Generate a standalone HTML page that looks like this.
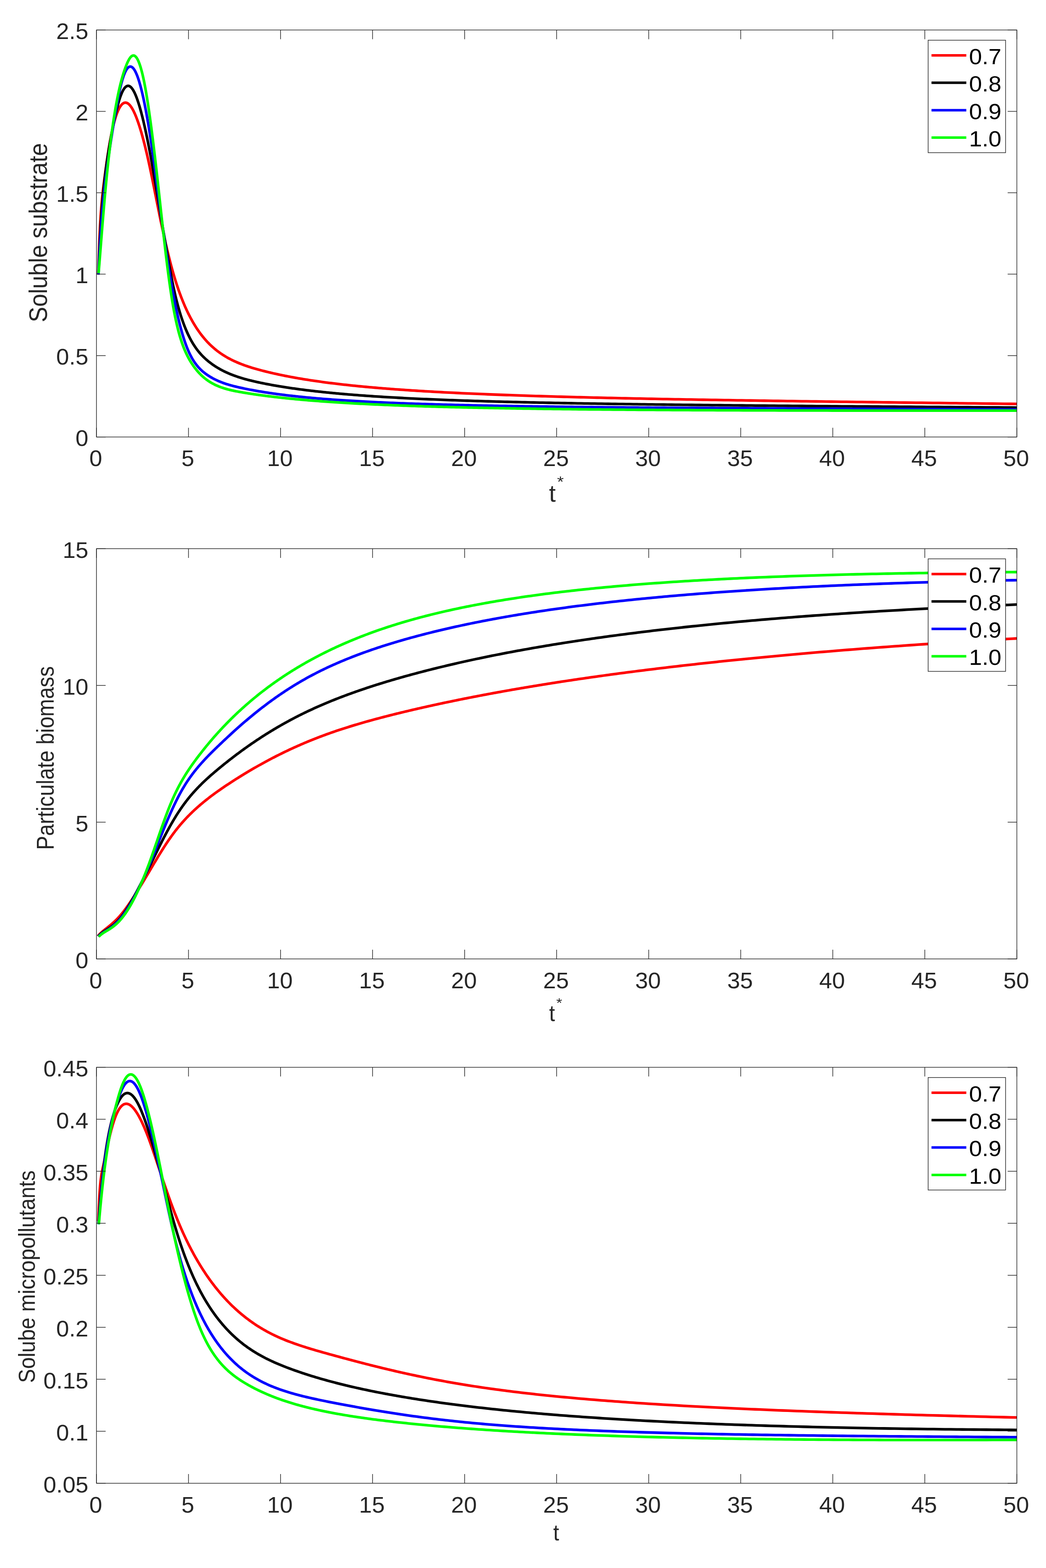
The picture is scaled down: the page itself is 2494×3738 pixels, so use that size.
<!DOCTYPE html>
<html><head><meta charset="utf-8"><title>plot</title>
<style>html,body{margin:0;padding:0;background:#fff;} svg{display:block;}</style>
</head><body>
<svg xmlns="http://www.w3.org/2000/svg" width="2494" height="3738" viewBox="0 0 2494 3738" font-family="'Liberation Sans', Arial, Helvetica, sans-serif">
<rect width="2494" height="3738" fill="#ffffff"/>
<clipPath id="c0"><rect x="230.0" y="71.5" width="2194.5" height="970.2"/></clipPath>
<g clip-path="url(#c0)" fill="none" stroke-width="6.3" stroke-linejoin="round" stroke-linecap="butt">
<path d="M234.40,653.95 L234.53,648.92 L234.66,643.98 L234.80,639.12 L234.93,634.35 L235.07,629.67 L235.20,625.06 L235.34,620.54 L235.48,616.09 L235.62,611.73 L235.76,607.44 L235.90,603.23 L236.04,599.10 L236.19,595.04 L236.33,591.05 L236.47,587.14 L236.62,583.29 L236.77,579.52 L236.92,575.81 L237.06,572.18 L237.21,568.60 L237.37,565.10 L237.52,561.65 L237.67,558.27 L237.83,554.95 L237.98,551.69 L238.14,548.49 L238.29,545.35 L238.45,542.27 L238.61,539.24 L238.77,536.26 L238.93,533.34 L239.10,530.47 L239.26,527.65 L239.42,524.89 L239.59,522.17 L239.76,519.49 L239.93,516.87 L240.10,514.29 L240.27,511.75 L240.44,509.25 L240.61,506.80 L240.79,504.39 L240.96,502.02 L241.14,499.68 L241.31,497.38 L241.49,495.12 L241.67,492.89 L241.85,490.70 L242.04,488.54 L242.22,486.41 L242.41,484.31 L242.59,482.24 L242.78,480.19 L242.97,478.17 L243.16,476.18 L243.35,474.21 L243.54,472.27 L243.74,470.34 L243.93,468.44 L244.13,466.56 L244.33,464.69 L244.53,462.84 L244.73,461.01 L244.93,459.19 L245.13,457.39 L245.34,455.60 L245.54,453.82 L245.75,452.05 L245.96,450.29 L246.17,448.53 L246.38,446.78 L246.60,445.04 L246.81,443.31 L247.03,441.57 L247.24,439.84 L247.46,438.11 L247.68,436.38 L247.91,434.64 L248.13,432.90 L248.36,431.16 L248.58,429.42 L248.81,427.67 L249.04,425.91 L249.27,424.14 L249.50,422.37 L249.74,420.59 L249.98,418.80 L250.21,417.00 L250.45,415.20 L250.69,413.39 L250.94,411.58 L251.18,409.77 L251.43,407.94 L251.67,406.12 L251.92,404.28 L252.17,402.45 L252.43,400.61 L252.68,398.77 L252.94,396.92 L253.20,395.07 L253.45,393.22 L253.72,391.37 L253.98,389.52 L254.24,387.66 L254.51,385.80 L254.78,383.94 L255.05,382.09 L255.32,380.23 L255.60,378.37 L255.87,376.51 L256.15,374.65 L256.43,372.79 L256.71,370.94 L256.99,369.08 L257.28,367.23 L257.57,365.38 L257.86,363.53 L258.15,361.69 L258.44,359.85 L258.74,358.01 L259.03,356.17 L259.33,354.34 L259.63,352.51 L259.94,350.69 L260.24,348.88 L260.55,347.06 L260.86,345.26 L261.17,343.46 L261.49,341.67 L261.80,339.88 L262.12,338.10 L262.44,336.32 L262.76,334.56 L263.09,332.80 L263.41,331.05 L263.74,329.31 L264.08,327.58 L264.41,325.85 L264.74,324.14 L265.08,322.43 L265.42,320.74 L265.77,319.05 L266.11,317.38 L266.46,315.71 L266.81,314.06 L267.16,312.42 L267.51,310.79 L267.87,309.18 L268.23,307.57 L268.59,305.98 L268.96,304.40 L269.32,302.83 L269.69,301.28 L270.07,299.74 L270.44,298.22 L270.82,296.71 L271.20,295.22 L271.58,293.74 L271.96,292.27 L272.35,290.83 L272.74,289.40 L273.13,287.98 L273.53,286.58 L273.92,285.20 L274.33,283.84 L274.73,282.49 L275.13,281.16 L275.54,279.85 L275.95,278.56 L276.37,277.29 L276.79,276.03 L277.21,274.80 L277.63,273.58 L278.05,272.39 L278.48,271.22 L278.91,270.06 L279.35,268.93 L279.79,267.82 L280.23,266.73 L280.67,265.66 L281.12,264.62 L281.57,263.60 L282.02,262.60 L282.47,261.62 L282.93,260.67 L283.39,259.74 L283.86,258.84 L284.33,257.96 L284.80,257.10 L285.27,256.27 L285.75,255.47 L286.23,254.69 L286.72,253.94 L287.20,253.21 L287.69,252.51 L288.19,251.84 L288.69,251.19 L289.19,250.57 L289.69,249.98 L290.20,249.42 L290.71,248.89 L291.22,248.38 L291.74,247.91 L292.26,247.47 L292.79,247.05 L293.32,246.67 L293.85,246.32 L294.39,246.01 L294.93,245.72 L295.47,245.48 L296.02,245.26 L296.57,245.08 L297.12,244.93 L297.68,244.82 L298.24,244.75 L298.81,244.71 L299.38,244.71 L299.95,244.75 L300.53,244.83 L301.11,244.95 L301.70,245.10 L302.28,245.30 L302.88,245.53 L303.48,245.81 L304.08,246.12 L304.68,246.48 L305.29,246.89 L305.91,247.33 L306.52,247.82 L307.15,248.35 L307.77,248.93 L308.40,249.55 L309.04,250.22 L309.68,250.94 L310.32,251.70 L310.97,252.51 L311.62,253.36 L312.28,254.27 L312.94,255.22 L313.60,256.22 L314.27,257.28 L314.95,258.38 L315.63,259.53 L316.31,260.74 L317.00,262.00 L317.69,263.31 L318.39,264.67 L319.10,266.08 L319.80,267.55 L320.51,269.08 L321.23,270.66 L321.95,272.30 L322.68,273.99 L323.41,275.74 L324.15,277.54 L324.89,279.40 L325.64,281.33 L326.39,283.31 L327.15,285.35 L327.91,287.44 L328.68,289.60 L329.45,291.83 L330.23,294.11 L331.01,296.45 L331.80,298.86 L332.59,301.33 L333.39,303.86 L334.20,306.46 L335.01,309.12 L335.82,311.84 L336.65,314.64 L337.47,317.49 L338.31,320.42 L339.14,323.41 L339.99,326.47 L340.84,329.60 L341.69,332.79 L342.55,336.06 L343.42,339.39 L344.29,342.80 L345.17,346.28 L346.06,349.82 L346.95,353.44 L347.84,357.14 L348.75,360.90 L349.66,364.74 L350.57,368.65 L351.49,372.64 L352.42,376.70 L353.36,380.84 L354.30,385.05 L355.24,389.34 L356.20,393.71 L357.16,398.15 L358.12,402.67 L359.09,407.28 L360.07,411.95 L361.06,416.70 L362.05,421.52 L363.05,426.40 L364.06,431.34 L365.07,436.34 L366.09,441.40 L367.12,446.50 L368.15,451.66 L369.19,456.86 L370.24,462.10 L371.30,467.38 L372.36,472.69 L373.43,478.04 L374.51,483.41 L375.59,488.81 L376.68,494.23 L377.78,499.66 L378.89,505.11 L380.00,510.57 L381.12,516.04 L382.25,521.52 L383.39,526.99 L384.53,532.46 L385.69,537.93 L386.85,543.39 L388.01,548.83 L389.19,554.27 L390.37,559.69 L391.57,565.09 L392.77,570.46 L393.98,575.81 L395.19,581.14 L396.42,586.43 L397.65,591.69 L398.89,596.91 L400.14,602.10 L401.40,607.24 L402.67,612.34 L403.94,617.39 L405.23,622.40 L406.52,627.36 L407.82,632.26 L409.13,637.12 L410.45,641.92 L411.78,646.66 L413.12,651.34 L414.46,655.96 L415.82,660.52 L417.19,665.01 L418.56,669.44 L419.94,673.81 L421.34,678.11 L422.74,682.36 L424.15,686.54 L425.57,690.66 L427.00,694.72 L428.45,698.73 L429.90,702.67 L431.36,706.55 L432.83,710.38 L434.31,714.15 L435.80,717.86 L437.30,721.51 L438.81,725.11 L440.33,728.65 L441.86,732.14 L443.41,735.57 L444.96,738.95 L446.52,742.27 L448.10,745.54 L449.68,748.76 L451.28,751.93 L452.88,755.04 L454.50,758.11 L456.13,761.12 L457.76,764.08 L459.42,766.99 L461.08,769.86 L462.75,772.67 L464.43,775.44 L466.13,778.16 L467.84,780.83 L469.55,783.45 L471.28,786.03 L473.03,788.56 L474.78,791.05 L476.55,793.49 L478.32,795.89 L480.11,798.25 L481.92,800.56 L483.73,802.83 L485.56,805.05 L487.40,807.24 L489.25,809.38 L491.11,811.48 L492.99,813.55 L494.88,815.57 L496.78,817.55 L498.70,819.50 L500.62,821.40 L502.57,823.27 L504.52,825.11 L506.49,826.90 L508.47,828.66 L510.46,830.39 L512.47,832.07 L514.49,833.73 L516.53,835.35 L518.58,836.94 L520.64,838.50 L522.72,840.02 L524.81,841.52 L526.92,842.98 L529.04,844.41 L531.17,845.82 L533.32,847.19 L535.49,848.54 L537.67,849.86 L539.86,851.15 L542.07,852.41 L544.29,853.65 L546.53,854.87 L548.78,856.06 L551.05,857.22 L553.33,858.37 L555.63,859.49 L557.95,860.58 L560.28,861.66 L562.63,862.71 L564.99,863.75 L567.37,864.76 L569.76,865.76 L572.18,866.73 L574.60,867.69 L577.05,868.63 L579.51,869.56 L581.99,870.46 L584.48,871.35 L586.99,872.23 L589.52,873.09 L592.07,873.94 L594.63,874.77 L597.21,875.60 L599.81,876.41 L602.42,877.20 L605.06,877.99 L607.71,878.77 L610.38,879.53 L613.07,880.29 L615.77,881.04 L618.50,881.78 L621.24,882.51 L624.00,883.24 L626.78,883.96 L629.58,884.67 L632.40,885.38 L635.23,886.09 L638.09,886.79 L640.97,887.48 L643.86,888.17 L646.78,888.85 L649.71,889.53 L652.67,890.20 L655.64,890.87 L658.64,891.53 L661.65,892.19 L664.69,892.85 L667.75,893.49 L670.82,894.14 L673.92,894.77 L677.04,895.41 L680.18,896.04 L683.34,896.66 L686.53,897.28 L689.73,897.89 L692.96,898.50 L696.21,899.11 L699.48,899.71 L702.77,900.30 L706.09,900.89 L709.43,901.48 L712.79,902.06 L716.17,902.64 L719.58,903.21 L723.01,903.78 L726.46,904.34 L729.94,904.90 L733.44,905.45 L736.96,906.00 L740.51,906.55 L744.08,907.09 L747.68,907.63 L751.30,908.16 L754.94,908.69 L758.61,909.21 L762.31,909.73 L766.03,910.25 L769.77,910.76 L773.54,911.27 L777.34,911.77 L781.16,912.27 L785.01,912.76 L788.89,913.25 L792.79,913.74 L796.72,914.22 L800.67,914.70 L804.65,915.17 L808.66,915.64 L812.69,916.11 L816.76,916.57 L820.85,917.03 L824.96,917.49 L829.11,917.94 L833.29,918.39 L837.49,918.83 L841.72,919.27 L845.98,919.70 L850.27,920.14 L854.59,920.57 L858.93,920.99 L863.31,921.41 L867.72,921.83 L872.15,922.24 L876.62,922.65 L881.12,923.06 L885.65,923.46 L890.20,923.87 L894.79,924.26 L899.42,924.65 L904.07,925.04 L908.75,925.43 L913.47,925.81 L918.21,926.19 L922.99,926.57 L927.81,926.94 L932.65,927.31 L937.53,927.68 L942.44,928.04 L947.39,928.40 L952.36,928.76 L957.38,929.11 L962.42,929.47 L967.50,929.81 L972.62,930.16 L977.77,930.50 L982.95,930.84 L988.17,931.17 L993.43,931.51 L998.72,931.84 L1004.05,932.16 L1009.41,932.49 L1014.81,932.81 L1020.25,933.13 L1025.72,933.44 L1031.23,933.76 L1036.78,934.07 L1042.36,934.37 L1047.99,934.68 L1053.65,934.98 L1059.35,935.28 L1065.09,935.57 L1070.87,935.87 L1076.69,936.16 L1082.54,936.45 L1088.44,936.73 L1094.38,937.02 L1100.35,937.30 L1106.37,937.58 L1112.43,937.86 L1118.53,938.13 L1124.67,938.40 L1130.86,938.67 L1137.08,938.94 L1143.35,939.20 L1149.66,939.46 L1156.01,939.72 L1162.41,939.98 L1168.85,940.24 L1175.33,940.49 L1181.86,940.74 L1188.43,940.99 L1195.05,941.24 L1201.71,941.48 L1208.42,941.73 L1215.17,941.97 L1221.97,942.21 L1228.81,942.44 L1235.71,942.68 L1242.64,942.91 L1249.63,943.14 L1256.66,943.37 L1263.74,943.60 L1270.87,943.82 L1278.05,944.05 L1285.27,944.27 L1292.55,944.49 L1299.87,944.71 L1307.25,944.92 L1314.67,945.14 L1322.15,945.35 L1329.67,945.56 L1337.25,945.77 L1344.88,945.98 L1352.56,946.19 L1360.29,946.39 L1368.07,946.60 L1375.91,946.80 L1383.80,947.00 L1391.75,947.20 L1399.75,947.40 L1407.80,947.60 L1415.91,947.79 L1424.07,947.99 L1432.29,948.18 L1440.56,948.37 L1448.89,948.56 L1457.28,948.75 L1465.73,948.94 L1474.23,949.12 L1482.79,949.31 L1491.40,949.49 L1500.08,949.68 L1508.81,949.86 L1517.61,950.04 L1526.46,950.22 L1535.38,950.40 L1544.35,950.57 L1553.39,950.75 L1562.49,950.93 L1571.65,951.10 L1580.87,951.28 L1590.15,951.45 L1599.50,951.62 L1608.91,951.79 L1618.38,951.97 L1627.92,952.14 L1637.53,952.30 L1647.20,952.47 L1656.93,952.64 L1666.73,952.81 L1676.60,952.98 L1686.54,953.14 L1696.54,953.31 L1706.61,953.47 L1716.75,953.64 L1726.96,953.80 L1737.23,953.96 L1747.58,954.13 L1758.00,954.29 L1768.49,954.45 L1779.05,954.61 L1789.68,954.77 L1800.38,954.93 L1811.16,955.10 L1822.01,955.26 L1832.93,955.42 L1843.93,955.58 L1855.00,955.74 L1866.15,955.89 L1877.37,956.05 L1888.67,956.21 L1900.05,956.37 L1911.50,956.53 L1923.03,956.69 L1934.64,956.85 L1946.33,957.01 L1958.10,957.17 L1969.95,957.33 L1981.88,957.48 L1993.89,957.64 L2005.98,957.80 L2018.15,957.96 L2030.41,958.12 L2042.75,958.28 L2055.17,958.44 L2067.68,958.60 L2080.27,958.76 L2092.95,958.92 L2105.72,959.08 L2118.57,959.24 L2131.51,959.41 L2144.54,959.57 L2157.65,959.73 L2170.86,959.89 L2184.15,960.06 L2197.54,960.22 L2211.01,960.38 L2224.58,960.55 L2238.24,960.71 L2251.99,960.88 L2265.84,961.05 L2279.78,961.21 L2293.81,961.38 L2307.94,961.55 L2322.17,961.72 L2336.49,961.89 L2350.91,962.06 L2365.43,962.23 L2380.05,962.40 L2394.77,962.58 L2409.58,962.75 L2424.50,962.93" stroke="#ff0000"/>
<path d="M234.60,654.58 L234.73,650.97 L234.87,647.38 L235.00,643.82 L235.14,640.29 L235.27,636.79 L235.41,633.31 L235.55,629.86 L235.69,626.43 L235.83,623.03 L235.97,619.66 L236.11,616.31 L236.26,612.99 L236.40,609.69 L236.55,606.42 L236.69,603.17 L236.84,599.94 L236.99,596.75 L237.14,593.57 L237.29,590.42 L237.44,587.29 L237.59,584.19 L237.74,581.10 L237.90,578.05 L238.05,575.01 L238.21,572.00 L238.37,569.01 L238.52,566.04 L238.68,563.09 L238.84,560.17 L239.01,557.27 L239.17,554.39 L239.33,551.52 L239.50,548.69 L239.66,545.87 L239.83,543.07 L240.00,540.29 L240.17,537.53 L240.34,534.80 L240.51,532.08 L240.69,529.38 L240.86,526.70 L241.03,524.04 L241.21,521.40 L241.39,518.77 L241.57,516.17 L241.75,513.58 L241.93,511.02 L242.11,508.47 L242.30,505.93 L242.48,503.42 L242.67,500.92 L242.86,498.44 L243.04,495.97 L243.23,493.53 L243.43,491.09 L243.62,488.68 L243.81,486.28 L244.01,483.90 L244.21,481.53 L244.40,479.17 L244.60,476.84 L244.80,474.51 L245.01,472.20 L245.21,469.91 L245.41,467.63 L245.62,465.37 L245.83,463.11 L246.04,460.88 L246.25,458.65 L246.46,456.44 L246.67,454.24 L246.89,452.05 L247.10,449.88 L247.32,447.72 L247.54,445.57 L247.76,443.44 L247.98,441.31 L248.21,439.20 L248.43,437.09 L248.66,435.00 L248.89,432.92 L249.12,430.85 L249.35,428.80 L249.58,426.75 L249.82,424.71 L250.05,422.68 L250.29,420.66 L250.53,418.65 L250.77,416.65 L251.01,414.66 L251.26,412.68 L251.50,410.70 L251.75,408.74 L252.00,406.78 L252.25,404.83 L252.50,402.89 L252.76,400.96 L253.01,399.03 L253.27,397.11 L253.53,395.20 L253.79,393.29 L254.06,391.39 L254.32,389.50 L254.59,387.61 L254.86,385.73 L255.13,383.85 L255.40,381.99 L255.67,380.12 L255.95,378.26 L256.23,376.41 L256.51,374.56 L256.79,372.71 L257.07,370.87 L257.36,369.03 L257.64,367.20 L257.93,365.37 L258.22,363.54 L258.52,361.72 L258.81,359.90 L259.11,358.08 L259.41,356.26 L259.71,354.45 L260.01,352.64 L260.32,350.83 L260.63,349.02 L260.94,347.22 L261.25,345.41 L261.56,343.61 L261.88,341.81 L262.19,340.01 L262.51,338.21 L262.84,336.40 L263.16,334.60 L263.49,332.80 L263.82,331.00 L264.15,329.20 L264.48,327.40 L264.82,325.59 L265.16,323.79 L265.50,321.98 L265.84,320.17 L266.18,318.36 L266.53,316.55 L266.88,314.74 L267.23,312.92 L267.59,311.10 L267.94,309.28 L268.30,307.45 L268.66,305.62 L269.03,303.79 L269.39,301.95 L269.76,300.11 L270.13,298.27 L270.51,296.42 L270.88,294.57 L271.26,292.72 L271.64,290.86 L272.03,289.00 L272.42,287.15 L272.80,285.29 L273.20,283.44 L273.59,281.59 L273.99,279.74 L274.39,277.90 L274.79,276.06 L275.20,274.22 L275.61,272.40 L276.02,270.58 L276.43,268.76 L276.85,266.96 L277.27,265.17 L277.69,263.38 L278.11,261.61 L278.54,259.85 L278.97,258.10 L279.41,256.37 L279.84,254.65 L280.28,252.95 L280.73,251.26 L281.17,249.59 L281.62,247.93 L282.07,246.30 L282.53,244.68 L282.99,243.08 L283.45,241.51 L283.91,239.95 L284.38,238.42 L284.85,236.91 L285.32,235.43 L285.80,233.97 L286.28,232.54 L286.76,231.13 L287.25,229.75 L287.74,228.39 L288.23,227.07 L288.73,225.78 L289.23,224.51 L289.73,223.28 L290.24,222.08 L290.75,220.91 L291.27,219.77 L291.78,218.67 L292.30,217.61 L292.83,216.58 L293.36,215.59 L293.89,214.63 L294.42,213.72 L294.96,212.84 L295.50,212.00 L296.05,211.21 L296.60,210.45 L297.15,209.74 L297.71,209.07 L298.27,208.44 L298.84,207.86 L299.40,207.33 L299.98,206.84 L300.55,206.39 L301.13,206.00 L301.72,205.66 L302.31,205.36 L302.90,205.11 L303.49,204.92 L304.09,204.78 L304.70,204.69 L305.31,204.65 L305.92,204.67 L306.54,204.74 L307.16,204.87 L307.78,205.06 L308.41,205.30 L309.04,205.60 L309.68,205.97 L310.32,206.39 L310.97,206.87 L311.62,207.41 L312.28,208.02 L312.94,208.68 L313.60,209.42 L314.27,210.21 L314.94,211.08 L315.62,212.01 L316.30,213.00 L316.99,214.07 L317.68,215.20 L318.38,216.40 L319.08,217.67 L319.79,219.02 L320.50,220.43 L321.21,221.92 L321.93,223.48 L322.66,225.12 L323.39,226.83 L324.12,228.61 L324.86,230.47 L325.61,232.40 L326.36,234.41 L327.11,236.50 L327.87,238.66 L328.64,240.90 L329.41,243.22 L330.19,245.62 L330.97,248.09 L331.75,250.64 L332.55,253.28 L333.34,255.99 L334.15,258.78 L334.95,261.65 L335.77,264.61 L336.59,267.64 L337.41,270.76 L338.24,273.96 L339.08,277.24 L339.92,280.61 L340.77,284.06 L341.62,287.59 L342.48,291.21 L343.34,294.91 L344.21,298.70 L345.09,302.58 L345.97,306.54 L346.86,310.58 L347.76,314.72 L348.66,318.94 L349.56,323.25 L350.48,327.65 L351.39,332.14 L352.32,336.71 L353.25,341.38 L354.19,346.14 L355.13,350.98 L356.08,355.92 L357.04,360.95 L358.00,366.07 L358.97,371.29 L359.95,376.59 L360.93,381.99 L361.92,387.49 L362.92,393.08 L363.92,398.76 L364.93,404.54 L365.95,410.41 L366.97,416.37 L368.00,422.42 L369.04,428.55 L370.09,434.76 L371.14,441.04 L372.20,447.39 L373.26,453.80 L374.34,460.26 L375.42,466.78 L376.51,473.34 L377.60,479.95 L378.70,486.60 L379.81,493.27 L380.93,499.98 L382.06,506.70 L383.19,513.45 L384.33,520.20 L385.48,526.98 L386.64,533.79 L387.80,540.62 L388.97,547.50 L390.15,554.41 L391.34,561.37 L392.54,568.38 L393.74,575.45 L394.95,582.59 L396.17,589.77 L397.40,596.98 L398.64,604.22 L399.88,611.46 L401.14,618.69 L402.40,625.89 L403.67,633.05 L404.95,640.16 L406.24,647.20 L407.54,654.15 L408.84,661.00 L410.16,667.74 L411.48,674.34 L412.81,680.80 L414.16,687.11 L415.51,693.27 L416.87,699.28 L418.24,705.15 L419.61,710.87 L421.00,716.46 L422.40,721.90 L423.81,727.21 L425.22,732.39 L426.65,737.44 L428.08,742.35 L429.53,747.14 L430.98,751.81 L432.45,756.35 L433.92,760.78 L435.41,765.08 L436.90,769.28 L438.41,773.35 L439.92,777.32 L441.45,781.18 L442.99,784.93 L444.53,788.58 L446.09,792.13 L447.66,795.57 L449.23,798.92 L450.82,802.17 L452.42,805.34 L454.03,808.41 L455.65,811.39 L457.29,814.29 L458.93,817.10 L460.58,819.83 L462.25,822.48 L463.93,825.06 L465.61,827.56 L467.31,829.98 L469.03,832.34 L470.75,834.63 L472.48,836.85 L474.23,839.01 L475.99,841.11 L477.76,843.15 L479.54,845.13 L481.33,847.06 L483.14,848.94 L484.96,850.77 L486.79,852.54 L488.63,854.28 L490.49,855.97 L492.36,857.62 L494.24,859.23 L496.13,860.80 L498.04,862.34 L499.96,863.85 L501.89,865.33 L503.84,866.78 L505.80,868.20 L507.77,869.59 L509.76,870.96 L511.76,872.29 L513.77,873.60 L515.79,874.89 L517.83,876.15 L519.89,877.38 L521.96,878.59 L524.04,879.77 L526.13,880.93 L528.24,882.06 L530.37,883.18 L532.51,884.27 L534.66,885.33 L536.83,886.38 L539.01,887.40 L541.21,888.41 L543.42,889.39 L545.65,890.35 L547.89,891.30 L550.15,892.22 L552.42,893.13 L554.71,894.02 L557.02,894.89 L559.34,895.74 L561.67,896.57 L564.02,897.39 L566.39,898.20 L568.77,898.99 L571.17,899.76 L573.59,900.52 L576.02,901.27 L578.47,902.00 L580.94,902.72 L583.42,903.43 L585.92,904.12 L588.43,904.80 L590.96,905.47 L593.51,906.13 L596.08,906.79 L598.67,907.43 L601.27,908.06 L603.89,908.68 L606.53,909.29 L609.18,909.90 L611.86,910.50 L614.55,911.09 L617.26,911.67 L619.99,912.25 L622.73,912.83 L625.50,913.39 L628.28,913.96 L631.08,914.51 L633.91,915.07 L636.75,915.62 L639.61,916.16 L642.49,916.71 L645.39,917.24 L648.31,917.78 L651.25,918.31 L654.21,918.83 L657.18,919.35 L660.18,919.87 L663.20,920.38 L666.24,920.89 L669.30,921.40 L672.38,921.90 L675.49,922.39 L678.61,922.89 L681.75,923.38 L684.92,923.86 L688.11,924.34 L691.32,924.82 L694.55,925.29 L697.80,925.76 L701.07,926.23 L704.37,926.69 L707.69,927.15 L711.03,927.61 L714.40,928.06 L717.78,928.50 L721.19,928.95 L724.63,929.39 L728.08,929.82 L731.56,930.26 L735.07,930.69 L738.59,931.11 L742.15,931.53 L745.72,931.95 L749.32,932.37 L752.94,932.78 L756.59,933.19 L760.27,933.59 L763.96,933.99 L767.69,934.39 L771.44,934.78 L775.21,935.17 L779.01,935.56 L782.84,935.94 L786.69,936.33 L790.56,936.70 L794.47,937.08 L798.40,937.45 L802.36,937.81 L806.34,938.18 L810.35,938.54 L814.39,938.90 L818.45,939.25 L822.55,939.60 L826.67,939.95 L830.82,940.30 L834.99,940.64 L839.20,940.98 L843.43,941.31 L847.69,941.65 L851.99,941.98 L856.31,942.30 L860.66,942.63 L865.03,942.95 L869.44,943.26 L873.88,943.58 L878.35,943.89 L882.85,944.20 L887.38,944.51 L891.94,944.81 L896.53,945.11 L901.15,945.41 L905.81,945.70 L910.49,946.00 L915.21,946.28 L919.96,946.57 L924.74,946.86 L929.56,947.14 L934.40,947.41 L939.28,947.69 L944.19,947.96 L949.14,948.23 L954.12,948.50 L959.13,948.77 L964.18,949.03 L969.26,949.29 L974.38,949.55 L979.53,949.80 L984.71,950.06 L989.93,950.31 L995.19,950.56 L1000.48,950.80 L1005.81,951.04 L1011.17,951.28 L1016.57,951.52 L1022.01,951.76 L1027.48,951.99 L1032.99,952.22 L1038.54,952.45 L1044.13,952.68 L1049.75,952.90 L1055.41,953.13 L1061.11,953.35 L1066.85,953.56 L1072.63,953.78 L1078.45,953.99 L1084.30,954.20 L1090.20,954.41 L1096.13,954.62 L1102.11,954.83 L1108.13,955.03 L1114.18,955.23 L1120.28,955.43 L1126.42,955.62 L1132.61,955.82 L1138.83,956.01 L1145.10,956.20 L1151.40,956.39 L1157.75,956.58 L1164.15,956.77 L1170.59,956.95 L1177.07,957.13 L1183.59,957.31 L1190.16,957.49 L1196.78,957.66 L1203.44,957.84 L1210.14,958.01 L1216.89,958.18 L1223.68,958.35 L1230.53,958.52 L1237.41,958.68 L1244.35,958.85 L1251.33,959.01 L1258.36,959.17 L1265.44,959.33 L1272.56,959.49 L1279.73,959.65 L1286.96,959.80 L1294.23,959.95 L1301.55,960.10 L1308.92,960.25 L1316.33,960.40 L1323.80,960.55 L1331.33,960.70 L1338.90,960.84 L1346.52,960.98 L1354.19,961.13 L1361.92,961.27 L1369.70,961.41 L1377.53,961.54 L1385.42,961.68 L1393.35,961.81 L1401.35,961.95 L1409.39,962.08 L1417.49,962.21 L1425.65,962.34 L1433.86,962.47 L1442.13,962.60 L1450.45,962.73 L1458.83,962.85 L1467.27,962.98 L1475.76,963.10 L1484.31,963.22 L1492.92,963.34 L1501.59,963.47 L1510.32,963.58 L1519.10,963.70 L1527.95,963.82 L1536.85,963.94 L1545.82,964.05 L1554.84,964.17 L1563.93,964.28 L1573.08,964.39 L1582.29,964.51 L1591.56,964.62 L1600.90,964.73 L1610.30,964.84 L1619.76,964.95 L1629.29,965.06 L1638.89,965.16 L1648.54,965.27 L1658.27,965.38 L1668.06,965.48 L1677.91,965.59 L1687.83,965.69 L1697.82,965.80 L1707.88,965.90 L1718.01,966.00 L1728.20,966.10 L1738.46,966.20 L1748.80,966.31 L1759.20,966.41 L1769.67,966.51 L1780.22,966.61 L1790.83,966.70 L1801.52,966.80 L1812.28,966.90 L1823.12,967.00 L1834.02,967.10 L1845.00,967.19 L1856.06,967.29 L1867.19,967.39 L1878.40,967.48 L1889.68,967.58 L1901.04,967.68 L1912.47,967.77 L1923.99,967.87 L1935.58,967.96 L1947.25,968.06 L1959.00,968.15 L1970.82,968.25 L1982.73,968.34 L1994.72,968.44 L2006.79,968.53 L2018.95,968.62 L2031.18,968.72 L2043.50,968.81 L2055.90,968.91 L2068.39,969.00 L2080.96,969.10 L2093.61,969.19 L2106.36,969.29 L2119.18,969.38 L2132.10,969.48 L2145.10,969.57 L2158.19,969.67 L2171.37,969.76 L2184.64,969.86 L2198.00,969.95 L2211.45,970.05 L2224.99,970.15 L2238.63,970.24 L2252.35,970.34 L2266.17,970.44 L2280.08,970.53 L2294.09,970.63 L2308.19,970.73 L2322.39,970.83 L2336.68,970.93 L2351.07,971.03 L2365.56,971.13 L2380.14,971.23 L2394.83,971.33 L2409.61,971.43 L2424.50,971.53" stroke="#000000"/>
<path d="M234.80,654.31 L234.93,651.22 L235.07,648.14 L235.20,645.09 L235.34,642.05 L235.48,639.03 L235.62,636.03 L235.76,633.05 L235.90,630.09 L236.04,627.15 L236.18,624.22 L236.32,621.32 L236.47,618.43 L236.61,615.56 L236.76,612.71 L236.91,609.87 L237.06,607.05 L237.21,604.25 L237.36,601.47 L237.51,598.70 L237.66,595.95 L237.81,593.21 L237.97,590.49 L238.12,587.79 L238.28,585.10 L238.44,582.43 L238.60,579.77 L238.76,577.13 L238.92,574.50 L239.08,571.89 L239.24,569.29 L239.40,566.71 L239.57,564.14 L239.74,561.58 L239.90,559.04 L240.07,556.51 L240.24,553.99 L240.41,551.49 L240.58,549.00 L240.76,546.52 L240.93,544.05 L241.11,541.60 L241.28,539.16 L241.46,536.73 L241.64,534.31 L241.82,531.91 L242.00,529.51 L242.19,527.13 L242.37,524.75 L242.56,522.39 L242.74,520.04 L242.93,517.70 L243.12,515.37 L243.31,513.04 L243.50,510.73 L243.69,508.43 L243.89,506.14 L244.08,503.85 L244.28,501.58 L244.48,499.31 L244.68,497.05 L244.88,494.81 L245.08,492.56 L245.28,490.33 L245.49,488.11 L245.70,485.89 L245.90,483.68 L246.11,481.47 L246.32,479.28 L246.53,477.09 L246.75,474.90 L246.96,472.73 L247.18,470.56 L247.40,468.39 L247.62,466.23 L247.84,464.08 L248.06,461.93 L248.28,459.79 L248.51,457.65 L248.74,455.52 L248.96,453.39 L249.19,451.26 L249.42,449.14 L249.66,447.03 L249.89,444.91 L250.13,442.81 L250.37,440.70 L250.61,438.60 L250.85,436.50 L251.09,434.40 L251.33,432.31 L251.58,430.22 L251.83,428.13 L252.08,426.04 L252.33,423.96 L252.58,421.88 L252.83,419.80 L253.09,417.71 L253.35,415.64 L253.61,413.56 L253.87,411.48 L254.13,409.40 L254.40,407.32 L254.66,405.25 L254.93,403.17 L255.20,401.09 L255.47,399.02 L255.75,396.94 L256.02,394.86 L256.30,392.78 L256.58,390.69 L256.86,388.61 L257.15,386.53 L257.43,384.44 L257.72,382.35 L258.01,380.26 L258.30,378.17 L258.59,376.07 L258.89,373.97 L259.18,371.87 L259.48,369.76 L259.78,367.65 L260.09,365.54 L260.39,363.42 L260.70,361.30 L261.01,359.18 L261.32,357.05 L261.63,354.91 L261.95,352.78 L262.27,350.63 L262.59,348.48 L262.91,346.33 L263.23,344.17 L263.56,342.00 L263.89,339.83 L264.22,337.65 L264.55,335.47 L264.89,333.28 L265.22,331.08 L265.56,328.88 L265.91,326.66 L266.25,324.45 L266.60,322.22 L266.95,319.98 L267.30,317.74 L267.65,315.49 L268.01,313.23 L268.37,310.96 L268.73,308.69 L269.09,306.40 L269.46,304.11 L269.83,301.81 L270.20,299.49 L270.57,297.17 L270.95,294.84 L271.33,292.49 L271.71,290.14 L272.09,287.78 L272.48,285.41 L272.87,283.03 L273.26,280.65 L273.65,278.26 L274.05,275.86 L274.45,273.47 L274.85,271.07 L275.26,268.67 L275.67,266.27 L276.08,263.87 L276.49,261.48 L276.91,259.08 L277.32,256.69 L277.75,254.31 L278.17,251.93 L278.60,249.56 L279.03,247.20 L279.46,244.84 L279.90,242.50 L280.34,240.17 L280.78,237.85 L281.23,235.54 L281.67,233.24 L282.12,230.97 L282.58,228.71 L283.04,226.46 L283.50,224.23 L283.96,222.03 L284.43,219.84 L284.90,217.68 L285.37,215.53 L285.85,213.41 L286.33,211.32 L286.81,209.25 L287.29,207.21 L287.78,205.19 L288.28,203.20 L288.77,201.24 L289.27,199.32 L289.77,197.42 L290.28,195.56 L290.79,193.73 L291.30,191.93 L291.82,190.17 L292.34,188.45 L292.86,186.76 L293.39,185.12 L293.92,183.51 L294.45,181.94 L294.99,180.42 L295.53,178.94 L296.08,177.50 L296.63,176.11 L297.18,174.76 L297.74,173.46 L298.30,172.20 L298.86,171.00 L299.43,169.84 L300.00,168.74 L300.57,167.69 L301.15,166.69 L301.74,165.74 L302.32,164.85 L302.91,164.02 L303.51,163.24 L304.11,162.52 L304.71,161.86 L305.32,161.26 L305.93,160.72 L306.54,160.25 L307.16,159.83 L307.79,159.48 L308.42,159.20 L309.05,158.98 L309.68,158.83 L310.33,158.75 L310.97,158.74 L311.62,158.80 L312.27,158.93 L312.93,159.13 L313.60,159.41 L314.26,159.77 L314.93,160.20 L315.61,160.71 L316.29,161.30 L316.98,161.97 L317.67,162.72 L318.36,163.55 L319.06,164.47 L319.77,165.47 L320.47,166.55 L321.19,167.73 L321.91,168.99 L322.63,170.34 L323.36,171.78 L324.09,173.32 L324.83,174.94 L325.57,176.66 L326.32,178.48 L327.08,180.39 L327.83,182.40 L328.60,184.51 L329.37,186.71 L330.14,189.02 L330.92,191.43 L331.70,193.94 L332.49,196.56 L333.29,199.28 L334.09,202.11 L334.90,205.05 L335.71,208.09 L336.52,211.25 L337.35,214.51 L338.18,217.89 L339.01,221.38 L339.85,224.98 L340.69,228.71 L341.54,232.54 L342.40,236.50 L343.26,240.57 L344.13,244.77 L345.00,249.08 L345.88,253.52 L346.77,258.08 L347.66,262.77 L348.56,267.58 L349.46,272.52 L350.37,277.59 L351.29,282.78 L352.21,288.11 L353.14,293.57 L354.08,299.16 L355.02,304.88 L355.97,310.74 L356.92,316.74 L357.88,322.87 L358.85,329.15 L359.82,335.56 L360.80,342.11 L361.79,348.80 L362.78,355.64 L363.78,362.62 L364.79,369.74 L365.80,376.99 L366.82,384.37 L367.85,391.88 L368.88,399.49 L369.93,407.21 L370.97,415.03 L372.03,422.94 L373.09,430.94 L374.16,439.02 L375.24,447.17 L376.32,455.38 L377.42,463.65 L378.52,471.97 L379.62,480.34 L380.74,488.74 L381.86,497.18 L382.99,505.64 L384.12,514.11 L385.27,522.60 L386.42,531.09 L387.58,539.57 L388.75,548.04 L389.92,556.50 L391.11,564.93 L392.30,573.33 L393.50,581.69 L394.71,590.01 L395.92,598.28 L397.15,606.48 L398.38,614.62 L399.62,622.69 L400.87,630.68 L402.13,638.59 L403.40,646.41 L404.67,654.14 L405.96,661.78 L407.25,669.32 L408.55,676.77 L409.86,684.12 L411.18,691.37 L412.51,698.52 L413.84,705.56 L415.19,712.48 L416.54,719.30 L417.91,726.00 L419.28,732.59 L420.66,739.05 L422.05,745.39 L423.46,751.61 L424.87,757.70 L426.29,763.65 L427.72,769.48 L429.16,775.17 L430.61,780.72 L432.07,786.13 L433.53,791.40 L435.01,796.52 L436.50,801.49 L438.00,806.31 L439.51,810.97 L441.03,815.48 L442.56,819.83 L444.10,824.02 L445.65,828.05 L447.21,831.92 L448.78,835.63 L450.37,839.20 L451.96,842.62 L453.56,845.91 L455.18,849.06 L456.80,852.08 L458.44,854.97 L460.09,857.74 L461.75,860.39 L463.42,862.94 L465.10,865.37 L466.79,867.70 L468.49,869.94 L470.21,872.07 L471.94,874.12 L473.68,876.09 L475.43,877.97 L477.19,879.78 L478.96,881.51 L480.75,883.18 L482.55,884.78 L484.36,886.33 L486.18,887.83 L488.02,889.27 L489.86,890.67 L491.73,892.03 L493.60,893.36 L495.48,894.65 L497.38,895.90 L499.29,897.13 L501.22,898.31 L503.15,899.47 L505.10,900.59 L507.07,901.69 L509.04,902.75 L511.03,903.79 L513.04,904.79 L515.05,905.77 L517.09,906.72 L519.13,907.65 L521.19,908.55 L523.26,909.43 L525.35,910.28 L527.45,911.11 L529.56,911.92 L531.69,912.71 L533.83,913.47 L535.99,914.22 L538.16,914.95 L540.35,915.65 L542.55,916.35 L544.77,917.02 L547.00,917.68 L549.25,918.33 L551.51,918.96 L553.79,919.57 L556.08,920.18 L558.39,920.77 L560.71,921.35 L563.05,921.92 L565.41,922.48 L567.78,923.04 L570.17,923.58 L572.57,924.12 L574.99,924.65 L577.43,925.17 L579.88,925.69 L582.35,926.21 L584.84,926.72 L587.34,927.23 L589.86,927.74 L592.40,928.24 L594.95,928.73 L597.52,929.22 L600.11,929.71 L602.72,930.20 L605.34,930.68 L607.98,931.15 L610.64,931.63 L613.32,932.10 L616.02,932.56 L618.73,933.02 L621.46,933.48 L624.22,933.94 L626.98,934.39 L629.77,934.83 L632.58,935.28 L635.41,935.72 L638.25,936.15 L641.12,936.58 L644.00,937.01 L646.90,937.44 L649.83,937.86 L652.77,938.27 L655.73,938.69 L658.72,939.10 L661.72,939.51 L664.74,939.91 L667.79,940.31 L670.85,940.70 L673.93,941.10 L677.04,941.49 L680.17,941.87 L683.32,942.26 L686.49,942.64 L689.68,943.01 L692.89,943.38 L696.12,943.75 L699.38,944.12 L702.66,944.48 L705.96,944.84 L709.28,945.20 L712.63,945.55 L715.99,945.90 L719.39,946.25 L722.80,946.59 L726.24,946.93 L729.70,947.27 L733.18,947.60 L736.69,947.93 L740.22,948.26 L743.77,948.58 L747.35,948.91 L750.95,949.22 L754.58,949.54 L758.23,949.85 L761.91,950.16 L765.61,950.47 L769.34,950.77 L773.09,951.07 L776.87,951.37 L780.67,951.66 L784.50,951.96 L788.35,952.25 L792.23,952.53 L796.14,952.81 L800.07,953.10 L804.03,953.37 L808.02,953.65 L812.03,953.92 L816.07,954.19 L820.14,954.46 L824.23,954.72 L828.36,954.98 L832.51,955.24 L836.69,955.50 L840.90,955.75 L845.13,956.00 L849.40,956.25 L853.69,956.49 L858.01,956.74 L862.36,956.98 L866.75,957.22 L871.16,957.45 L875.60,957.68 L880.07,957.91 L884.57,958.14 L889.10,958.37 L893.66,958.59 L898.26,958.81 L902.88,959.03 L907.54,959.25 L912.22,959.46 L916.94,959.67 L921.69,959.88 L926.48,960.09 L931.29,960.29 L936.14,960.49 L941.02,960.69 L945.93,960.89 L950.88,961.09 L955.86,961.28 L960.87,961.47 L965.92,961.66 L971.00,961.85 L976.12,962.03 L981.27,962.21 L986.46,962.39 L991.68,962.57 L996.94,962.75 L1002.23,962.92 L1007.56,963.10 L1012.92,963.27 L1018.32,963.43 L1023.76,963.60 L1029.23,963.76 L1034.74,963.93 L1040.29,964.09 L1045.87,964.25 L1051.50,964.40 L1057.16,964.56 L1062.86,964.71 L1068.60,964.86 L1074.37,965.01 L1080.19,965.16 L1086.05,965.31 L1091.94,965.45 L1097.88,965.59 L1103.85,965.73 L1109.87,965.87 L1115.92,966.01 L1122.02,966.15 L1128.16,966.28 L1134.34,966.41 L1140.56,966.54 L1146.83,966.67 L1153.13,966.80 L1159.48,966.93 L1165.87,967.05 L1172.31,967.17 L1178.79,967.30 L1185.31,967.42 L1191.88,967.54 L1198.49,967.65 L1205.15,967.77 L1211.85,967.88 L1218.59,968.00 L1225.39,968.11 L1232.22,968.22 L1239.11,968.33 L1246.04,968.43 L1253.02,968.54 L1260.04,968.65 L1267.12,968.75 L1274.24,968.85 L1281.40,968.95 L1288.62,969.05 L1295.89,969.15 L1303.20,969.25 L1310.57,969.35 L1317.98,969.44 L1325.45,969.54 L1332.96,969.63 L1340.53,969.72 L1348.15,969.81 L1355.82,969.90 L1363.54,969.99 L1371.31,970.08 L1379.14,970.17 L1387.02,970.25 L1394.95,970.34 L1402.93,970.42 L1410.97,970.50 L1419.07,970.59 L1427.22,970.67 L1435.42,970.75 L1443.68,970.83 L1452.00,970.90 L1460.37,970.98 L1468.80,971.06 L1477.28,971.14 L1485.83,971.21 L1494.43,971.29 L1503.08,971.36 L1511.80,971.43 L1520.58,971.51 L1529.42,971.58 L1538.31,971.65 L1547.27,971.72 L1556.28,971.79 L1565.36,971.86 L1574.50,971.93 L1583.70,972.00 L1592.97,972.06 L1602.29,972.13 L1611.68,972.20 L1621.13,972.26 L1630.65,972.33 L1640.23,972.39 L1649.88,972.46 L1659.59,972.52 L1669.36,972.59 L1679.21,972.65 L1689.12,972.71 L1699.09,972.77 L1709.14,972.84 L1719.25,972.90 L1729.43,972.96 L1739.68,973.02 L1750.00,973.08 L1760.39,973.14 L1770.85,973.20 L1781.38,973.26 L1791.98,973.32 L1802.65,973.38 L1813.40,973.44 L1824.21,973.50 L1835.10,973.56 L1846.07,973.62 L1857.11,973.68 L1868.22,973.74 L1879.41,973.80 L1890.68,973.86 L1902.02,973.92 L1913.43,973.98 L1924.93,974.04 L1936.50,974.10 L1948.15,974.15 L1959.88,974.21 L1971.69,974.27 L1983.58,974.33 L1995.55,974.39 L2007.60,974.45 L2019.73,974.51 L2031.95,974.57 L2044.24,974.63 L2056.62,974.69 L2069.09,974.75 L2081.64,974.81 L2094.27,974.87 L2106.99,974.94 L2119.79,975.00 L2132.68,975.06 L2145.66,975.12 L2158.73,975.18 L2171.89,975.25 L2185.13,975.31 L2198.46,975.37 L2211.89,975.44 L2225.40,975.50 L2239.01,975.57 L2252.71,975.63 L2266.50,975.70 L2280.38,975.77 L2294.36,975.83 L2308.43,975.90 L2322.60,975.97 L2336.87,976.04 L2351.23,976.11 L2365.68,976.18 L2380.24,976.25 L2394.89,976.32 L2409.65,976.39 L2424.50,976.46" stroke="#0000ff"/>
<path d="M235.00,651.34 L235.14,649.78 L235.27,648.19 L235.41,646.58 L235.55,644.95 L235.68,643.30 L235.82,641.63 L235.96,639.95 L236.11,638.24 L236.25,636.51 L236.39,634.76 L236.54,632.99 L236.68,631.21 L236.83,629.40 L236.98,627.58 L237.12,625.74 L237.27,623.88 L237.42,622.00 L237.58,620.11 L237.73,618.19 L237.88,616.26 L238.04,614.32 L238.19,612.35 L238.35,610.37 L238.51,608.37 L238.67,606.36 L238.82,604.33 L238.99,602.28 L239.15,600.22 L239.31,598.14 L239.48,596.05 L239.64,593.94 L239.81,591.82 L239.97,589.68 L240.14,587.53 L240.31,585.36 L240.48,583.18 L240.66,580.98 L240.83,578.77 L241.00,576.55 L241.18,574.31 L241.36,572.07 L241.53,569.80 L241.71,567.53 L241.89,565.24 L242.08,562.94 L242.26,560.63 L242.44,558.31 L242.63,555.97 L242.81,553.62 L243.00,551.26 L243.19,548.89 L243.38,546.51 L243.57,544.12 L243.77,541.72 L243.96,539.31 L244.16,536.88 L244.35,534.45 L244.55,532.01 L244.75,529.56 L244.95,527.09 L245.15,524.62 L245.36,522.14 L245.56,519.66 L245.77,517.16 L245.98,514.65 L246.19,512.14 L246.40,509.62 L246.61,507.09 L246.82,504.55 L247.04,502.01 L247.25,499.46 L247.47,496.90 L247.69,494.33 L247.91,491.76 L248.13,489.18 L248.36,486.60 L248.58,484.01 L248.81,481.41 L249.04,478.81 L249.27,476.20 L249.50,473.59 L249.73,470.97 L249.97,468.35 L250.20,465.72 L250.44,463.09 L250.68,460.46 L250.92,457.82 L251.16,455.17 L251.41,452.53 L251.65,449.88 L251.90,447.22 L252.15,444.57 L252.40,441.91 L252.65,439.25 L252.91,436.58 L253.16,433.92 L253.42,431.25 L253.68,428.58 L253.94,425.91 L254.21,423.23 L254.47,420.56 L254.74,417.88 L255.00,415.21 L255.27,412.53 L255.55,409.85 L255.82,407.18 L256.10,404.50 L256.37,401.82 L256.65,399.15 L256.93,396.47 L257.22,393.80 L257.50,391.12 L257.79,388.45 L258.08,385.78 L258.37,383.11 L258.66,380.44 L258.96,377.77 L259.25,375.11 L259.55,372.45 L259.85,369.79 L260.16,367.13 L260.46,364.48 L260.77,361.83 L261.08,359.18 L261.39,356.54 L261.70,353.90 L262.02,351.26 L262.34,348.63 L262.66,346.01 L262.98,343.39 L263.30,340.77 L263.63,338.16 L263.96,335.55 L264.29,332.95 L264.62,330.35 L264.95,327.76 L265.29,325.18 L265.63,322.60 L265.97,320.03 L266.32,317.46 L266.66,314.90 L267.01,312.35 L267.36,309.81 L267.72,307.27 L268.07,304.74 L268.43,302.22 L268.79,299.71 L269.16,297.20 L269.52,294.71 L269.89,292.22 L270.26,289.74 L270.63,287.27 L271.01,284.81 L271.39,282.36 L271.77,279.92 L272.15,277.48 L272.54,275.06 L272.93,272.65 L273.32,270.25 L273.71,267.86 L274.11,265.48 L274.51,263.11 L274.91,260.75 L275.31,258.40 L275.72,256.07 L276.13,253.74 L276.54,251.43 L276.96,249.13 L277.38,246.85 L277.80,244.57 L278.22,242.31 L278.65,240.06 L279.08,237.83 L279.51,235.61 L279.95,233.40 L280.39,231.20 L280.83,229.02 L281.27,226.86 L281.72,224.70 L282.17,222.57 L282.63,220.44 L283.08,218.34 L283.54,216.25 L284.01,214.17 L284.47,212.11 L284.94,210.06 L285.41,208.03 L285.89,206.02 L286.37,204.02 L286.85,202.04 L287.33,200.08 L287.82,198.13 L288.32,196.20 L288.81,194.29 L289.31,192.39 L289.81,190.52 L290.32,188.66 L290.82,186.82 L291.34,185.00 L291.85,183.19 L292.37,181.41 L292.89,179.64 L293.42,177.90 L293.95,176.17 L294.48,174.46 L295.02,172.77 L295.56,171.10 L296.10,169.46 L296.65,167.83 L297.20,166.22 L297.76,164.64 L298.32,163.07 L298.88,161.53 L299.45,160.01 L300.02,158.50 L300.59,157.03 L301.17,155.57 L301.75,154.13 L302.34,152.72 L302.93,151.34 L303.52,149.98 L304.12,148.65 L304.72,147.35 L305.33,146.10 L305.94,144.88 L306.55,143.70 L307.17,142.56 L307.79,141.47 L308.42,140.43 L309.05,139.43 L309.68,138.50 L310.32,137.61 L310.97,136.79 L311.61,136.03 L312.27,135.33 L312.92,134.70 L313.58,134.13 L314.25,133.64 L314.92,133.22 L315.60,132.88 L316.28,132.61 L316.96,132.43 L317.65,132.33 L318.34,132.32 L319.04,132.39 L319.74,132.56 L320.45,132.82 L321.16,133.18 L321.88,133.64 L322.60,134.20 L323.33,134.86 L324.06,135.63 L324.79,136.51 L325.54,137.50 L326.28,138.61 L327.03,139.83 L327.79,141.17 L328.55,142.63 L329.32,144.22 L330.09,145.94 L330.87,147.78 L331.65,149.76 L332.44,151.87 L333.23,154.12 L334.03,156.51 L334.83,159.04 L335.64,161.71 L336.46,164.53 L337.28,167.51 L338.10,170.63 L338.94,173.91 L339.77,177.35 L340.62,180.95 L341.46,184.70 L342.32,188.63 L343.18,192.72 L344.04,196.98 L344.91,201.42 L345.79,206.03 L346.68,210.82 L347.56,215.79 L348.46,220.94 L349.36,226.26 L350.27,231.77 L351.18,237.45 L352.10,243.31 L353.03,249.34 L353.96,255.55 L354.90,261.93 L355.84,268.47 L356.79,275.19 L357.75,282.08 L358.72,289.13 L359.69,296.35 L360.66,303.73 L361.65,311.28 L362.64,318.99 L363.64,326.86 L364.64,334.89 L365.65,343.07 L366.67,351.42 L367.69,359.92 L368.72,368.58 L369.76,377.38 L370.81,386.35 L371.86,395.46 L372.92,404.72 L373.98,414.13 L375.06,423.69 L376.14,433.39 L377.23,443.24 L378.32,453.21 L379.43,463.30 L380.54,473.49 L381.65,483.77 L382.78,494.11 L383.91,504.51 L385.05,514.95 L386.20,525.42 L387.36,535.90 L388.52,546.38 L389.69,556.84 L390.87,567.27 L392.06,577.65 L393.26,587.98 L394.46,598.22 L395.67,608.38 L396.89,618.44 L398.12,628.38 L399.36,638.19 L400.60,647.87 L401.86,657.39 L403.12,666.74 L404.39,675.92 L405.67,684.91 L406.96,693.69 L408.25,702.26 L409.56,710.60 L410.87,718.70 L412.19,726.55 L413.53,734.13 L414.87,741.44 L416.22,748.49 L417.57,755.29 L418.94,761.84 L420.32,768.15 L421.71,774.22 L423.10,780.07 L424.51,785.70 L425.92,791.11 L427.35,796.32 L428.78,801.33 L430.23,806.14 L431.68,810.77 L433.14,815.22 L434.62,819.50 L436.10,823.61 L437.59,827.56 L439.09,831.36 L440.61,835.02 L442.13,838.54 L443.67,841.92 L445.21,845.18 L446.76,848.33 L448.33,851.36 L449.91,854.29 L451.49,857.12 L453.09,859.86 L454.70,862.52 L456.32,865.10 L457.95,867.61 L459.59,870.06 L461.24,872.44 L462.90,874.76 L464.58,877.01 L466.26,879.20 L467.96,881.33 L469.67,883.41 L471.39,885.42 L473.12,887.38 L474.86,889.28 L476.62,891.12 L478.38,892.92 L480.16,894.65 L481.95,896.34 L483.75,897.97 L485.57,899.56 L487.40,901.10 L489.24,902.58 L491.09,904.02 L492.95,905.42 L494.83,906.77 L496.72,908.08 L498.62,909.34 L500.54,910.56 L502.47,911.74 L504.41,912.88 L506.36,913.99 L508.33,915.05 L510.31,916.08 L512.31,917.08 L514.31,918.04 L516.33,918.96 L518.37,919.86 L520.42,920.72 L522.48,921.55 L524.56,922.35 L526.65,923.13 L528.75,923.88 L530.87,924.60 L533.01,925.30 L535.15,925.97 L537.31,926.62 L539.49,927.25 L541.68,927.86 L543.89,928.44 L546.11,929.01 L548.35,929.57 L550.60,930.10 L552.86,930.62 L555.15,931.13 L557.44,931.62 L559.76,932.10 L562.08,932.56 L564.43,933.02 L566.79,933.47 L569.16,933.91 L571.56,934.34 L573.96,934.77 L576.39,935.19 L578.83,935.61 L581.29,936.02 L583.76,936.43 L586.25,936.84 L588.76,937.25 L591.28,937.65 L593.82,938.05 L596.38,938.45 L598.96,938.85 L601.55,939.24 L604.16,939.63 L606.79,940.02 L609.43,940.41 L612.10,940.79 L614.78,941.18 L617.48,941.56 L620.20,941.93 L622.93,942.31 L625.69,942.68 L628.46,943.05 L631.25,943.42 L634.07,943.78 L636.90,944.14 L639.75,944.50 L642.61,944.86 L645.50,945.22 L648.41,945.57 L651.34,945.92 L654.28,946.27 L657.25,946.62 L660.24,946.96 L663.24,947.30 L666.27,947.64 L669.32,947.98 L672.39,948.31 L675.47,948.64 L678.58,948.97 L681.72,949.30 L684.87,949.63 L688.04,949.95 L691.24,950.27 L694.45,950.59 L697.69,950.91 L700.95,951.22 L704.23,951.53 L707.54,951.84 L710.86,952.15 L714.21,952.46 L717.58,952.76 L720.98,953.06 L724.39,953.36 L727.83,953.65 L731.30,953.95 L734.78,954.24 L738.29,954.53 L741.83,954.82 L745.39,955.11 L748.97,955.39 L752.57,955.67 L756.20,955.95 L759.86,956.23 L763.54,956.50 L767.24,956.78 L770.97,957.05 L774.73,957.32 L778.51,957.58 L782.31,957.85 L786.14,958.11 L790.00,958.37 L793.88,958.63 L797.79,958.89 L801.73,959.14 L805.69,959.39 L809.68,959.64 L813.70,959.89 L817.74,960.14 L821.81,960.38 L825.91,960.63 L830.04,960.87 L834.19,961.11 L838.37,961.34 L842.58,961.58 L846.82,961.81 L851.09,962.04 L855.38,962.27 L859.71,962.50 L864.06,962.72 L868.44,962.94 L872.86,963.17 L877.30,963.39 L881.77,963.60 L886.28,963.82 L890.81,964.03 L895.37,964.24 L899.97,964.45 L904.59,964.66 L909.25,964.87 L913.94,965.07 L918.66,965.27 L923.41,965.47 L928.20,965.67 L933.01,965.87 L937.86,966.07 L942.74,966.26 L947.66,966.45 L952.61,966.64 L957.59,966.83 L962.60,967.01 L967.65,967.20 L972.73,967.38 L977.85,967.56 L983.00,967.74 L988.19,967.92 L993.41,968.09 L998.67,968.27 L1003.96,968.44 L1009.29,968.61 L1014.65,968.78 L1020.05,968.95 L1025.49,969.11 L1030.97,969.28 L1036.48,969.44 L1042.02,969.60 L1047.61,969.76 L1053.23,969.91 L1058.89,970.07 L1064.59,970.22 L1070.33,970.38 L1076.11,970.53 L1081.92,970.67 L1087.78,970.82 L1093.67,970.97 L1099.60,971.11 L1105.58,971.25 L1111.59,971.40 L1117.65,971.53 L1123.74,971.67 L1129.88,971.81 L1136.06,971.94 L1142.28,972.08 L1148.54,972.21 L1154.85,972.34 L1161.19,972.47 L1167.58,972.59 L1174.02,972.72 L1180.49,972.84 L1187.01,972.97 L1193.58,973.09 L1200.19,973.21 L1206.84,973.32 L1213.54,973.44 L1220.28,973.56 L1227.07,973.67 L1233.91,973.78 L1240.79,973.89 L1247.72,974.00 L1254.69,974.11 L1261.71,974.22 L1268.78,974.32 L1275.90,974.42 L1283.06,974.53 L1290.28,974.63 L1297.54,974.73 L1304.85,974.82 L1312.21,974.92 L1319.62,975.02 L1327.08,975.11 L1334.59,975.20 L1342.15,975.29 L1349.76,975.38 L1357.43,975.47 L1365.14,975.56 L1372.91,975.65 L1380.73,975.73 L1388.60,975.81 L1396.53,975.90 L1404.51,975.98 L1412.54,976.06 L1420.63,976.13 L1428.77,976.21 L1436.97,976.29 L1445.22,976.36 L1453.53,976.44 L1461.89,976.51 L1470.31,976.58 L1478.79,976.65 L1487.32,976.72 L1495.92,976.78 L1504.57,976.85 L1513.28,976.91 L1522.04,976.98 L1530.87,977.04 L1539.76,977.10 L1548.70,977.16 L1557.71,977.22 L1566.78,977.28 L1575.91,977.33 L1585.10,977.39 L1594.35,977.44 L1603.67,977.50 L1613.05,977.55 L1622.49,977.60 L1631.99,977.65 L1641.56,977.70 L1651.20,977.75 L1660.90,977.79 L1670.66,977.84 L1680.49,977.88 L1690.39,977.93 L1700.35,977.97 L1710.38,978.01 L1720.48,978.05 L1730.65,978.09 L1740.89,978.13 L1751.19,978.17 L1761.57,978.20 L1772.01,978.24 L1782.53,978.27 L1793.11,978.30 L1803.77,978.34 L1814.50,978.37 L1825.30,978.40 L1836.18,978.43 L1847.12,978.46 L1858.15,978.48 L1869.24,978.51 L1880.42,978.54 L1891.66,978.56 L1902.99,978.58 L1914.39,978.61 L1925.86,978.63 L1937.42,978.65 L1949.05,978.67 L1960.76,978.69 L1972.55,978.71 L1984.42,978.73 L1996.37,978.74 L2008.40,978.76 L2020.51,978.77 L2032.70,978.79 L2044.98,978.80 L2057.34,978.81 L2069.78,978.82 L2082.31,978.84 L2094.92,978.85 L2107.61,978.86 L2120.40,978.86 L2133.26,978.87 L2146.22,978.88 L2159.26,978.88 L2172.39,978.89 L2185.61,978.89 L2198.92,978.90 L2212.32,978.90 L2225.81,978.90 L2239.39,978.91 L2253.06,978.91 L2266.82,978.91 L2280.68,978.91 L2294.63,978.91 L2308.67,978.90 L2322.81,978.90 L2337.05,978.90 L2351.38,978.90 L2365.81,978.89 L2380.33,978.89 L2394.96,978.88 L2409.68,978.87 L2424.50,978.87" stroke="#00ff00"/>
</g>
<rect x="230.0" y="71.5" width="2194.5" height="970.2" fill="none" stroke="#262626" stroke-width="1.5"/>
<path d="M230.00,1041.7V1019.80M230.00,71.5V93.40M449.45,1041.7V1019.80M449.45,71.5V93.40M668.90,1041.7V1019.80M668.90,71.5V93.40M888.35,1041.7V1019.80M888.35,71.5V93.40M1107.80,1041.7V1019.80M1107.80,71.5V93.40M1327.25,1041.7V1019.80M1327.25,71.5V93.40M1546.70,1041.7V1019.80M1546.70,71.5V93.40M1766.15,1041.7V1019.80M1766.15,71.5V93.40M1985.60,1041.7V1019.80M1985.60,71.5V93.40M2205.05,1041.7V1019.80M2205.05,71.5V93.40M2424.50,1041.7V1019.80M2424.50,71.5V93.40M230.0,1041.70H251.90M2424.5,1041.70H2402.60M230.0,847.66H251.90M2424.5,847.66H2402.60M230.0,653.62H251.90M2424.5,653.62H2402.60M230.0,459.58H251.90M2424.5,459.58H2402.60M230.0,265.54H251.90M2424.5,265.54H2402.60M230.0,71.50H251.90M2424.5,71.50H2402.60" stroke="#262626" stroke-width="1.5" fill="none"/>
<text transform="translate(228.40,1111.40) scale(1.0300,1.0000)" text-anchor="middle" font-size="53.50" fill="#262626">0</text>
<text transform="translate(447.85,1111.40) scale(1.0300,1.0000)" text-anchor="middle" font-size="53.50" fill="#262626">5</text>
<text transform="translate(667.30,1111.40) scale(1.0300,1.0000)" text-anchor="middle" font-size="53.50" fill="#262626">10</text>
<text transform="translate(886.75,1111.40) scale(1.0300,1.0000)" text-anchor="middle" font-size="53.50" fill="#262626">15</text>
<text transform="translate(1106.20,1111.40) scale(1.0300,1.0000)" text-anchor="middle" font-size="53.50" fill="#262626">20</text>
<text transform="translate(1325.65,1111.40) scale(1.0300,1.0000)" text-anchor="middle" font-size="53.50" fill="#262626">25</text>
<text transform="translate(1545.10,1111.40) scale(1.0300,1.0000)" text-anchor="middle" font-size="53.50" fill="#262626">30</text>
<text transform="translate(1764.55,1111.40) scale(1.0300,1.0000)" text-anchor="middle" font-size="53.50" fill="#262626">35</text>
<text transform="translate(1984.00,1111.40) scale(1.0300,1.0000)" text-anchor="middle" font-size="53.50" fill="#262626">40</text>
<text transform="translate(2203.45,1111.40) scale(1.0300,1.0000)" text-anchor="middle" font-size="53.50" fill="#262626">45</text>
<text transform="translate(2422.90,1111.40) scale(1.0300,1.0000)" text-anchor="middle" font-size="53.50" fill="#262626">50</text>
<text transform="translate(210.70,1063.35) scale(1.0300,1.0000)" text-anchor="end" font-size="53.50" fill="#262626">0</text>
<text transform="translate(210.70,869.31) scale(1.0300,1.0000)" text-anchor="end" font-size="53.50" fill="#262626">0.5</text>
<text transform="translate(210.70,675.27) scale(1.0300,1.0000)" text-anchor="end" font-size="53.50" fill="#262626">1</text>
<text transform="translate(210.70,481.23) scale(1.0300,1.0000)" text-anchor="end" font-size="53.50" fill="#262626">1.5</text>
<text transform="translate(210.70,287.19) scale(1.0300,1.0000)" text-anchor="end" font-size="53.50" fill="#262626">2</text>
<text transform="translate(210.70,93.15) scale(1.0300,1.0000)" text-anchor="end" font-size="53.50" fill="#262626">2.5</text>
<text transform="translate(1309.03,1195.55) scale(0.9938,1.0000)" text-anchor="start" font-size="57.92" fill="#262626">t</text>
<text transform="translate(1328.34,1160.00) scale(1.0000,0.8519)" text-anchor="start" font-size="41.13" fill="#262626">*</text>
<text transform="translate(111.90,768.21) rotate(-90) scale(0.8919,1)" text-anchor="start" font-size="62.0" fill="#262626">Soluble substrate</text>
<rect x="2213.0" y="95.80" width="184.6" height="268.2" fill="#ffffff" stroke="#262626" stroke-width="1.5"/>
<path d="M2221,132.00H2304" stroke="#ff0000" stroke-width="6"/>
<text transform="translate(2310.50,152.80) scale(1.0700,1.0000)" text-anchor="start" font-size="51.90" fill="#000000">0.7</text>
<path d="M2221,197.35H2304" stroke="#000000" stroke-width="6"/>
<text transform="translate(2310.50,218.15) scale(1.0700,1.0000)" text-anchor="start" font-size="51.90" fill="#000000">0.8</text>
<path d="M2221,262.70H2304" stroke="#0000ff" stroke-width="6"/>
<text transform="translate(2310.50,283.50) scale(1.0700,1.0000)" text-anchor="start" font-size="51.90" fill="#000000">0.9</text>
<path d="M2221,328.05H2304" stroke="#00ff00" stroke-width="6"/>
<text transform="translate(2310.50,348.85) scale(1.0700,1.0000)" text-anchor="start" font-size="51.90" fill="#000000">1.0</text>
<clipPath id="c1"><rect x="230.0" y="1308.0" width="2194.5" height="978.0"/></clipPath>
<g clip-path="url(#c1)" fill="none" stroke-width="6.3" stroke-linejoin="round" stroke-linecap="butt">
<path d="M233.30,2231.83 L233.70,2231.36 L234.09,2230.89 L234.49,2230.43 L234.89,2229.98 L235.29,2229.53 L235.70,2229.08 L236.10,2228.64 L236.51,2228.20 L236.92,2227.77 L237.34,2227.34 L237.75,2226.91 L238.17,2226.49 L238.58,2226.07 L239.00,2225.66 L239.43,2225.24 L239.85,2224.84 L240.28,2224.43 L240.70,2224.03 L241.13,2223.63 L241.57,2223.23 L242.00,2222.83 L242.44,2222.44 L242.88,2222.05 L243.32,2221.66 L243.76,2221.27 L244.20,2220.89 L244.65,2220.50 L245.10,2220.12 L245.55,2219.73 L246.00,2219.35 L246.46,2218.97 L246.92,2218.59 L247.38,2218.21 L247.84,2217.83 L248.30,2217.46 L248.77,2217.08 L249.24,2216.70 L249.71,2216.32 L250.18,2215.94 L250.65,2215.56 L251.13,2215.18 L251.61,2214.80 L252.09,2214.41 L252.58,2214.03 L253.06,2213.64 L253.55,2213.26 L254.04,2212.87 L254.54,2212.48 L255.03,2212.09 L255.53,2211.69 L256.03,2211.30 L256.53,2210.90 L257.04,2210.50 L257.55,2210.09 L258.06,2209.69 L258.57,2209.28 L259.08,2208.86 L259.60,2208.45 L260.12,2208.03 L260.64,2207.60 L261.17,2207.18 L261.70,2206.75 L262.23,2206.31 L262.76,2205.87 L263.29,2205.43 L263.83,2204.98 L264.37,2204.53 L264.91,2204.07 L265.46,2203.61 L266.00,2203.14 L266.55,2202.67 L267.11,2202.19 L267.66,2201.70 L268.22,2201.21 L268.78,2200.72 L269.34,2200.22 L269.91,2199.71 L270.48,2199.19 L271.05,2198.67 L271.62,2198.14 L272.20,2197.61 L272.78,2197.07 L273.36,2196.52 L273.95,2195.96 L274.54,2195.40 L275.13,2194.83 L275.72,2194.25 L276.32,2193.67 L276.92,2193.07 L277.52,2192.47 L278.12,2191.86 L278.73,2191.24 L279.34,2190.61 L279.95,2189.98 L280.57,2189.33 L281.19,2188.68 L281.81,2188.01 L282.44,2187.34 L283.06,2186.66 L283.70,2185.96 L284.33,2185.26 L284.97,2184.55 L285.61,2183.83 L286.25,2183.09 L286.90,2182.35 L287.54,2181.60 L288.20,2180.83 L288.85,2180.06 L289.51,2179.27 L290.17,2178.47 L290.84,2177.66 L291.51,2176.84 L292.18,2176.01 L292.85,2175.17 L293.53,2174.31 L294.21,2173.44 L294.89,2172.57 L295.58,2171.68 L296.27,2170.77 L296.96,2169.86 L297.66,2168.94 L298.36,2168.00 L299.06,2167.06 L299.77,2166.10 L300.48,2165.13 L301.20,2164.15 L301.91,2163.16 L302.63,2162.16 L303.36,2161.14 L304.08,2160.12 L304.81,2159.08 L305.55,2158.03 L306.29,2156.98 L307.03,2155.91 L307.77,2154.83 L308.52,2153.74 L309.27,2152.64 L310.03,2151.53 L310.79,2150.40 L311.55,2149.27 L312.32,2148.13 L313.08,2146.97 L313.86,2145.81 L314.64,2144.63 L315.42,2143.44 L316.20,2142.25 L316.99,2141.04 L317.78,2139.82 L318.58,2138.59 L319.38,2137.35 L320.18,2136.10 L320.99,2134.84 L321.80,2133.58 L322.61,2132.30 L323.43,2131.00 L324.25,2129.70 L325.08,2128.39 L325.91,2127.07 L326.74,2125.74 L327.58,2124.40 L328.42,2123.05 L329.27,2121.69 L330.12,2120.32 L330.97,2118.94 L331.83,2117.55 L332.69,2116.15 L333.56,2114.74 L334.43,2113.32 L335.31,2111.89 L336.19,2110.45 L337.07,2109.00 L337.96,2107.54 L338.85,2106.07 L339.74,2104.59 L340.64,2103.11 L341.55,2101.61 L342.45,2100.10 L343.37,2098.59 L344.28,2097.06 L345.21,2095.52 L346.13,2093.98 L347.06,2092.43 L348.00,2090.86 L348.94,2089.29 L349.88,2087.71 L350.83,2086.12 L351.78,2084.52 L352.74,2082.91 L353.70,2081.29 L354.66,2079.67 L355.63,2078.03 L356.61,2076.38 L357.59,2074.73 L358.57,2073.07 L359.56,2071.40 L360.56,2069.72 L361.55,2068.03 L362.56,2066.33 L363.57,2064.63 L364.58,2062.92 L365.60,2061.20 L366.62,2059.48 L367.65,2057.75 L368.68,2056.01 L369.72,2054.27 L370.76,2052.53 L371.80,2050.78 L372.86,2049.03 L373.91,2047.27 L374.97,2045.51 L376.04,2043.74 L377.11,2041.98 L378.19,2040.21 L379.27,2038.43 L380.36,2036.66 L381.45,2034.88 L382.55,2033.11 L383.65,2031.33 L384.76,2029.55 L385.87,2027.78 L386.99,2026.00 L388.12,2024.22 L389.25,2022.44 L390.38,2020.67 L391.52,2018.90 L392.67,2017.12 L393.82,2015.35 L394.97,2013.59 L396.13,2011.82 L397.30,2010.06 L398.47,2008.31 L399.65,2006.55 L400.84,2004.81 L402.03,2003.06 L403.22,2001.32 L404.42,1999.59 L405.63,1997.86 L406.84,1996.14 L408.06,1994.43 L409.28,1992.72 L410.51,1991.02 L411.75,1989.32 L412.99,1987.64 L414.24,1985.96 L415.49,1984.29 L416.75,1982.63 L418.01,1980.97 L419.29,1979.33 L420.56,1977.70 L421.85,1976.08 L423.13,1974.47 L424.43,1972.86 L425.73,1971.27 L427.04,1969.68 L428.35,1968.11 L429.67,1966.55 L431.00,1964.99 L432.33,1963.44 L433.67,1961.90 L435.02,1960.37 L436.37,1958.85 L437.73,1957.34 L439.09,1955.84 L440.46,1954.34 L441.84,1952.85 L443.22,1951.37 L444.61,1949.90 L446.01,1948.44 L447.41,1946.98 L448.82,1945.53 L450.24,1944.09 L451.67,1942.65 L453.10,1941.23 L454.53,1939.80 L455.98,1938.39 L457.43,1936.98 L458.89,1935.58 L460.35,1934.19 L461.82,1932.80 L463.30,1931.42 L464.79,1930.05 L466.28,1928.68 L467.78,1927.31 L469.29,1925.96 L470.80,1924.60 L472.32,1923.26 L473.85,1921.92 L475.39,1920.58 L476.93,1919.25 L478.48,1917.93 L480.04,1916.60 L481.60,1915.29 L483.18,1913.98 L484.76,1912.67 L486.34,1911.37 L487.94,1910.07 L489.54,1908.78 L491.15,1907.49 L492.77,1906.20 L494.40,1904.92 L496.03,1903.64 L497.67,1902.36 L499.32,1901.09 L500.98,1899.82 L502.64,1898.56 L504.31,1897.29 L505.99,1896.03 L507.68,1894.78 L509.38,1893.52 L511.08,1892.27 L512.79,1891.02 L514.51,1889.77 L516.24,1888.53 L517.98,1887.28 L519.72,1886.04 L521.48,1884.80 L523.24,1883.56 L525.01,1882.33 L526.79,1881.09 L528.57,1879.86 L530.37,1878.62 L532.17,1877.39 L533.99,1876.16 L535.81,1874.93 L537.64,1873.70 L539.48,1872.47 L541.32,1871.24 L543.18,1870.01 L545.04,1868.78 L546.92,1867.55 L548.80,1866.32 L550.69,1865.09 L552.59,1863.86 L554.50,1862.63 L556.42,1861.40 L558.34,1860.16 L560.28,1858.93 L562.23,1857.70 L564.18,1856.46 L566.15,1855.22 L568.12,1853.99 L570.10,1852.75 L572.09,1851.51 L574.10,1850.27 L576.11,1849.02 L578.13,1847.78 L580.16,1846.54 L582.20,1845.30 L584.25,1844.05 L586.31,1842.81 L588.38,1841.56 L590.46,1840.32 L592.54,1839.07 L594.64,1837.83 L596.75,1836.58 L598.87,1835.34 L601.00,1834.09 L603.14,1832.84 L605.29,1831.60 L607.45,1830.35 L609.62,1829.11 L611.80,1827.86 L613.99,1826.62 L616.19,1825.38 L618.40,1824.13 L620.62,1822.89 L622.85,1821.65 L625.09,1820.41 L627.34,1819.17 L629.61,1817.93 L631.88,1816.69 L634.17,1815.45 L636.46,1814.21 L638.77,1812.98 L641.09,1811.74 L643.42,1810.51 L645.76,1809.28 L648.11,1808.05 L650.47,1806.82 L652.84,1805.59 L655.23,1804.37 L657.63,1803.14 L660.03,1801.92 L662.45,1800.70 L664.88,1799.48 L667.32,1798.26 L669.78,1797.05 L672.24,1795.84 L674.72,1794.63 L677.21,1793.42 L679.71,1792.21 L682.22,1791.01 L684.74,1789.80 L687.28,1788.61 L689.83,1787.41 L692.39,1786.22 L694.96,1785.02 L697.54,1783.83 L700.14,1782.65 L702.75,1781.47 L705.37,1780.29 L708.00,1779.11 L710.65,1777.93 L713.31,1776.76 L715.98,1775.60 L718.66,1774.43 L721.36,1773.27 L724.07,1772.11 L726.79,1770.96 L729.53,1769.81 L732.28,1768.66 L735.04,1767.51 L737.81,1766.37 L740.60,1765.24 L743.40,1764.10 L746.22,1762.98 L749.04,1761.85 L751.88,1760.73 L754.74,1759.61 L757.61,1758.50 L760.49,1757.39 L763.38,1756.29 L766.29,1755.19 L769.21,1754.09 L772.15,1753.00 L775.10,1751.92 L778.07,1750.83 L781.04,1749.76 L784.04,1748.69 L787.04,1747.62 L790.07,1746.56 L793.10,1745.50 L796.15,1744.44 L799.21,1743.39 L802.29,1742.35 L805.39,1741.31 L808.49,1740.27 L811.62,1739.24 L814.76,1738.21 L817.91,1737.19 L821.08,1736.17 L824.26,1735.15 L827.46,1734.14 L830.67,1733.13 L833.90,1732.13 L837.14,1731.12 L840.40,1730.13 L843.67,1729.13 L846.96,1728.14 L850.27,1727.15 L853.59,1726.17 L856.92,1725.19 L860.28,1724.21 L863.65,1723.23 L867.03,1722.26 L870.43,1721.29 L873.85,1720.32 L877.28,1719.36 L880.73,1718.39 L884.19,1717.44 L887.68,1716.48 L891.17,1715.52 L894.69,1714.57 L898.22,1713.62 L901.77,1712.67 L905.33,1711.73 L908.92,1710.78 L912.51,1709.84 L916.13,1708.90 L919.76,1707.96 L923.41,1707.02 L927.08,1706.09 L930.77,1705.15 L934.47,1704.22 L938.19,1703.29 L941.93,1702.36 L945.68,1701.43 L949.46,1700.50 L953.25,1699.58 L957.06,1698.65 L960.89,1697.73 L964.73,1696.80 L968.59,1695.88 L972.48,1694.96 L976.38,1694.04 L980.30,1693.11 L984.23,1692.19 L988.19,1691.27 L992.17,1690.35 L996.16,1689.43 L1000.17,1688.51 L1004.20,1687.60 L1008.25,1686.68 L1012.32,1685.76 L1016.41,1684.84 L1020.52,1683.93 L1024.65,1683.01 L1028.80,1682.09 L1032.97,1681.18 L1037.15,1680.26 L1041.36,1679.35 L1045.59,1678.43 L1049.84,1677.52 L1054.10,1676.61 L1058.39,1675.70 L1062.70,1674.79 L1067.03,1673.87 L1071.38,1672.96 L1075.75,1672.05 L1080.14,1671.15 L1084.55,1670.24 L1088.98,1669.33 L1093.43,1668.42 L1097.91,1667.52 L1102.40,1666.61 L1106.92,1665.71 L1111.46,1664.80 L1116.01,1663.90 L1120.60,1662.99 L1125.20,1662.09 L1129.82,1661.19 L1134.47,1660.29 L1139.14,1659.39 L1143.83,1658.49 L1148.54,1657.59 L1153.28,1656.69 L1158.04,1655.80 L1162.82,1654.90 L1167.62,1654.01 L1172.45,1653.11 L1177.29,1652.22 L1182.17,1651.32 L1187.06,1650.43 L1191.98,1649.54 L1196.92,1648.65 L1201.89,1647.76 L1206.87,1646.87 L1211.89,1645.99 L1216.92,1645.10 L1221.98,1644.21 L1227.07,1643.33 L1232.17,1642.45 L1237.31,1641.56 L1242.46,1640.68 L1247.64,1639.80 L1252.85,1638.92 L1258.08,1638.04 L1263.33,1637.16 L1268.61,1636.29 L1273.92,1635.41 L1279.25,1634.54 L1284.60,1633.66 L1289.98,1632.79 L1295.39,1631.92 L1300.82,1631.05 L1306.28,1630.18 L1311.76,1629.31 L1317.27,1628.44 L1322.81,1627.57 L1328.37,1626.71 L1333.96,1625.85 L1339.57,1624.98 L1345.21,1624.12 L1350.88,1623.26 L1356.58,1622.40 L1362.30,1621.54 L1368.05,1620.69 L1373.82,1619.83 L1379.63,1618.98 L1385.46,1618.12 L1391.32,1617.27 L1397.21,1616.42 L1403.12,1615.57 L1409.06,1614.72 L1415.03,1613.87 L1421.03,1613.03 L1427.06,1612.18 L1433.12,1611.34 L1439.20,1610.50 L1445.32,1609.66 L1451.46,1608.82 L1457.63,1607.98 L1463.83,1607.15 L1470.06,1606.31 L1476.32,1605.48 L1482.61,1604.64 L1488.93,1603.81 L1495.28,1602.98 L1501.66,1602.16 L1508.07,1601.33 L1514.51,1600.50 L1520.98,1599.68 L1527.49,1598.86 L1534.02,1598.04 L1540.58,1597.22 L1547.18,1596.40 L1553.80,1595.58 L1560.46,1594.77 L1567.15,1593.95 L1573.87,1593.14 L1580.62,1592.33 L1587.41,1591.52 L1594.22,1590.72 L1601.07,1589.91 L1607.95,1589.11 L1614.87,1588.30 L1621.81,1587.50 L1628.79,1586.70 L1635.81,1585.91 L1642.85,1585.11 L1649.93,1584.32 L1657.05,1583.52 L1664.19,1582.73 L1671.37,1581.94 L1678.59,1581.15 L1685.84,1580.37 L1693.12,1579.58 L1700.44,1578.80 L1707.79,1578.02 L1715.18,1577.24 L1722.60,1576.46 L1730.06,1575.69 L1737.55,1574.91 L1745.08,1574.14 L1752.65,1573.37 L1760.25,1572.60 L1767.88,1571.84 L1775.56,1571.07 L1783.26,1570.31 L1791.01,1569.55 L1798.79,1568.79 L1806.61,1568.03 L1814.47,1567.27 L1822.36,1566.52 L1830.29,1565.77 L1838.26,1565.02 L1846.27,1564.27 L1854.31,1563.52 L1862.39,1562.78 L1870.51,1562.04 L1878.67,1561.29 L1886.87,1560.56 L1895.11,1559.82 L1903.38,1559.08 L1911.70,1558.35 L1920.05,1557.62 L1928.45,1556.89 L1936.88,1556.17 L1945.36,1555.44 L1953.87,1554.72 L1962.42,1554.00 L1971.02,1553.28 L1979.66,1552.56 L1988.33,1551.85 L1997.05,1551.13 L2005.81,1550.42 L2014.61,1549.72 L2023.45,1549.01 L2032.34,1548.31 L2041.26,1547.60 L2050.23,1546.90 L2059.25,1546.21 L2068.30,1545.51 L2077.40,1544.82 L2086.54,1544.13 L2095.72,1543.44 L2104.95,1542.75 L2114.22,1542.07 L2123.53,1541.38 L2132.89,1540.70 L2142.30,1540.03 L2151.75,1539.35 L2161.24,1538.68 L2170.78,1538.01 L2180.36,1537.34 L2189.99,1536.67 L2199.66,1536.01 L2209.38,1535.35 L2219.15,1534.69 L2228.96,1534.03 L2238.82,1533.37 L2248.73,1532.72 L2258.68,1532.07 L2268.68,1531.42 L2278.73,1530.78 L2288.82,1530.14 L2298.97,1529.50 L2309.16,1528.86 L2319.40,1528.22 L2329.68,1527.59 L2340.02,1526.96 L2350.41,1526.33 L2360.84,1525.70 L2371.33,1525.08 L2381.86,1524.46 L2392.45,1523.84 L2403.08,1523.22 L2413.76,1522.61 L2424.50,1522.00" stroke="#ff0000"/>
<path d="M234.00,2232.25 L234.40,2231.78 L234.80,2231.33 L235.20,2230.89 L235.60,2230.45 L236.01,2230.02 L236.41,2229.60 L236.82,2229.19 L237.23,2228.78 L237.64,2228.38 L238.06,2227.99 L238.48,2227.60 L238.89,2227.22 L239.31,2226.84 L239.74,2226.47 L240.16,2226.11 L240.59,2225.75 L241.02,2225.40 L241.45,2225.05 L241.88,2224.70 L242.31,2224.36 L242.75,2224.02 L243.19,2223.69 L243.63,2223.36 L244.07,2223.04 L244.52,2222.72 L244.97,2222.40 L245.41,2222.08 L245.87,2221.77 L246.32,2221.46 L246.78,2221.15 L247.23,2220.84 L247.69,2220.53 L248.16,2220.23 L248.62,2219.92 L249.09,2219.62 L249.55,2219.32 L250.03,2219.02 L250.50,2218.72 L250.97,2218.42 L251.45,2218.11 L251.93,2217.81 L252.41,2217.51 L252.90,2217.21 L253.39,2216.90 L253.87,2216.60 L254.37,2216.29 L254.86,2215.98 L255.36,2215.67 L255.85,2215.36 L256.35,2215.04 L256.86,2214.73 L257.36,2214.41 L257.87,2214.08 L258.38,2213.75 L258.89,2213.42 L259.41,2213.09 L259.93,2212.75 L260.45,2212.41 L260.97,2212.06 L261.49,2211.71 L262.02,2211.35 L262.55,2210.99 L263.08,2210.62 L263.62,2210.25 L264.16,2209.87 L264.70,2209.49 L265.24,2209.10 L265.78,2208.70 L266.33,2208.29 L266.88,2207.88 L267.43,2207.47 L267.99,2207.04 L268.55,2206.61 L269.11,2206.17 L269.67,2205.72 L270.24,2205.26 L270.81,2204.80 L271.38,2204.32 L271.95,2203.84 L272.53,2203.35 L273.11,2202.84 L273.69,2202.33 L274.28,2201.81 L274.86,2201.28 L275.45,2200.74 L276.05,2200.19 L276.64,2199.62 L277.24,2199.05 L277.85,2198.46 L278.45,2197.87 L279.06,2197.26 L279.67,2196.64 L280.28,2196.01 L280.90,2195.36 L281.52,2194.71 L282.14,2194.04 L282.76,2193.35 L283.39,2192.66 L284.02,2191.95 L284.66,2191.23 L285.29,2190.49 L285.93,2189.74 L286.58,2188.97 L287.22,2188.19 L287.87,2187.40 L288.52,2186.59 L289.18,2185.77 L289.84,2184.93 L290.50,2184.07 L291.16,2183.20 L291.83,2182.31 L292.50,2181.41 L293.18,2180.49 L293.85,2179.55 L294.53,2178.60 L295.22,2177.63 L295.91,2176.65 L296.60,2175.65 L297.29,2174.63 L297.99,2173.60 L298.69,2172.56 L299.39,2171.49 L300.10,2170.42 L300.81,2169.33 L301.52,2168.22 L302.24,2167.09 L302.96,2165.96 L303.68,2164.80 L304.41,2163.64 L305.14,2162.45 L305.87,2161.26 L306.61,2160.04 L307.35,2158.82 L308.09,2157.57 L308.84,2156.32 L309.59,2155.05 L310.35,2153.76 L311.11,2152.46 L311.87,2151.15 L312.63,2149.82 L313.40,2148.48 L314.18,2147.12 L314.95,2145.75 L315.73,2144.36 L316.52,2142.96 L317.30,2141.55 L318.10,2140.13 L318.89,2138.69 L319.69,2137.23 L320.49,2135.76 L321.30,2134.28 L322.11,2132.79 L322.92,2131.28 L323.74,2129.76 L324.56,2128.22 L325.39,2126.68 L326.22,2125.12 L327.05,2123.54 L327.89,2121.95 L328.73,2120.35 L329.58,2118.74 L330.43,2117.12 L331.28,2115.48 L332.14,2113.83 L333.00,2112.16 L333.86,2110.49 L334.73,2108.80 L335.61,2107.10 L336.49,2105.38 L337.37,2103.66 L338.25,2101.92 L339.14,2100.17 L340.04,2098.41 L340.94,2096.63 L341.84,2094.85 L342.75,2093.05 L343.66,2091.24 L344.58,2089.42 L345.50,2087.59 L346.42,2085.74 L347.35,2083.88 L348.29,2082.02 L349.22,2080.14 L350.17,2078.25 L351.11,2076.34 L352.06,2074.43 L353.02,2072.51 L353.98,2070.57 L354.94,2068.62 L355.91,2066.67 L356.89,2064.70 L357.87,2062.72 L358.85,2060.73 L359.84,2058.73 L360.83,2056.72 L361.83,2054.70 L362.83,2052.66 L363.84,2050.62 L364.85,2048.57 L365.86,2046.50 L366.89,2044.43 L367.91,2042.35 L368.94,2040.25 L369.98,2038.15 L371.02,2036.04 L372.06,2033.92 L373.11,2031.79 L374.17,2029.66 L375.23,2027.52 L376.30,2025.37 L377.37,2023.22 L378.44,2021.06 L379.52,2018.89 L380.61,2016.72 L381.70,2014.55 L382.79,2012.38 L383.90,2010.20 L385.00,2008.01 L386.11,2005.83 L387.23,2003.65 L388.35,2001.46 L389.48,1999.27 L390.61,1997.08 L391.75,1994.90 L392.90,1992.71 L394.04,1990.52 L395.20,1988.34 L396.36,1986.16 L397.52,1983.98 L398.69,1981.80 L399.87,1979.63 L401.05,1977.46 L402.24,1975.30 L403.43,1973.14 L404.63,1970.98 L405.84,1968.83 L407.05,1966.69 L408.26,1964.56 L409.48,1962.43 L410.71,1960.31 L411.95,1958.20 L413.18,1956.09 L414.43,1954.00 L415.68,1951.92 L416.94,1949.84 L418.20,1947.78 L419.47,1945.72 L420.74,1943.68 L422.02,1941.65 L423.31,1939.64 L424.60,1937.63 L425.90,1935.64 L427.21,1933.66 L428.52,1931.70 L429.84,1929.74 L431.16,1927.80 L432.49,1925.87 L433.83,1923.96 L435.17,1922.05 L436.52,1920.16 L437.87,1918.29 L439.23,1916.43 L440.60,1914.58 L441.98,1912.74 L443.36,1910.92 L444.75,1909.11 L446.14,1907.31 L447.54,1905.53 L448.95,1903.76 L450.36,1902.00 L451.78,1900.26 L453.21,1898.53 L454.65,1896.81 L456.09,1895.11 L457.53,1893.42 L458.99,1891.74 L460.45,1890.08 L461.92,1888.42 L463.40,1886.78 L464.88,1885.15 L466.37,1883.53 L467.86,1881.91 L469.37,1880.31 L470.88,1878.72 L472.40,1877.14 L473.92,1875.57 L475.45,1874.00 L476.99,1872.44 L478.54,1870.90 L480.09,1869.36 L481.65,1867.82 L483.22,1866.30 L484.80,1864.78 L486.38,1863.27 L487.97,1861.76 L489.57,1860.26 L491.18,1858.76 L492.79,1857.27 L494.42,1855.79 L496.04,1854.31 L497.68,1852.83 L499.33,1851.36 L500.98,1849.89 L502.64,1848.43 L504.31,1846.97 L505.98,1845.51 L507.67,1844.05 L509.36,1842.60 L511.06,1841.14 L512.77,1839.69 L514.48,1838.24 L516.21,1836.79 L517.94,1835.34 L519.68,1833.89 L521.43,1832.45 L523.18,1831.00 L524.95,1829.55 L526.72,1828.09 L528.51,1826.64 L530.30,1825.19 L532.10,1823.73 L533.90,1822.28 L535.72,1820.82 L537.54,1819.36 L539.38,1817.90 L541.22,1816.44 L543.07,1814.98 L544.93,1813.51 L546.80,1812.05 L548.67,1810.59 L550.56,1809.12 L552.45,1807.65 L554.36,1806.19 L556.27,1804.72 L558.19,1803.25 L560.12,1801.79 L562.06,1800.32 L564.01,1798.85 L565.97,1797.38 L567.94,1795.91 L569.92,1794.44 L571.90,1792.98 L573.90,1791.51 L575.90,1790.04 L577.92,1788.57 L579.94,1787.10 L581.98,1785.63 L584.02,1784.17 L586.07,1782.70 L588.13,1781.23 L590.21,1779.77 L592.29,1778.30 L594.38,1776.84 L596.48,1775.38 L598.60,1773.92 L600.72,1772.45 L602.85,1770.99 L604.99,1769.53 L607.14,1768.08 L609.31,1766.62 L611.48,1765.16 L613.66,1763.71 L615.86,1762.26 L618.06,1760.80 L620.27,1759.35 L622.50,1757.91 L624.73,1756.46 L626.98,1755.01 L629.23,1753.57 L631.50,1752.13 L633.78,1750.69 L636.07,1749.25 L638.37,1747.82 L640.68,1746.39 L643.00,1744.95 L645.33,1743.53 L647.67,1742.10 L650.03,1740.68 L652.39,1739.25 L654.77,1737.83 L657.16,1736.42 L659.56,1735.00 L661.97,1733.59 L664.39,1732.18 L666.82,1730.78 L669.27,1729.38 L671.72,1727.98 L674.19,1726.58 L676.67,1725.19 L679.16,1723.80 L681.66,1722.41 L684.18,1721.03 L686.71,1719.65 L689.24,1718.27 L691.80,1716.90 L694.36,1715.53 L696.93,1714.16 L699.52,1712.80 L702.12,1711.44 L704.73,1710.08 L707.36,1708.73 L709.99,1707.39 L712.64,1706.04 L715.30,1704.71 L717.98,1703.37 L720.66,1702.04 L723.36,1700.71 L726.07,1699.39 L728.80,1698.08 L731.54,1696.76 L734.29,1695.45 L737.05,1694.15 L739.83,1692.85 L742.62,1691.56 L745.42,1690.27 L748.24,1688.98 L751.07,1687.70 L753.91,1686.42 L756.77,1685.15 L759.64,1683.88 L762.52,1682.62 L765.42,1681.36 L768.33,1680.10 L771.26,1678.85 L774.20,1677.60 L777.15,1676.36 L780.11,1675.12 L783.10,1673.88 L786.09,1672.65 L789.10,1671.42 L792.12,1670.20 L795.16,1668.98 L798.21,1667.76 L801.28,1666.55 L804.36,1665.34 L807.45,1664.13 L810.56,1662.93 L813.69,1661.73 L816.83,1660.54 L819.98,1659.35 L823.15,1658.16 L826.34,1656.98 L829.53,1655.80 L832.75,1654.62 L835.98,1653.45 L839.22,1652.28 L842.48,1651.11 L845.76,1649.95 L849.05,1648.79 L852.36,1647.63 L855.68,1646.47 L859.02,1645.32 L862.37,1644.18 L865.74,1643.03 L869.13,1641.89 L872.53,1640.75 L875.95,1639.61 L879.38,1638.48 L882.83,1637.35 L886.30,1636.22 L889.78,1635.10 L893.28,1633.98 L896.80,1632.86 L900.33,1631.74 L903.88,1630.63 L907.44,1629.52 L911.03,1628.41 L914.63,1627.31 L918.24,1626.20 L921.88,1625.10 L925.53,1624.01 L929.20,1622.91 L932.88,1621.82 L936.59,1620.73 L940.31,1619.64 L944.05,1618.55 L947.80,1617.47 L951.58,1616.38 L955.37,1615.31 L959.18,1614.23 L963.00,1613.15 L966.85,1612.08 L970.71,1611.01 L974.60,1609.94 L978.50,1608.87 L982.42,1607.81 L986.35,1606.74 L990.31,1605.68 L994.29,1604.62 L998.28,1603.56 L1002.29,1602.51 L1006.32,1601.45 L1010.37,1600.40 L1014.44,1599.35 L1018.53,1598.30 L1022.64,1597.26 L1026.77,1596.21 L1030.92,1595.17 L1035.08,1594.13 L1039.27,1593.09 L1043.48,1592.06 L1047.70,1591.02 L1051.95,1589.99 L1056.22,1588.96 L1060.50,1587.94 L1064.81,1586.91 L1069.14,1585.89 L1073.48,1584.87 L1077.85,1583.85 L1082.24,1582.83 L1086.65,1581.81 L1091.08,1580.80 L1095.53,1579.79 L1100.01,1578.78 L1104.50,1577.78 L1109.02,1576.77 L1113.55,1575.77 L1118.11,1574.77 L1122.69,1573.77 L1127.29,1572.78 L1131.91,1571.79 L1136.56,1570.79 L1141.23,1569.81 L1145.91,1568.82 L1150.63,1567.84 L1155.36,1566.86 L1160.11,1565.88 L1164.89,1564.90 L1169.69,1563.93 L1174.52,1562.95 L1179.36,1561.98 L1184.23,1561.02 L1189.12,1560.05 L1194.04,1559.09 L1198.98,1558.13 L1203.94,1557.17 L1208.93,1556.21 L1213.93,1555.26 L1218.97,1554.31 L1224.02,1553.36 L1229.10,1552.42 L1234.21,1551.47 L1239.34,1550.53 L1244.49,1549.60 L1249.67,1548.66 L1254.87,1547.73 L1260.10,1546.80 L1265.35,1545.87 L1270.62,1544.94 L1275.92,1544.02 L1281.25,1543.10 L1286.60,1542.18 L1291.98,1541.27 L1297.38,1540.36 L1302.81,1539.45 L1308.26,1538.54 L1313.74,1537.63 L1319.24,1536.73 L1324.78,1535.83 L1330.33,1534.94 L1335.92,1534.04 L1341.53,1533.15 L1347.16,1532.26 L1352.82,1531.38 L1358.51,1530.49 L1364.23,1529.61 L1369.97,1528.74 L1375.75,1527.86 L1381.54,1526.99 L1387.37,1526.12 L1393.22,1525.25 L1399.10,1524.39 L1405.01,1523.53 L1410.95,1522.67 L1416.91,1521.81 L1422.91,1520.96 L1428.93,1520.11 L1434.98,1519.27 L1441.06,1518.42 L1447.16,1517.58 L1453.30,1516.74 L1459.46,1515.91 L1465.66,1515.08 L1471.88,1514.25 L1478.13,1513.42 L1484.42,1512.60 L1490.73,1511.78 L1497.07,1510.96 L1503.44,1510.14 L1509.85,1509.33 L1516.28,1508.52 L1522.74,1507.72 L1529.23,1506.92 L1535.76,1506.12 L1542.31,1505.32 L1548.90,1504.53 L1555.52,1503.74 L1562.17,1502.95 L1568.85,1502.17 L1575.56,1501.38 L1582.30,1500.61 L1589.08,1499.83 L1595.88,1499.06 L1602.72,1498.29 L1609.59,1497.53 L1616.50,1496.76 L1623.44,1496.01 L1630.41,1495.25 L1637.41,1494.50 L1644.44,1493.75 L1651.51,1493.00 L1658.62,1492.26 L1665.75,1491.52 L1672.92,1490.78 L1680.13,1490.05 L1687.36,1489.32 L1694.64,1488.59 L1701.94,1487.87 L1709.28,1487.15 L1716.66,1486.43 L1724.07,1485.72 L1731.52,1485.01 L1739.00,1484.30 L1746.51,1483.60 L1754.07,1482.90 L1761.65,1482.20 L1769.28,1481.51 L1776.94,1480.82 L1784.63,1480.13 L1792.37,1479.45 L1800.13,1478.77 L1807.94,1478.10 L1815.78,1477.42 L1823.66,1476.75 L1831.58,1476.09 L1839.53,1475.43 L1847.53,1474.77 L1855.56,1474.11 L1863.62,1473.46 L1871.73,1472.81 L1879.87,1472.17 L1888.06,1471.53 L1896.28,1470.89 L1904.54,1470.25 L1912.84,1469.62 L1921.18,1469.00 L1929.56,1468.37 L1937.97,1467.75 L1946.43,1467.14 L1954.93,1466.53 L1963.47,1465.92 L1972.04,1465.31 L1980.66,1464.71 L1989.32,1464.11 L1998.02,1463.52 L2006.77,1462.93 L2015.55,1462.34 L2024.37,1461.76 L2033.24,1461.18 L2042.15,1460.61 L2051.10,1460.04 L2060.09,1459.47 L2069.13,1458.90 L2078.20,1458.34 L2087.33,1457.79 L2096.49,1457.23 L2105.70,1456.69 L2114.95,1456.14 L2124.24,1455.60 L2133.58,1455.06 L2142.97,1454.53 L2152.39,1454.00 L2161.86,1453.47 L2171.38,1452.95 L2180.94,1452.43 L2190.55,1451.92 L2200.20,1451.41 L2209.90,1450.90 L2219.64,1450.40 L2229.43,1449.90 L2239.27,1449.41 L2249.15,1448.92 L2259.08,1448.43 L2269.06,1447.95 L2279.08,1447.47 L2289.16,1447.00 L2299.27,1446.53 L2309.44,1446.06 L2319.66,1445.60 L2329.92,1445.14 L2340.23,1444.69 L2350.59,1444.24 L2361.00,1443.79 L2371.46,1443.35 L2381.97,1442.91 L2392.53,1442.48 L2403.13,1442.05 L2413.79,1441.63 L2424.50,1441.21" stroke="#000000"/>
<path d="M234.50,2232.54 L234.90,2232.14 L235.30,2231.74 L235.70,2231.35 L236.11,2230.97 L236.51,2230.59 L236.92,2230.22 L237.33,2229.85 L237.75,2229.49 L238.16,2229.13 L238.58,2228.78 L238.99,2228.43 L239.41,2228.09 L239.84,2227.75 L240.26,2227.42 L240.69,2227.09 L241.11,2226.76 L241.55,2226.44 L241.98,2226.12 L242.41,2225.80 L242.85,2225.48 L243.29,2225.17 L243.73,2224.86 L244.17,2224.56 L244.61,2224.25 L245.06,2223.95 L245.51,2223.65 L245.96,2223.35 L246.41,2223.05 L246.87,2222.76 L247.33,2222.46 L247.79,2222.17 L248.25,2221.87 L248.71,2221.58 L249.18,2221.28 L249.65,2220.99 L250.12,2220.69 L250.59,2220.40 L251.06,2220.10 L251.54,2219.81 L252.02,2219.51 L252.50,2219.21 L252.99,2218.91 L253.47,2218.61 L253.96,2218.31 L254.45,2218.00 L254.95,2217.69 L255.44,2217.38 L255.94,2217.07 L256.44,2216.75 L256.94,2216.43 L257.45,2216.11 L257.95,2215.79 L258.46,2215.46 L258.98,2215.13 L259.49,2214.79 L260.01,2214.45 L260.53,2214.10 L261.05,2213.75 L261.57,2213.40 L262.10,2213.04 L262.63,2212.67 L263.16,2212.30 L263.70,2211.93 L264.23,2211.55 L264.77,2211.16 L265.31,2210.77 L265.86,2210.37 L266.41,2209.96 L266.95,2209.55 L267.51,2209.13 L268.06,2208.70 L268.62,2208.26 L269.18,2207.82 L269.74,2207.37 L270.31,2206.91 L270.88,2206.45 L271.45,2205.97 L272.02,2205.49 L272.60,2205.00 L273.17,2204.50 L273.76,2203.99 L274.34,2203.47 L274.93,2202.94 L275.52,2202.40 L276.11,2201.85 L276.71,2201.30 L277.30,2200.73 L277.91,2200.15 L278.51,2199.56 L279.12,2198.96 L279.73,2198.35 L280.34,2197.72 L280.95,2197.09 L281.57,2196.44 L282.19,2195.78 L282.82,2195.11 L283.44,2194.43 L284.07,2193.74 L284.71,2193.03 L285.34,2192.31 L285.98,2191.58 L286.63,2190.83 L287.27,2190.07 L287.92,2189.29 L288.57,2188.51 L289.22,2187.71 L289.88,2186.89 L290.54,2186.06 L291.21,2185.21 L291.87,2184.35 L292.54,2183.48 L293.22,2182.59 L293.89,2181.68 L294.57,2180.76 L295.25,2179.83 L295.94,2178.88 L296.63,2177.91 L297.32,2176.93 L298.02,2175.93 L298.72,2174.92 L299.42,2173.89 L300.12,2172.85 L300.83,2171.79 L301.54,2170.71 L302.26,2169.62 L302.98,2168.51 L303.70,2167.38 L304.43,2166.24 L305.16,2165.08 L305.89,2163.91 L306.62,2162.72 L307.36,2161.51 L308.11,2160.29 L308.85,2159.04 L309.60,2157.79 L310.36,2156.51 L311.11,2155.22 L311.88,2153.91 L312.64,2152.58 L313.41,2151.24 L314.18,2149.88 L314.95,2148.50 L315.73,2147.10 L316.52,2145.68 L317.30,2144.25 L318.09,2142.80 L318.89,2141.33 L319.68,2139.85 L320.48,2138.34 L321.29,2136.82 L322.10,2135.28 L322.91,2133.72 L323.73,2132.14 L324.55,2130.54 L325.37,2128.93 L326.20,2127.29 L327.03,2125.64 L327.87,2123.97 L328.71,2122.28 L329.55,2120.57 L330.40,2118.84 L331.25,2117.09 L332.11,2115.33 L332.97,2113.54 L333.83,2111.73 L334.70,2109.91 L335.57,2108.06 L336.45,2106.20 L337.33,2104.31 L338.21,2102.41 L339.10,2100.48 L339.99,2098.54 L340.89,2096.57 L341.79,2094.59 L342.70,2092.58 L343.61,2090.56 L344.52,2088.51 L345.44,2086.44 L346.36,2084.36 L347.29,2082.25 L348.22,2080.12 L349.16,2077.97 L350.10,2075.80 L351.04,2073.60 L351.99,2071.39 L352.95,2069.16 L353.90,2066.90 L354.87,2064.62 L355.83,2062.32 L356.81,2060.00 L357.78,2057.66 L358.76,2055.30 L359.75,2052.91 L360.74,2050.50 L361.73,2048.08 L362.73,2045.62 L363.74,2043.15 L364.75,2040.65 L365.76,2038.14 L366.78,2035.60 L367.80,2033.05 L368.83,2030.48 L369.87,2027.88 L370.90,2025.28 L371.95,2022.65 L373.00,2020.02 L374.05,2017.36 L375.11,2014.70 L376.17,2012.02 L377.24,2009.33 L378.31,2006.63 L379.39,2003.91 L380.47,2001.19 L381.56,1998.46 L382.65,1995.72 L383.75,1992.98 L384.86,1990.22 L385.96,1987.47 L387.08,1984.70 L388.20,1981.94 L389.32,1979.17 L390.45,1976.40 L391.59,1973.62 L392.73,1970.85 L393.87,1968.07 L395.03,1965.30 L396.18,1962.52 L397.35,1959.75 L398.51,1956.99 L399.69,1954.22 L400.87,1951.46 L402.05,1948.71 L403.24,1945.96 L404.44,1943.22 L405.64,1940.49 L406.84,1937.77 L408.06,1935.05 L409.28,1932.35 L410.50,1929.66 L411.73,1926.98 L412.97,1924.31 L414.21,1921.65 L415.46,1919.01 L416.71,1916.38 L417.97,1913.77 L419.23,1911.18 L420.50,1908.60 L421.78,1906.05 L423.07,1903.51 L424.35,1900.99 L425.65,1898.49 L426.95,1896.01 L428.26,1893.55 L429.57,1891.12 L430.89,1888.71 L432.22,1886.33 L433.55,1883.97 L434.89,1881.63 L436.24,1879.32 L437.59,1877.04 L438.95,1874.79 L440.31,1872.56 L441.68,1870.36 L443.06,1868.18 L444.44,1866.02 L445.83,1863.89 L447.23,1861.78 L448.63,1859.70 L450.04,1857.63 L451.46,1855.59 L452.88,1853.56 L454.31,1851.56 L455.75,1849.57 L457.19,1847.61 L458.64,1845.66 L460.10,1843.73 L461.57,1841.82 L463.04,1839.92 L464.51,1838.04 L466.00,1836.17 L467.49,1834.32 L468.99,1832.49 L470.50,1830.67 L472.01,1828.86 L473.53,1827.06 L475.06,1825.28 L476.59,1823.50 L478.14,1821.74 L479.68,1819.99 L481.24,1818.25 L482.81,1816.52 L484.38,1814.79 L485.96,1813.08 L487.54,1811.37 L489.14,1809.67 L490.74,1807.97 L492.35,1806.28 L493.96,1804.60 L495.59,1802.92 L497.22,1801.25 L498.86,1799.58 L500.51,1797.91 L502.16,1796.24 L503.82,1794.58 L505.49,1792.92 L507.17,1791.25 L508.86,1789.59 L510.55,1787.93 L512.26,1786.27 L513.97,1784.60 L515.69,1782.94 L517.41,1781.27 L519.15,1779.60 L520.89,1777.92 L522.64,1776.24 L524.40,1774.56 L526.17,1772.87 L527.94,1771.18 L529.73,1769.48 L531.52,1767.78 L533.32,1766.08 L535.13,1764.38 L536.95,1762.67 L538.78,1760.95 L540.61,1759.24 L542.46,1757.52 L544.31,1755.80 L546.17,1754.07 L548.04,1752.35 L549.92,1750.62 L551.81,1748.89 L553.71,1747.15 L555.62,1745.42 L557.53,1743.68 L559.46,1741.94 L561.39,1740.20 L563.33,1738.46 L565.28,1736.72 L567.24,1734.97 L569.21,1733.23 L571.19,1731.48 L573.18,1729.73 L575.18,1727.98 L577.19,1726.23 L579.21,1724.48 L581.23,1722.73 L583.27,1720.98 L585.31,1719.23 L587.37,1717.48 L589.43,1715.73 L591.51,1713.98 L593.59,1712.23 L595.69,1710.48 L597.79,1708.73 L599.91,1706.98 L602.03,1705.24 L604.17,1703.49 L606.31,1701.74 L608.47,1700.00 L610.63,1698.26 L612.81,1696.52 L614.99,1694.78 L617.19,1693.04 L619.39,1691.30 L621.61,1689.57 L623.84,1687.84 L626.07,1686.11 L628.32,1684.38 L630.58,1682.65 L632.85,1680.93 L635.13,1679.21 L637.42,1677.50 L639.72,1675.78 L642.03,1674.07 L644.36,1672.36 L646.69,1670.66 L649.04,1668.96 L651.39,1667.26 L653.76,1665.57 L656.14,1663.88 L658.53,1662.19 L660.93,1660.51 L663.34,1658.83 L665.77,1657.16 L668.20,1655.49 L670.65,1653.83 L673.11,1652.17 L675.58,1650.52 L678.06,1648.87 L680.55,1647.22 L683.06,1645.58 L685.57,1643.95 L688.10,1642.32 L690.64,1640.70 L693.20,1639.08 L695.76,1637.47 L698.34,1635.87 L700.93,1634.27 L703.53,1632.68 L706.14,1631.09 L708.77,1629.51 L711.41,1627.94 L714.06,1626.37 L716.72,1624.81 L719.40,1623.26 L722.08,1621.71 L724.79,1620.18 L727.50,1618.65 L730.23,1617.12 L732.97,1615.61 L735.72,1614.10 L738.48,1612.60 L741.26,1611.11 L744.06,1609.62 L746.86,1608.14 L749.68,1606.67 L752.51,1605.21 L755.35,1603.75 L758.21,1602.30 L761.09,1600.86 L763.97,1599.43 L766.87,1598.00 L769.78,1596.58 L772.71,1595.17 L775.65,1593.76 L778.60,1592.37 L781.57,1590.97 L784.55,1589.59 L787.55,1588.21 L790.56,1586.84 L793.58,1585.47 L796.62,1584.11 L799.68,1582.76 L802.74,1581.42 L805.83,1580.08 L808.92,1578.75 L812.03,1577.42 L815.16,1576.10 L818.30,1574.79 L821.46,1573.48 L824.63,1572.18 L827.81,1570.89 L831.01,1569.60 L834.23,1568.31 L837.46,1567.04 L840.71,1565.77 L843.97,1564.50 L847.24,1563.24 L850.54,1561.99 L853.84,1560.74 L857.17,1559.50 L860.51,1558.27 L863.86,1557.04 L867.23,1555.81 L870.62,1554.59 L874.02,1553.38 L877.44,1552.17 L880.87,1550.97 L884.33,1549.77 L887.79,1548.57 L891.28,1547.39 L894.78,1546.20 L898.29,1545.03 L901.83,1543.86 L905.38,1542.69 L908.94,1541.53 L912.53,1540.37 L916.13,1539.22 L919.75,1538.07 L923.38,1536.93 L927.03,1535.79 L930.70,1534.65 L934.39,1533.53 L938.09,1532.40 L941.81,1531.28 L945.55,1530.17 L949.31,1529.06 L953.08,1527.95 L956.87,1526.85 L960.68,1525.75 L964.51,1524.65 L968.36,1523.56 L972.22,1522.48 L976.10,1521.40 L980.00,1520.32 L983.92,1519.25 L987.86,1518.18 L991.82,1517.11 L995.79,1516.05 L999.79,1514.99 L1003.80,1513.94 L1007.83,1512.89 L1011.88,1511.84 L1015.95,1510.80 L1020.04,1509.76 L1024.15,1508.73 L1028.27,1507.70 L1032.42,1506.67 L1036.59,1505.65 L1040.77,1504.63 L1044.98,1503.62 L1049.21,1502.60 L1053.45,1501.60 L1057.72,1500.60 L1062.00,1499.60 L1066.31,1498.60 L1070.64,1497.61 L1074.98,1496.62 L1079.35,1495.64 L1083.74,1494.66 L1088.15,1493.69 L1092.58,1492.72 L1097.03,1491.75 L1101.50,1490.79 L1105.99,1489.83 L1110.51,1488.87 L1115.04,1487.92 L1119.60,1486.97 L1124.18,1486.03 L1128.78,1485.09 L1133.40,1484.16 L1138.04,1483.23 L1142.71,1482.30 L1147.39,1481.38 L1152.10,1480.46 L1156.84,1479.54 L1161.59,1478.63 L1166.37,1477.72 L1171.17,1476.82 L1175.99,1475.92 L1180.83,1475.03 L1185.70,1474.13 L1190.59,1473.25 L1195.50,1472.36 L1200.44,1471.48 L1205.40,1470.61 L1210.38,1469.74 L1215.39,1468.87 L1220.42,1468.01 L1225.48,1467.15 L1230.55,1466.29 L1235.66,1465.44 L1240.78,1464.60 L1245.93,1463.75 L1251.11,1462.91 L1256.31,1462.08 L1261.53,1461.25 L1266.78,1460.42 L1272.05,1459.60 L1277.35,1458.78 L1282.67,1457.97 L1288.02,1457.16 L1293.39,1456.35 L1298.79,1455.55 L1304.22,1454.75 L1309.67,1453.95 L1315.14,1453.16 L1320.64,1452.38 L1326.17,1451.60 L1331.73,1450.82 L1337.31,1450.04 L1342.91,1449.27 L1348.54,1448.51 L1354.20,1447.74 L1359.89,1446.99 L1365.60,1446.23 L1371.34,1445.48 L1377.11,1444.74 L1382.90,1444.00 L1388.73,1443.26 L1394.57,1442.53 L1400.45,1441.80 L1406.36,1441.07 L1412.29,1440.35 L1418.25,1439.63 L1424.24,1438.92 L1430.25,1438.21 L1436.30,1437.51 L1442.37,1436.81 L1448.47,1436.11 L1454.60,1435.42 L1460.76,1434.73 L1466.95,1434.04 L1473.17,1433.36 L1479.42,1432.69 L1485.70,1432.02 L1492.00,1431.35 L1498.34,1430.69 L1504.71,1430.03 L1511.10,1429.37 L1517.53,1428.72 L1523.99,1428.07 L1530.48,1427.43 L1536.99,1426.79 L1543.54,1426.15 L1550.12,1425.52 L1556.73,1424.90 L1563.38,1424.28 L1570.05,1423.66 L1576.76,1423.04 L1583.49,1422.43 L1590.26,1421.83 L1597.06,1421.23 L1603.89,1420.63 L1610.76,1420.03 L1617.66,1419.44 L1624.59,1418.86 L1631.55,1418.28 L1638.55,1417.70 L1645.57,1417.13 L1652.64,1416.56 L1659.73,1416.00 L1666.86,1415.44 L1674.02,1414.88 L1681.22,1414.33 L1688.45,1413.78 L1695.71,1413.24 L1703.01,1412.70 L1710.34,1412.16 L1717.71,1411.63 L1725.11,1411.10 L1732.55,1410.58 L1740.02,1410.06 L1747.53,1409.55 L1755.07,1409.04 L1762.65,1408.53 L1770.27,1408.03 L1777.92,1407.53 L1785.61,1407.04 L1793.33,1406.55 L1801.09,1406.07 L1808.88,1405.59 L1816.72,1405.11 L1824.59,1404.64 L1832.49,1404.17 L1840.44,1403.71 L1848.42,1403.25 L1856.44,1402.79 L1864.50,1402.34 L1872.59,1401.89 L1880.73,1401.45 L1888.90,1401.01 L1897.11,1400.58 L1905.36,1400.15 L1913.65,1399.72 L1921.97,1399.30 L1930.34,1398.88 L1938.75,1398.47 L1947.19,1398.06 L1955.68,1397.65 L1964.21,1397.25 L1972.77,1396.86 L1981.38,1396.46 L1990.03,1396.08 L1998.71,1395.69 L2007.44,1395.31 L2016.21,1394.94 L2025.03,1394.57 L2033.88,1394.20 L2042.77,1393.84 L2051.71,1393.48 L2060.69,1393.13 L2069.71,1392.78 L2078.78,1392.43 L2087.89,1392.09 L2097.04,1391.75 L2106.23,1391.42 L2115.47,1391.09 L2124.75,1390.77 L2134.07,1390.45 L2143.44,1390.13 L2152.85,1389.82 L2162.31,1389.52 L2171.81,1389.21 L2181.36,1388.91 L2190.95,1388.62 L2200.59,1388.33 L2210.27,1388.05 L2220.00,1387.76 L2229.77,1387.49 L2239.59,1387.21 L2249.46,1386.95 L2259.37,1386.68 L2269.33,1386.42 L2279.34,1386.17 L2289.39,1385.92 L2299.49,1385.67 L2309.64,1385.43 L2319.84,1385.19 L2330.09,1384.95 L2340.38,1384.72 L2350.72,1384.50 L2361.11,1384.28 L2371.55,1384.06 L2382.04,1383.85 L2392.58,1383.64 L2403.17,1383.44 L2413.81,1383.24 L2424.50,1383.04" stroke="#0000ff"/>
<path d="M235.40,2233.07 L235.80,2232.65 L236.21,2232.23 L236.61,2231.83 L237.02,2231.43 L237.43,2231.03 L237.84,2230.65 L238.25,2230.27 L238.67,2229.89 L239.09,2229.53 L239.51,2229.16 L239.93,2228.81 L240.35,2228.46 L240.78,2228.11 L241.20,2227.77 L241.63,2227.43 L242.06,2227.10 L242.50,2226.77 L242.93,2226.45 L243.37,2226.13 L243.81,2225.81 L244.25,2225.50 L244.69,2225.19 L245.14,2224.88 L245.59,2224.57 L246.04,2224.27 L246.49,2223.97 L246.94,2223.68 L247.40,2223.38 L247.86,2223.09 L248.32,2222.80 L248.78,2222.51 L249.25,2222.22 L249.71,2221.93 L250.18,2221.64 L250.65,2221.35 L251.13,2221.06 L251.60,2220.78 L252.08,2220.49 L252.56,2220.20 L253.05,2219.91 L253.53,2219.62 L254.02,2219.33 L254.51,2219.04 L255.00,2218.75 L255.49,2218.45 L255.99,2218.16 L256.49,2217.86 L256.99,2217.56 L257.49,2217.25 L258.00,2216.94 L258.51,2216.64 L259.02,2216.32 L259.53,2216.01 L260.05,2215.69 L260.56,2215.36 L261.08,2215.04 L261.61,2214.71 L262.13,2214.37 L262.66,2214.03 L263.19,2213.68 L263.72,2213.33 L264.26,2212.98 L264.80,2212.62 L265.34,2212.25 L265.88,2211.88 L266.43,2211.50 L266.97,2211.11 L267.52,2210.72 L268.08,2210.32 L268.63,2209.92 L269.19,2209.50 L269.75,2209.08 L270.32,2208.66 L270.88,2208.22 L271.45,2207.78 L272.02,2207.32 L272.60,2206.86 L273.17,2206.40 L273.75,2205.92 L274.34,2205.43 L274.92,2204.93 L275.51,2204.43 L276.10,2203.91 L276.69,2203.39 L277.29,2202.85 L277.89,2202.31 L278.49,2201.75 L279.10,2201.18 L279.70,2200.60 L280.31,2200.02 L280.93,2199.41 L281.54,2198.80 L282.16,2198.18 L282.78,2197.54 L283.41,2196.89 L284.04,2196.23 L284.67,2195.56 L285.30,2194.87 L285.94,2194.17 L286.58,2193.46 L287.22,2192.73 L287.87,2191.99 L288.52,2191.24 L289.17,2190.47 L289.82,2189.68 L290.48,2188.89 L291.14,2188.07 L291.81,2187.25 L292.47,2186.40 L293.14,2185.55 L293.82,2184.67 L294.49,2183.78 L295.18,2182.88 L295.86,2181.96 L296.54,2181.02 L297.23,2180.07 L297.93,2179.09 L298.62,2178.11 L299.32,2177.10 L300.03,2176.08 L300.73,2175.04 L301.44,2173.98 L302.15,2172.91 L302.87,2171.82 L303.59,2170.71 L304.31,2169.58 L305.04,2168.43 L305.77,2167.26 L306.50,2166.08 L307.24,2164.87 L307.98,2163.65 L308.72,2162.41 L309.47,2161.14 L310.22,2159.86 L310.97,2158.56 L311.73,2157.24 L312.49,2155.89 L313.26,2154.53 L314.03,2153.14 L314.80,2151.74 L315.57,2150.31 L316.35,2148.87 L317.14,2147.40 L317.92,2145.91 L318.71,2144.39 L319.51,2142.86 L320.30,2141.30 L321.11,2139.72 L321.91,2138.12 L322.72,2136.50 L323.53,2134.85 L324.35,2133.18 L325.17,2131.49 L326.00,2129.77 L326.82,2128.03 L327.66,2126.26 L328.49,2124.48 L329.33,2122.66 L330.18,2120.83 L331.02,2118.96 L331.88,2117.08 L332.73,2115.17 L333.59,2113.23 L334.46,2111.27 L335.32,2109.28 L336.20,2107.27 L337.07,2105.23 L337.95,2103.16 L338.84,2101.07 L339.73,2098.95 L340.62,2096.81 L341.52,2094.64 L342.42,2092.44 L343.32,2090.21 L344.23,2087.96 L345.15,2085.68 L346.07,2083.37 L346.99,2081.04 L347.92,2078.67 L348.85,2076.28 L349.78,2073.86 L350.72,2071.41 L351.67,2068.94 L352.62,2066.43 L353.57,2063.89 L354.53,2061.33 L355.49,2058.73 L356.46,2056.11 L357.43,2053.45 L358.41,2050.77 L359.39,2048.05 L360.37,2045.31 L361.36,2042.53 L362.36,2039.73 L363.36,2036.89 L364.36,2034.03 L365.37,2031.14 L366.39,2028.22 L367.40,2025.29 L368.43,2022.33 L369.45,2019.34 L370.49,2016.34 L371.53,2013.32 L372.57,2010.28 L373.62,2007.23 L374.67,2004.16 L375.73,2001.08 L376.79,1997.99 L377.86,1994.89 L378.93,1991.77 L380.01,1988.65 L381.09,1985.53 L382.18,1982.40 L383.27,1979.26 L384.37,1976.12 L385.47,1972.98 L386.58,1969.85 L387.69,1966.71 L388.81,1963.57 L389.93,1960.44 L391.06,1957.32 L392.20,1954.20 L393.34,1951.09 L394.48,1947.99 L395.63,1944.90 L396.79,1941.82 L397.95,1938.76 L399.12,1935.71 L400.29,1932.67 L401.47,1929.66 L402.65,1926.66 L403.84,1923.68 L405.04,1920.73 L406.24,1917.79 L407.44,1914.89 L408.65,1912.00 L409.87,1909.15 L411.09,1906.32 L412.32,1903.52 L413.56,1900.75 L414.80,1898.01 L416.04,1895.31 L417.30,1892.64 L418.55,1889.99 L419.82,1887.38 L421.09,1884.80 L422.36,1882.25 L423.65,1879.72 L424.93,1877.23 L426.23,1874.76 L427.53,1872.31 L428.83,1869.89 L430.15,1867.50 L431.47,1865.13 L432.79,1862.78 L434.12,1860.45 L435.46,1858.15 L436.80,1855.87 L438.15,1853.60 L439.51,1851.36 L440.87,1849.14 L442.24,1846.93 L443.61,1844.74 L445.00,1842.57 L446.38,1840.41 L447.78,1838.27 L449.18,1836.15 L450.59,1834.03 L452.00,1831.93 L453.43,1829.85 L454.85,1827.77 L456.29,1825.71 L457.73,1823.65 L459.18,1821.61 L460.63,1819.57 L462.10,1817.54 L463.56,1815.52 L465.04,1813.51 L466.52,1811.50 L468.01,1809.50 L469.51,1807.50 L471.01,1805.51 L472.52,1803.51 L474.04,1801.53 L475.57,1799.54 L477.10,1797.55 L478.64,1795.57 L480.19,1793.59 L481.74,1791.62 L483.30,1789.64 L484.87,1787.67 L486.45,1785.70 L488.03,1783.73 L489.62,1781.76 L491.22,1779.80 L492.83,1777.84 L494.44,1775.88 L496.06,1773.93 L497.69,1771.98 L499.32,1770.03 L500.97,1768.08 L502.62,1766.13 L504.28,1764.19 L505.95,1762.25 L507.62,1760.31 L509.31,1758.38 L511.00,1756.45 L512.70,1754.52 L514.40,1752.59 L516.12,1750.67 L517.84,1748.75 L519.57,1746.83 L521.31,1744.92 L523.06,1743.01 L524.82,1741.10 L526.58,1739.19 L528.35,1737.29 L530.13,1735.39 L531.92,1733.49 L533.72,1731.60 L535.53,1729.71 L537.34,1727.82 L539.16,1725.94 L541.00,1724.05 L542.84,1722.18 L544.68,1720.30 L546.54,1718.43 L548.41,1716.56 L550.28,1714.69 L552.17,1712.83 L554.06,1710.97 L555.96,1709.12 L557.87,1707.26 L559.79,1705.41 L561.72,1703.57 L563.66,1701.73 L565.61,1699.89 L567.56,1698.05 L569.53,1696.22 L571.50,1694.39 L573.49,1692.56 L575.48,1690.74 L577.48,1688.92 L579.49,1687.11 L581.51,1685.30 L583.55,1683.49 L585.59,1681.69 L587.64,1679.89 L589.70,1678.09 L591.77,1676.30 L593.84,1674.51 L595.93,1672.72 L598.03,1670.94 L600.14,1669.16 L602.26,1667.39 L604.39,1665.62 L606.53,1663.85 L608.68,1662.09 L610.83,1660.33 L613.00,1658.57 L615.18,1656.82 L617.37,1655.08 L619.57,1653.33 L621.78,1651.59 L624.00,1649.86 L626.23,1648.13 L628.47,1646.40 L630.73,1644.68 L632.99,1642.96 L635.26,1641.24 L637.55,1639.53 L639.84,1637.83 L642.15,1636.12 L644.46,1634.43 L646.79,1632.73 L649.13,1631.04 L651.48,1629.36 L653.84,1627.68 L656.21,1626.00 L658.59,1624.33 L660.98,1622.66 L663.39,1620.99 L665.81,1619.34 L668.23,1617.68 L670.67,1616.03 L673.12,1614.38 L675.59,1612.74 L678.06,1611.11 L680.54,1609.47 L683.04,1607.85 L685.55,1606.22 L688.07,1604.60 L690.60,1602.99 L693.15,1601.38 L695.70,1599.78 L698.27,1598.18 L700.85,1596.58 L703.45,1594.99 L706.05,1593.40 L708.67,1591.82 L711.30,1590.25 L713.94,1588.68 L716.59,1587.11 L719.26,1585.55 L721.94,1583.99 L724.63,1582.44 L727.34,1580.89 L730.05,1579.35 L732.78,1577.81 L735.53,1576.28 L738.28,1574.75 L741.05,1573.23 L743.83,1571.71 L746.63,1570.20 L749.43,1568.70 L752.26,1567.19 L755.09,1565.70 L757.94,1564.21 L760.80,1562.72 L763.67,1561.24 L766.56,1559.76 L769.46,1558.29 L772.38,1556.83 L775.31,1555.37 L778.25,1553.91 L781.21,1552.47 L784.18,1551.02 L787.17,1549.58 L790.16,1548.15 L793.18,1546.72 L796.20,1545.30 L799.25,1543.88 L802.30,1542.47 L805.37,1541.07 L808.46,1539.67 L811.56,1538.27 L814.67,1536.89 L817.80,1535.50 L820.94,1534.12 L824.10,1532.75 L827.27,1531.39 L830.46,1530.03 L833.66,1528.67 L836.88,1527.32 L840.11,1525.98 L843.36,1524.64 L846.62,1523.31 L849.90,1521.98 L853.20,1520.66 L856.51,1519.35 L859.83,1518.04 L863.17,1516.74 L866.53,1515.44 L869.90,1514.15 L873.29,1512.87 L876.69,1511.59 L880.11,1510.32 L883.55,1509.05 L887.00,1507.79 L890.47,1506.54 L893.96,1505.29 L897.46,1504.05 L900.98,1502.81 L904.51,1501.58 L908.06,1500.36 L911.63,1499.14 L915.21,1497.93 L918.81,1496.72 L922.43,1495.53 L926.07,1494.33 L929.72,1493.15 L933.39,1491.97 L937.08,1490.80 L940.78,1489.63 L944.50,1488.47 L948.24,1487.32 L952.00,1486.17 L955.78,1485.03 L959.57,1483.89 L963.38,1482.76 L967.21,1481.64 L971.05,1480.52 L974.92,1479.41 L978.80,1478.31 L982.70,1477.21 L986.62,1476.12 L990.56,1475.04 L994.51,1473.96 L998.49,1472.88 L1002.48,1471.82 L1006.49,1470.76 L1010.52,1469.70 L1014.58,1468.65 L1018.64,1467.61 L1022.73,1466.58 L1026.84,1465.55 L1030.97,1464.52 L1035.11,1463.50 L1039.28,1462.49 L1043.46,1461.49 L1047.67,1460.49 L1051.89,1459.49 L1056.14,1458.50 L1060.40,1457.52 L1064.69,1456.55 L1068.99,1455.58 L1073.32,1454.61 L1077.67,1453.65 L1082.03,1452.70 L1086.42,1451.75 L1090.83,1450.81 L1095.25,1449.88 L1099.70,1448.95 L1104.17,1448.03 L1108.66,1447.11 L1113.18,1446.20 L1117.71,1445.29 L1122.26,1444.39 L1126.84,1443.50 L1131.44,1442.61 L1136.06,1441.73 L1140.70,1440.85 L1145.36,1439.98 L1150.04,1439.11 L1154.75,1438.25 L1159.48,1437.40 L1164.23,1436.55 L1169.00,1435.71 L1173.80,1434.87 L1178.62,1434.04 L1183.46,1433.22 L1188.32,1432.40 L1193.21,1431.58 L1198.12,1430.77 L1203.05,1429.97 L1208.01,1429.17 L1212.99,1428.38 L1217.99,1427.59 L1223.02,1426.81 L1228.07,1426.03 L1233.14,1425.26 L1238.24,1424.50 L1243.36,1423.74 L1248.51,1422.98 L1253.68,1422.24 L1258.87,1421.49 L1264.09,1420.76 L1269.34,1420.02 L1274.61,1419.30 L1279.90,1418.57 L1285.22,1417.86 L1290.56,1417.15 L1295.93,1416.44 L1301.32,1415.74 L1306.74,1415.05 L1312.18,1414.36 L1317.65,1413.67 L1323.15,1412.99 L1328.67,1412.32 L1334.22,1411.65 L1339.79,1410.99 L1345.39,1410.33 L1351.02,1409.68 L1356.67,1409.03 L1362.35,1408.39 L1368.06,1407.75 L1373.79,1407.12 L1379.55,1406.49 L1385.34,1405.87 L1391.15,1405.25 L1396.99,1404.64 L1402.86,1404.03 L1408.76,1403.43 L1414.68,1402.83 L1420.63,1402.24 L1426.61,1401.65 L1432.62,1401.07 L1438.66,1400.50 L1444.72,1399.93 L1450.82,1399.36 L1456.94,1398.80 L1463.09,1398.24 L1469.27,1397.69 L1475.48,1397.14 L1481.72,1396.60 L1487.99,1396.06 L1494.28,1395.53 L1500.61,1395.00 L1506.97,1394.48 L1513.35,1393.96 L1519.77,1393.45 L1526.22,1392.94 L1532.70,1392.44 L1539.20,1391.94 L1545.74,1391.45 L1552.31,1390.96 L1558.91,1390.48 L1565.54,1390.00 L1572.20,1389.52 L1578.90,1389.05 L1585.62,1388.59 L1592.38,1388.13 L1599.17,1387.67 L1605.99,1387.22 L1612.84,1386.78 L1619.73,1386.33 L1626.64,1385.90 L1633.59,1385.46 L1640.58,1385.04 L1647.59,1384.61 L1654.64,1384.20 L1661.72,1383.78 L1668.84,1383.37 L1675.99,1382.97 L1683.17,1382.57 L1690.38,1382.17 L1697.63,1381.78 L1704.92,1381.39 L1712.24,1381.01 L1719.59,1380.63 L1726.98,1380.26 L1734.40,1379.89 L1741.86,1379.52 L1749.35,1379.16 L1756.88,1378.81 L1764.44,1378.46 L1772.04,1378.11 L1779.67,1377.77 L1787.34,1377.43 L1795.05,1377.10 L1802.79,1376.77 L1810.57,1376.44 L1818.38,1376.12 L1826.24,1375.80 L1834.13,1375.49 L1842.05,1375.18 L1850.02,1374.88 L1858.02,1374.58 L1866.06,1374.28 L1874.13,1373.99 L1882.25,1373.70 L1890.40,1373.42 L1898.59,1373.14 L1906.82,1372.87 L1915.09,1372.60 L1923.40,1372.33 L1931.74,1372.07 L1940.13,1371.81 L1948.56,1371.55 L1957.02,1371.30 L1965.53,1371.06 L1974.07,1370.82 L1982.66,1370.58 L1991.28,1370.34 L1999.95,1370.11 L2008.65,1369.89 L2017.40,1369.67 L2026.19,1369.45 L2035.02,1369.23 L2043.89,1369.02 L2052.81,1368.82 L2061.76,1368.61 L2070.76,1368.42 L2079.80,1368.22 L2088.88,1368.03 L2098.01,1367.84 L2107.18,1367.66 L2116.39,1367.48 L2125.64,1367.31 L2134.94,1367.14 L2144.29,1366.97 L2153.67,1366.80 L2163.10,1366.64 L2172.58,1366.49 L2182.10,1366.34 L2191.66,1366.19 L2201.27,1366.04 L2210.92,1365.90 L2220.62,1365.76 L2230.37,1365.63 L2240.16,1365.50 L2250.00,1365.37 L2259.88,1365.25 L2269.81,1365.13 L2279.79,1365.01 L2289.81,1364.90 L2299.88,1364.79 L2310.00,1364.69 L2320.17,1364.59 L2330.38,1364.49 L2340.65,1364.39 L2350.96,1364.30 L2361.31,1364.22 L2371.72,1364.13 L2382.18,1364.05 L2392.68,1363.98 L2403.24,1363.90 L2413.85,1363.83 L2424.50,1363.77" stroke="#00ff00"/>
</g>
<rect x="230.0" y="1308.0" width="2194.5" height="978.0" fill="none" stroke="#262626" stroke-width="1.5"/>
<path d="M230.00,2286.0V2264.10M230.00,1308.0V1329.90M449.45,2286.0V2264.10M449.45,1308.0V1329.90M668.90,2286.0V2264.10M668.90,1308.0V1329.90M888.35,2286.0V2264.10M888.35,1308.0V1329.90M1107.80,2286.0V2264.10M1107.80,1308.0V1329.90M1327.25,2286.0V2264.10M1327.25,1308.0V1329.90M1546.70,2286.0V2264.10M1546.70,1308.0V1329.90M1766.15,2286.0V2264.10M1766.15,1308.0V1329.90M1985.60,2286.0V2264.10M1985.60,1308.0V1329.90M2205.05,2286.0V2264.10M2205.05,1308.0V1329.90M2424.50,2286.0V2264.10M2424.50,1308.0V1329.90M230.0,2286.00H251.90M2424.5,2286.00H2402.60M230.0,1960.00H251.90M2424.5,1960.00H2402.60M230.0,1634.00H251.90M2424.5,1634.00H2402.60M230.0,1308.00H251.90M2424.5,1308.00H2402.60" stroke="#262626" stroke-width="1.5" fill="none"/>
<text transform="translate(228.40,2355.70) scale(1.0300,1.0000)" text-anchor="middle" font-size="53.50" fill="#262626">0</text>
<text transform="translate(447.85,2355.70) scale(1.0300,1.0000)" text-anchor="middle" font-size="53.50" fill="#262626">5</text>
<text transform="translate(667.30,2355.70) scale(1.0300,1.0000)" text-anchor="middle" font-size="53.50" fill="#262626">10</text>
<text transform="translate(886.75,2355.70) scale(1.0300,1.0000)" text-anchor="middle" font-size="53.50" fill="#262626">15</text>
<text transform="translate(1106.20,2355.70) scale(1.0300,1.0000)" text-anchor="middle" font-size="53.50" fill="#262626">20</text>
<text transform="translate(1325.65,2355.70) scale(1.0300,1.0000)" text-anchor="middle" font-size="53.50" fill="#262626">25</text>
<text transform="translate(1545.10,2355.70) scale(1.0300,1.0000)" text-anchor="middle" font-size="53.50" fill="#262626">30</text>
<text transform="translate(1764.55,2355.70) scale(1.0300,1.0000)" text-anchor="middle" font-size="53.50" fill="#262626">35</text>
<text transform="translate(1984.00,2355.70) scale(1.0300,1.0000)" text-anchor="middle" font-size="53.50" fill="#262626">40</text>
<text transform="translate(2203.45,2355.70) scale(1.0300,1.0000)" text-anchor="middle" font-size="53.50" fill="#262626">45</text>
<text transform="translate(2422.90,2355.70) scale(1.0300,1.0000)" text-anchor="middle" font-size="53.50" fill="#262626">50</text>
<text transform="translate(210.70,2307.65) scale(1.0300,1.0000)" text-anchor="end" font-size="53.50" fill="#262626">0</text>
<text transform="translate(210.70,1981.65) scale(1.0300,1.0000)" text-anchor="end" font-size="53.50" fill="#262626">5</text>
<text transform="translate(210.70,1655.65) scale(1.0300,1.0000)" text-anchor="end" font-size="53.50" fill="#262626">10</text>
<text transform="translate(210.70,1329.65) scale(1.0300,1.0000)" text-anchor="end" font-size="53.50" fill="#262626">15</text>
<text transform="translate(1309.14,2433.69) scale(0.9552,1.0000)" text-anchor="start" font-size="52.88" fill="#262626">t</text>
<text transform="translate(1326.31,2401.65) scale(1.0000,0.8704)" text-anchor="start" font-size="36.65" fill="#262626">*</text>
<text transform="translate(128.00,2026.12) rotate(-90) scale(0.8807,1)" text-anchor="start" font-size="57.0" fill="#262626">Particulate biomass</text>
<rect x="2213.0" y="1332.30" width="184.6" height="268.2" fill="#ffffff" stroke="#262626" stroke-width="1.5"/>
<path d="M2221,1368.50H2304" stroke="#ff0000" stroke-width="6"/>
<text transform="translate(2310.50,1389.30) scale(1.0700,1.0000)" text-anchor="start" font-size="51.90" fill="#000000">0.7</text>
<path d="M2221,1433.85H2304" stroke="#000000" stroke-width="6"/>
<text transform="translate(2310.50,1454.65) scale(1.0700,1.0000)" text-anchor="start" font-size="51.90" fill="#000000">0.8</text>
<path d="M2221,1499.20H2304" stroke="#0000ff" stroke-width="6"/>
<text transform="translate(2310.50,1520.00) scale(1.0700,1.0000)" text-anchor="start" font-size="51.90" fill="#000000">0.9</text>
<path d="M2221,1564.55H2304" stroke="#00ff00" stroke-width="6"/>
<text transform="translate(2310.50,1585.35) scale(1.0700,1.0000)" text-anchor="start" font-size="51.90" fill="#000000">1.0</text>
<clipPath id="c2"><rect x="230.0" y="2544.4" width="2194.5" height="991.5999999999999"/></clipPath>
<g clip-path="url(#c2)" fill="none" stroke-width="6.3" stroke-linejoin="round" stroke-linecap="butt">
<path d="M234.50,2910.76 L234.63,2906.73 L234.77,2902.80 L234.90,2898.95 L235.04,2895.21 L235.17,2891.55 L235.31,2887.99 L235.45,2884.51 L235.58,2881.12 L235.72,2877.82 L235.87,2874.60 L236.01,2871.46 L236.15,2868.41 L236.29,2865.44 L236.44,2862.54 L236.58,2859.72 L236.73,2856.98 L236.88,2854.31 L237.03,2851.71 L237.18,2849.18 L237.33,2846.73 L237.48,2844.34 L237.63,2842.02 L237.78,2839.76 L237.94,2837.56 L238.09,2835.43 L238.25,2833.36 L238.41,2831.34 L238.57,2829.39 L238.73,2827.49 L238.89,2825.64 L239.05,2823.84 L239.21,2822.10 L239.38,2820.41 L239.54,2818.76 L239.71,2817.17 L239.88,2815.61 L240.05,2814.10 L240.22,2812.64 L240.39,2811.21 L240.56,2809.82 L240.74,2808.47 L240.91,2807.16 L241.09,2805.88 L241.26,2804.64 L241.44,2803.42 L241.62,2802.24 L241.80,2801.08 L241.98,2799.96 L242.17,2798.85 L242.35,2797.77 L242.54,2796.72 L242.72,2795.68 L242.91,2794.67 L243.10,2793.67 L243.29,2792.69 L243.48,2791.72 L243.68,2790.77 L243.87,2789.83 L244.07,2788.90 L244.27,2787.98 L244.46,2787.07 L244.66,2786.16 L244.87,2785.26 L245.07,2784.36 L245.27,2783.46 L245.48,2782.56 L245.69,2781.66 L245.89,2780.76 L246.10,2779.85 L246.32,2778.94 L246.53,2778.01 L246.74,2777.08 L246.96,2776.14 L247.17,2775.19 L247.39,2774.22 L247.61,2773.24 L247.83,2772.25 L248.06,2771.24 L248.28,2770.21 L248.51,2769.18 L248.74,2768.13 L248.96,2767.07 L249.19,2765.99 L249.43,2764.91 L249.66,2763.81 L249.90,2762.70 L250.13,2761.58 L250.37,2760.45 L250.61,2759.31 L250.85,2758.16 L251.10,2756.99 L251.34,2755.82 L251.59,2754.64 L251.84,2753.45 L252.09,2752.25 L252.34,2751.04 L252.59,2749.83 L252.85,2748.61 L253.10,2747.37 L253.36,2746.14 L253.62,2744.89 L253.89,2743.64 L254.15,2742.38 L254.42,2741.12 L254.68,2739.85 L254.95,2738.57 L255.22,2737.29 L255.50,2736.00 L255.77,2734.71 L256.05,2733.42 L256.33,2732.12 L256.61,2730.81 L256.89,2729.51 L257.18,2728.20 L257.46,2726.88 L257.75,2725.57 L258.04,2724.25 L258.33,2722.93 L258.63,2721.61 L258.92,2720.29 L259.22,2718.96 L259.52,2717.64 L259.82,2716.32 L260.13,2714.99 L260.44,2713.66 L260.74,2712.34 L261.05,2711.02 L261.37,2709.69 L261.68,2708.37 L262.00,2707.05 L262.32,2705.73 L262.64,2704.41 L262.96,2703.10 L263.29,2701.79 L263.62,2700.48 L263.95,2699.18 L264.28,2697.87 L264.61,2696.58 L264.95,2695.28 L265.29,2693.99 L265.63,2692.71 L265.97,2691.43 L266.32,2690.16 L266.67,2688.89 L267.02,2687.63 L267.37,2686.37 L267.73,2685.12 L268.09,2683.88 L268.45,2682.65 L268.81,2681.42 L269.18,2680.20 L269.54,2678.99 L269.91,2677.78 L270.29,2676.59 L270.66,2675.40 L271.04,2674.22 L271.42,2673.06 L271.80,2671.90 L272.19,2670.75 L272.58,2669.61 L272.97,2668.49 L273.36,2667.37 L273.76,2666.27 L274.16,2665.18 L274.56,2664.10 L274.96,2663.03 L275.37,2661.97 L275.78,2660.93 L276.19,2659.90 L276.61,2658.88 L277.03,2657.88 L277.45,2656.89 L277.87,2655.91 L278.30,2654.95 L278.73,2654.01 L279.16,2653.08 L279.60,2652.16 L280.04,2651.26 L280.48,2650.38 L280.92,2649.51 L281.37,2648.66 L281.82,2647.83 L282.27,2647.01 L282.73,2646.21 L283.19,2645.43 L283.65,2644.66 L284.12,2643.92 L284.59,2643.19 L285.06,2642.49 L285.54,2641.80 L286.02,2641.13 L286.50,2640.48 L286.98,2639.85 L287.47,2639.24 L287.96,2638.66 L288.46,2638.09 L288.96,2637.54 L289.46,2637.02 L289.97,2636.52 L290.48,2636.04 L290.99,2635.58 L291.50,2635.14 L292.02,2634.73 L292.55,2634.34 L293.07,2633.97 L293.60,2633.63 L294.14,2633.31 L294.67,2633.01 L295.21,2632.74 L295.76,2632.49 L296.31,2632.26 L296.86,2632.06 L297.42,2631.89 L297.98,2631.74 L298.54,2631.61 L299.11,2631.52 L299.68,2631.44 L300.25,2631.40 L300.83,2631.38 L301.41,2631.38 L302.00,2631.42 L302.59,2631.48 L303.19,2631.56 L303.78,2631.68 L304.39,2631.82 L304.99,2631.99 L305.61,2632.19 L306.22,2632.42 L306.84,2632.67 L307.46,2632.96 L308.09,2633.27 L308.72,2633.62 L309.36,2633.99 L310.00,2634.39 L310.65,2634.83 L311.30,2635.29 L311.95,2635.79 L312.61,2636.31 L313.27,2636.87 L313.94,2637.46 L314.61,2638.07 L315.29,2638.73 L315.97,2639.41 L316.65,2640.12 L317.34,2640.87 L318.04,2641.65 L318.74,2642.46 L319.44,2643.31 L320.15,2644.19 L320.86,2645.11 L321.58,2646.05 L322.31,2647.03 L323.04,2648.05 L323.77,2649.10 L324.51,2650.19 L325.25,2651.31 L326.00,2652.46 L326.75,2653.65 L327.51,2654.88 L328.28,2656.14 L329.04,2657.44 L329.82,2658.78 L330.60,2660.15 L331.38,2661.56 L332.17,2663.01 L332.97,2664.49 L333.77,2666.02 L334.58,2667.58 L335.39,2669.17 L336.21,2670.81 L337.03,2672.49 L337.86,2674.20 L338.69,2675.95 L339.53,2677.74 L340.38,2679.58 L341.23,2681.45 L342.09,2683.36 L342.95,2685.31 L343.82,2687.30 L344.69,2689.34 L345.57,2691.41 L346.46,2693.53 L347.35,2695.68 L348.25,2697.88 L349.16,2700.12 L350.07,2702.41 L350.98,2704.73 L351.91,2707.10 L352.84,2709.51 L353.77,2711.96 L354.71,2714.46 L355.66,2717.00 L356.62,2719.58 L357.58,2722.21 L358.55,2724.88 L359.52,2727.60 L360.50,2730.35 L361.49,2733.15 L362.49,2735.98 L363.49,2738.85 L364.50,2741.76 L365.51,2744.70 L366.53,2747.68 L367.56,2750.69 L368.60,2753.74 L369.64,2756.81 L370.69,2759.92 L371.75,2763.06 L372.81,2766.23 L373.88,2769.42 L374.96,2772.64 L376.05,2775.89 L377.14,2779.16 L378.24,2782.45 L379.35,2785.77 L380.47,2789.11 L381.59,2792.47 L382.72,2795.85 L383.86,2799.24 L385.01,2802.66 L386.16,2806.09 L387.32,2809.54 L388.49,2813.00 L389.67,2816.47 L390.86,2819.96 L392.05,2823.46 L393.25,2826.97 L394.46,2830.49 L395.68,2834.02 L396.91,2837.55 L398.15,2841.09 L399.39,2844.64 L400.64,2848.19 L401.90,2851.74 L403.17,2855.30 L404.45,2858.85 L405.73,2862.41 L407.03,2865.97 L408.33,2869.52 L409.65,2873.07 L410.97,2876.62 L412.30,2880.17 L413.64,2883.70 L414.99,2887.23 L416.34,2890.76 L417.71,2894.27 L419.09,2897.77 L420.47,2901.26 L421.87,2904.75 L423.27,2908.21 L424.69,2911.67 L426.11,2915.10 L427.54,2918.53 L428.99,2921.93 L430.44,2925.32 L431.90,2928.69 L433.38,2932.04 L434.86,2935.37 L436.35,2938.69 L437.85,2941.99 L439.37,2945.27 L440.89,2948.53 L442.43,2951.77 L443.97,2955.00 L445.52,2958.21 L447.09,2961.41 L448.67,2964.58 L450.25,2967.74 L451.85,2970.89 L453.46,2974.01 L455.08,2977.12 L456.71,2980.21 L458.35,2983.29 L460.00,2986.35 L461.66,2989.39 L463.34,2992.42 L465.02,2995.43 L466.72,2998.43 L468.43,3001.41 L470.15,3004.37 L471.88,3007.32 L473.63,3010.25 L475.38,3013.17 L477.15,3016.06 L478.93,3018.95 L480.73,3021.81 L482.53,3024.66 L484.35,3027.49 L486.17,3030.31 L488.02,3033.11 L489.87,3035.89 L491.74,3038.66 L493.61,3041.41 L495.51,3044.14 L497.41,3046.85 L499.33,3049.55 L501.26,3052.23 L503.20,3054.89 L505.16,3057.53 L507.13,3060.16 L509.11,3062.77 L511.11,3065.36 L513.12,3067.94 L515.15,3070.49 L517.18,3073.03 L519.24,3075.55 L521.30,3078.06 L523.38,3080.54 L525.47,3083.01 L527.58,3085.45 L529.71,3087.88 L531.84,3090.30 L533.99,3092.69 L536.16,3095.06 L538.34,3097.42 L540.54,3099.75 L542.75,3102.07 L544.97,3104.37 L547.21,3106.65 L549.47,3108.91 L551.74,3111.15 L554.02,3113.38 L556.33,3115.58 L558.64,3117.76 L560.98,3119.93 L563.33,3122.07 L565.69,3124.20 L568.07,3126.31 L570.47,3128.39 L572.88,3130.46 L575.31,3132.51 L577.76,3134.53 L580.22,3136.54 L582.70,3138.53 L585.20,3140.49 L587.71,3142.44 L590.24,3144.37 L592.79,3146.27 L595.36,3148.16 L597.94,3150.02 L600.54,3151.87 L603.16,3153.69 L605.79,3155.49 L608.45,3157.27 L611.12,3159.04 L613.81,3160.78 L616.52,3162.49 L619.24,3164.19 L621.99,3165.87 L624.75,3167.52 L627.53,3169.16 L630.33,3170.77 L633.15,3172.36 L635.99,3173.93 L638.85,3175.48 L641.73,3177.01 L644.63,3178.51 L647.54,3179.99 L650.48,3181.45 L653.44,3182.89 L656.41,3184.31 L659.41,3185.71 L662.43,3187.08 L665.47,3188.44 L668.53,3189.78 L671.61,3191.10 L674.71,3192.40 L677.83,3193.69 L680.97,3194.96 L684.13,3196.21 L687.32,3197.45 L690.53,3198.67 L693.75,3199.88 L697.01,3201.08 L700.28,3202.26 L703.57,3203.43 L706.89,3204.59 L710.23,3205.74 L713.59,3206.88 L716.98,3208.01 L720.39,3209.13 L723.82,3210.24 L727.27,3211.35 L730.75,3212.44 L734.25,3213.53 L737.78,3214.62 L741.33,3215.70 L744.90,3216.77 L748.50,3217.84 L752.12,3218.91 L755.77,3219.97 L759.44,3221.03 L763.14,3222.09 L766.86,3223.15 L770.61,3224.21 L774.38,3225.27 L778.18,3226.33 L782.00,3227.39 L785.85,3228.45 L789.73,3229.52 L793.63,3230.58 L797.56,3231.66 L801.51,3232.73 L805.50,3233.82 L809.51,3234.90 L813.54,3235.99 L817.61,3237.09 L821.70,3238.19 L825.82,3239.30 L829.97,3240.41 L834.14,3241.52 L838.34,3242.64 L842.58,3243.76 L846.84,3244.88 L851.13,3246.01 L855.45,3247.14 L859.80,3248.27 L864.17,3249.40 L868.58,3250.54 L873.02,3251.68 L877.49,3252.82 L881.99,3253.96 L886.51,3255.10 L891.07,3256.24 L895.66,3257.39 L900.29,3258.53 L904.94,3259.68 L909.62,3260.82 L914.34,3261.96 L919.09,3263.11 L923.87,3264.25 L928.68,3265.39 L933.53,3266.53 L938.41,3267.67 L943.32,3268.81 L948.26,3269.95 L953.24,3271.08 L958.26,3272.22 L963.30,3273.35 L968.38,3274.47 L973.50,3275.60 L978.65,3276.72 L983.83,3277.84 L989.05,3278.95 L994.31,3280.06 L999.60,3281.17 L1004.93,3282.27 L1010.29,3283.37 L1015.69,3284.47 L1021.13,3285.55 L1026.60,3286.64 L1032.11,3287.72 L1037.66,3288.79 L1043.25,3289.86 L1048.87,3290.92 L1054.53,3291.97 L1060.23,3293.02 L1065.97,3294.06 L1071.75,3295.10 L1077.57,3296.12 L1083.42,3297.14 L1089.32,3298.16 L1095.26,3299.16 L1101.23,3300.16 L1107.25,3301.15 L1113.31,3302.13 L1119.41,3303.10 L1125.55,3304.06 L1131.73,3305.01 L1137.96,3305.96 L1144.22,3306.90 L1150.53,3307.83 L1156.89,3308.75 L1163.28,3309.66 L1169.72,3310.57 L1176.20,3311.47 L1182.73,3312.36 L1189.30,3313.24 L1195.92,3314.11 L1202.58,3314.98 L1209.28,3315.84 L1216.03,3316.69 L1222.83,3317.53 L1229.67,3318.37 L1236.56,3319.20 L1243.50,3320.02 L1250.48,3320.83 L1257.51,3321.64 L1264.59,3322.44 L1271.72,3323.23 L1278.89,3324.01 L1286.12,3324.79 L1293.39,3325.56 L1300.71,3326.32 L1308.08,3327.08 L1315.50,3327.83 L1322.98,3328.57 L1330.50,3329.31 L1338.07,3330.04 L1345.70,3330.76 L1353.38,3331.48 L1361.11,3332.19 L1368.89,3332.89 L1376.72,3333.59 L1384.61,3334.28 L1392.55,3334.97 L1400.55,3335.64 L1408.60,3336.32 L1416.70,3336.98 L1424.86,3337.64 L1433.08,3338.30 L1441.35,3338.95 L1449.67,3339.59 L1458.06,3340.22 L1466.50,3340.86 L1475.00,3341.48 L1483.55,3342.10 L1492.16,3342.71 L1500.84,3343.32 L1509.57,3343.93 L1518.36,3344.52 L1527.21,3345.12 L1536.12,3345.70 L1545.09,3346.28 L1554.12,3346.86 L1563.21,3347.43 L1572.36,3348.00 L1581.58,3348.56 L1590.86,3349.12 L1600.20,3349.67 L1609.61,3350.21 L1619.08,3350.76 L1628.61,3351.29 L1638.21,3351.83 L1647.87,3352.35 L1657.60,3352.88 L1667.40,3353.40 L1677.26,3353.91 L1687.19,3354.42 L1697.18,3354.93 L1707.25,3355.43 L1717.38,3355.93 L1727.58,3356.42 L1737.85,3356.91 L1748.19,3357.39 L1758.60,3357.87 L1769.08,3358.35 L1779.63,3358.82 L1790.26,3359.29 L1800.95,3359.76 L1811.72,3360.22 L1822.56,3360.68 L1833.48,3361.13 L1844.47,3361.59 L1855.53,3362.03 L1866.67,3362.48 L1877.88,3362.92 L1889.18,3363.36 L1900.54,3363.79 L1911.99,3364.22 L1923.51,3364.65 L1935.11,3365.08 L1946.79,3365.50 L1958.55,3365.92 L1970.39,3366.34 L1982.31,3366.75 L1994.31,3367.16 L2006.39,3367.57 L2018.55,3367.97 L2030.80,3368.38 L2043.13,3368.78 L2055.54,3369.18 L2068.04,3369.57 L2080.62,3369.97 L2093.29,3370.36 L2106.04,3370.74 L2118.88,3371.13 L2131.81,3371.52 L2144.82,3371.90 L2157.92,3372.28 L2171.12,3372.66 L2184.40,3373.03 L2197.77,3373.41 L2211.23,3373.78 L2224.79,3374.15 L2238.43,3374.52 L2252.17,3374.89 L2266.00,3375.25 L2279.93,3375.62 L2293.95,3375.98 L2308.07,3376.34 L2322.28,3376.70 L2336.59,3377.06 L2350.99,3377.42 L2365.50,3377.78 L2380.10,3378.13 L2394.80,3378.49 L2409.60,3378.84 L2424.50,3379.19" stroke="#ff0000"/>
<path d="M235.00,2915.15 L235.14,2913.20 L235.27,2911.26 L235.41,2909.32 L235.55,2907.37 L235.68,2905.43 L235.82,2903.49 L235.96,2901.55 L236.11,2899.61 L236.25,2897.67 L236.39,2895.73 L236.54,2893.79 L236.68,2891.85 L236.83,2889.91 L236.98,2887.97 L237.12,2886.04 L237.27,2884.10 L237.42,2882.17 L237.58,2880.24 L237.73,2878.30 L237.88,2876.37 L238.04,2874.45 L238.19,2872.52 L238.35,2870.59 L238.51,2868.67 L238.67,2866.74 L238.82,2864.82 L238.99,2862.90 L239.15,2860.98 L239.31,2859.07 L239.48,2857.15 L239.64,2855.24 L239.81,2853.33 L239.97,2851.42 L240.14,2849.52 L240.31,2847.61 L240.48,2845.71 L240.66,2843.81 L240.83,2841.91 L241.00,2840.02 L241.18,2838.13 L241.36,2836.24 L241.53,2834.35 L241.71,2832.47 L241.89,2830.58 L242.08,2828.71 L242.26,2826.83 L242.44,2824.96 L242.63,2823.09 L242.81,2821.22 L243.00,2819.36 L243.19,2817.50 L243.38,2815.64 L243.57,2813.79 L243.77,2811.93 L243.96,2810.09 L244.16,2808.24 L244.35,2806.40 L244.55,2804.57 L244.75,2802.73 L244.95,2800.91 L245.15,2799.08 L245.36,2797.26 L245.56,2795.44 L245.77,2793.63 L245.98,2791.82 L246.19,2790.01 L246.40,2788.21 L246.61,2786.42 L246.82,2784.62 L247.04,2782.84 L247.25,2781.05 L247.47,2779.27 L247.69,2777.50 L247.91,2775.73 L248.13,2773.96 L248.36,2772.20 L248.58,2770.45 L248.81,2768.70 L249.04,2766.95 L249.27,2765.21 L249.50,2763.47 L249.73,2761.74 L249.97,2760.02 L250.20,2758.30 L250.44,2756.58 L250.68,2754.87 L250.92,2753.17 L251.16,2751.47 L251.41,2749.78 L251.65,2748.09 L251.90,2746.41 L252.15,2744.73 L252.40,2743.06 L252.65,2741.40 L252.91,2739.74 L253.16,2738.09 L253.42,2736.44 L253.68,2734.80 L253.94,2733.17 L254.21,2731.54 L254.47,2729.92 L254.74,2728.31 L255.00,2726.70 L255.27,2725.10 L255.55,2723.50 L255.82,2721.91 L256.10,2720.33 L256.37,2718.76 L256.65,2717.19 L256.93,2715.63 L257.22,2714.07 L257.50,2712.52 L257.79,2710.98 L258.08,2709.45 L258.37,2707.92 L258.66,2706.40 L258.96,2704.89 L259.25,2703.39 L259.55,2701.89 L259.85,2700.40 L260.16,2698.92 L260.46,2697.45 L260.77,2695.98 L261.08,2694.52 L261.39,2693.07 L261.70,2691.63 L262.02,2690.20 L262.34,2688.77 L262.66,2687.35 L262.98,2685.94 L263.30,2684.54 L263.63,2683.14 L263.96,2681.76 L264.29,2680.38 L264.62,2679.01 L264.95,2677.65 L265.29,2676.30 L265.63,2674.96 L265.97,2673.62 L266.32,2672.30 L266.66,2670.98 L267.01,2669.67 L267.36,2668.37 L267.72,2667.08 L268.07,2665.80 L268.43,2664.53 L268.79,2663.27 L269.16,2662.01 L269.52,2660.77 L269.89,2659.53 L270.26,2658.31 L270.63,2657.09 L271.01,2655.89 L271.39,2654.69 L271.77,2653.50 L272.15,2652.33 L272.54,2651.16 L272.93,2650.00 L273.32,2648.86 L273.71,2647.72 L274.11,2646.59 L274.51,2645.48 L274.91,2644.37 L275.31,2643.27 L275.72,2642.19 L276.13,2641.11 L276.54,2640.04 L276.96,2638.99 L277.38,2637.95 L277.80,2636.91 L278.22,2635.89 L278.65,2634.88 L279.08,2633.88 L279.51,2632.89 L279.95,2631.91 L280.39,2630.94 L280.83,2629.98 L281.27,2629.04 L281.72,2628.10 L282.17,2627.18 L282.63,2626.28 L283.08,2625.38 L283.54,2624.50 L284.01,2623.64 L284.47,2622.79 L284.94,2621.95 L285.41,2621.14 L285.89,2620.33 L286.37,2619.55 L286.85,2618.78 L287.33,2618.03 L287.82,2617.29 L288.32,2616.58 L288.81,2615.88 L289.31,2615.20 L289.81,2614.55 L290.32,2613.91 L290.82,2613.29 L291.34,2612.70 L291.85,2612.12 L292.37,2611.57 L292.89,2611.04 L293.42,2610.53 L293.95,2610.04 L294.48,2609.58 L295.02,2609.15 L295.56,2608.73 L296.10,2608.35 L296.65,2607.98 L297.20,2607.65 L297.76,2607.34 L298.32,2607.05 L298.88,2606.79 L299.45,2606.56 L300.02,2606.36 L300.59,2606.19 L301.17,2606.04 L301.75,2605.93 L302.34,2605.84 L302.93,2605.79 L303.52,2605.76 L304.12,2605.77 L304.72,2605.80 L305.33,2605.87 L305.94,2605.97 L306.55,2606.11 L307.17,2606.27 L307.79,2606.47 L308.42,2606.71 L309.05,2606.98 L309.68,2607.28 L310.32,2607.62 L310.97,2607.99 L311.61,2608.40 L312.27,2608.85 L312.92,2609.34 L313.58,2609.86 L314.25,2610.42 L314.92,2611.02 L315.60,2611.65 L316.28,2612.33 L316.96,2613.04 L317.65,2613.80 L318.34,2614.59 L319.04,2615.43 L319.74,2616.31 L320.45,2617.23 L321.16,2618.19 L321.88,2619.19 L322.60,2620.24 L323.33,2621.33 L324.06,2622.47 L324.79,2623.65 L325.54,2624.87 L326.28,2626.14 L327.03,2627.46 L327.79,2628.82 L328.55,2630.23 L329.32,2631.68 L330.09,2633.18 L330.87,2634.73 L331.65,2636.33 L332.44,2637.98 L333.23,2639.68 L334.03,2641.42 L334.83,2643.22 L335.64,2645.06 L336.46,2646.96 L337.28,2648.91 L338.10,2650.90 L338.94,2652.95 L339.77,2655.04 L340.62,2657.19 L341.46,2659.39 L342.32,2661.63 L343.18,2663.93 L344.04,2666.27 L344.91,2668.67 L345.79,2671.11 L346.68,2673.60 L347.56,2676.15 L348.46,2678.74 L349.36,2681.38 L350.27,2684.07 L351.18,2686.81 L352.10,2689.60 L353.03,2692.44 L353.96,2695.33 L354.90,2698.26 L355.84,2701.25 L356.79,2704.28 L357.75,2707.36 L358.72,2710.50 L359.69,2713.68 L360.66,2716.90 L361.65,2720.18 L362.64,2723.51 L363.64,2726.88 L364.64,2730.31 L365.65,2733.78 L366.67,2737.30 L367.69,2740.87 L368.72,2744.48 L369.76,2748.15 L370.81,2751.86 L371.86,2755.62 L372.92,2759.43 L373.98,2763.29 L375.06,2767.19 L376.14,2771.14 L377.23,2775.14 L378.32,2779.19 L379.43,2783.29 L380.54,2787.43 L381.65,2791.62 L382.78,2795.86 L383.91,2800.14 L385.05,2804.46 L386.20,2808.83 L387.36,2813.23 L388.52,2817.67 L389.69,2822.14 L390.87,2826.64 L392.06,2831.17 L393.26,2835.72 L394.46,2840.30 L395.67,2844.90 L396.89,2849.53 L398.12,2854.17 L399.36,2858.82 L400.60,2863.49 L401.86,2868.17 L403.12,2872.85 L404.39,2877.55 L405.67,2882.24 L406.96,2886.94 L408.25,2891.64 L409.56,2896.33 L410.87,2901.02 L412.19,2905.71 L413.53,2910.38 L414.87,2915.04 L416.22,2919.69 L417.57,2924.32 L418.94,2928.94 L420.32,2933.53 L421.71,2938.10 L423.10,2942.64 L424.51,2947.16 L425.92,2951.65 L427.35,2956.10 L428.78,2960.52 L430.23,2964.91 L431.68,2969.25 L433.14,2973.56 L434.62,2977.84 L436.10,2982.07 L437.59,2986.27 L439.09,2990.43 L440.61,2994.56 L442.13,2998.65 L443.67,3002.70 L445.21,3006.72 L446.76,3010.70 L448.33,3014.64 L449.91,3018.55 L451.49,3022.43 L453.09,3026.27 L454.70,3030.07 L456.32,3033.84 L457.95,3037.57 L459.59,3041.27 L461.24,3044.93 L462.90,3048.56 L464.58,3052.16 L466.26,3055.72 L467.96,3059.25 L469.67,3062.74 L471.39,3066.20 L473.12,3069.63 L474.86,3073.02 L476.62,3076.38 L478.38,3079.71 L480.16,3083.00 L481.95,3086.26 L483.75,3089.49 L485.57,3092.69 L487.40,3095.85 L489.24,3098.98 L491.09,3102.08 L492.95,3105.15 L494.83,3108.19 L496.72,3111.19 L498.62,3114.16 L500.54,3117.11 L502.47,3120.02 L504.41,3122.90 L506.36,3125.74 L508.33,3128.56 L510.31,3131.35 L512.31,3134.11 L514.31,3136.84 L516.33,3139.53 L518.37,3142.20 L520.42,3144.84 L522.48,3147.45 L524.56,3150.03 L526.65,3152.57 L528.75,3155.10 L530.87,3157.59 L533.01,3160.05 L535.15,3162.48 L537.31,3164.89 L539.49,3167.27 L541.68,3169.61 L543.89,3171.94 L546.11,3174.23 L548.35,3176.49 L550.60,3178.73 L552.86,3180.94 L555.15,3183.12 L557.44,3185.28 L559.76,3187.41 L562.08,3189.51 L564.43,3191.59 L566.79,3193.63 L569.16,3195.66 L571.56,3197.65 L573.96,3199.62 L576.39,3201.57 L578.83,3203.49 L581.29,3205.38 L583.76,3207.25 L586.25,3209.09 L588.76,3210.90 L591.28,3212.70 L593.82,3214.46 L596.38,3216.20 L598.96,3217.92 L601.55,3219.62 L604.16,3221.28 L606.79,3222.93 L609.43,3224.55 L612.10,3226.15 L614.78,3227.73 L617.48,3229.28 L620.20,3230.82 L622.93,3232.33 L625.69,3233.82 L628.46,3235.30 L631.25,3236.75 L634.07,3238.19 L636.90,3239.61 L639.75,3241.01 L642.61,3242.39 L645.50,3243.76 L648.41,3245.11 L651.34,3246.45 L654.28,3247.77 L657.25,3249.08 L660.24,3250.38 L663.24,3251.66 L666.27,3252.93 L669.32,3254.19 L672.39,3255.44 L675.47,3256.68 L678.58,3257.91 L681.72,3259.12 L684.87,3260.33 L688.04,3261.53 L691.24,3262.73 L694.45,3263.91 L697.69,3265.09 L700.95,3266.26 L704.23,3267.43 L707.54,3268.59 L710.86,3269.75 L714.21,3270.89 L717.58,3272.04 L720.98,3273.18 L724.39,3274.31 L727.83,3275.44 L731.30,3276.56 L734.78,3277.67 L738.29,3278.79 L741.83,3279.89 L745.39,3280.99 L748.97,3282.08 L752.57,3283.17 L756.20,3284.26 L759.86,3285.33 L763.54,3286.41 L767.24,3287.47 L770.97,3288.54 L774.73,3289.59 L778.51,3290.64 L782.31,3291.69 L786.14,3292.73 L790.00,3293.77 L793.88,3294.80 L797.79,3295.82 L801.73,3296.84 L805.69,3297.86 L809.68,3298.87 L813.70,3299.88 L817.74,3300.88 L821.81,3301.87 L825.91,3302.86 L830.04,3303.85 L834.19,3304.83 L838.37,3305.81 L842.58,3306.78 L846.82,3307.74 L851.09,3308.70 L855.38,3309.66 L859.71,3310.61 L864.06,3311.56 L868.44,3312.50 L872.86,3313.44 L877.30,3314.37 L881.77,3315.30 L886.28,3316.23 L890.81,3317.15 L895.37,3318.06 L899.97,3318.97 L904.59,3319.88 L909.25,3320.78 L913.94,3321.68 L918.66,3322.57 L923.41,3323.46 L928.20,3324.34 L933.01,3325.22 L937.86,3326.10 L942.74,3326.97 L947.66,3327.84 L952.61,3328.70 L957.59,3329.56 L962.60,3330.41 L967.65,3331.26 L972.73,3332.11 L977.85,3332.95 L983.00,3333.79 L988.19,3334.62 L993.41,3335.45 L998.67,3336.28 L1003.96,3337.10 L1009.29,3337.91 L1014.65,3338.73 L1020.05,3339.53 L1025.49,3340.34 L1030.97,3341.14 L1036.48,3341.93 L1042.02,3342.72 L1047.61,3343.51 L1053.23,3344.29 L1058.89,3345.07 L1064.59,3345.84 L1070.33,3346.61 L1076.11,3347.38 L1081.92,3348.14 L1087.78,3348.89 L1093.67,3349.65 L1099.60,3350.39 L1105.58,3351.14 L1111.59,3351.88 L1117.65,3352.61 L1123.74,3353.34 L1129.88,3354.07 L1136.06,3354.79 L1142.28,3355.51 L1148.54,3356.22 L1154.85,3356.93 L1161.19,3357.63 L1167.58,3358.33 L1174.02,3359.02 L1180.49,3359.72 L1187.01,3360.40 L1193.58,3361.08 L1200.19,3361.76 L1206.84,3362.43 L1213.54,3363.10 L1220.28,3363.77 L1227.07,3364.42 L1233.91,3365.08 L1240.79,3365.73 L1247.72,3366.38 L1254.69,3367.02 L1261.71,3367.65 L1268.78,3368.29 L1275.90,3368.91 L1283.06,3369.54 L1290.28,3370.16 L1297.54,3370.77 L1304.85,3371.38 L1312.21,3371.99 L1319.62,3372.59 L1327.08,3373.18 L1334.59,3373.77 L1342.15,3374.36 L1349.76,3374.94 L1357.43,3375.52 L1365.14,3376.09 L1372.91,3376.66 L1380.73,3377.22 L1388.60,3377.78 L1396.53,3378.34 L1404.51,3378.89 L1412.54,3379.43 L1420.63,3379.97 L1428.77,3380.51 L1436.97,3381.04 L1445.22,3381.57 L1453.53,3382.09 L1461.89,3382.61 L1470.31,3383.12 L1478.79,3383.63 L1487.32,3384.13 L1495.92,3384.63 L1504.57,3385.12 L1513.28,3385.61 L1522.04,3386.10 L1530.87,3386.58 L1539.76,3387.05 L1548.70,3387.52 L1557.71,3387.99 L1566.78,3388.45 L1575.91,3388.90 L1585.10,3389.35 L1594.35,3389.80 L1603.67,3390.24 L1613.05,3390.68 L1622.49,3391.11 L1631.99,3391.54 L1641.56,3391.96 L1651.20,3392.38 L1660.90,3392.79 L1670.66,3393.20 L1680.49,3393.60 L1690.39,3394.00 L1700.35,3394.39 L1710.38,3394.78 L1720.48,3395.17 L1730.65,3395.54 L1740.89,3395.92 L1751.19,3396.29 L1761.57,3396.65 L1772.01,3397.01 L1782.53,3397.36 L1793.11,3397.71 L1803.77,3398.06 L1814.50,3398.40 L1825.30,3398.73 L1836.18,3399.06 L1847.12,3399.39 L1858.15,3399.71 L1869.24,3400.02 L1880.42,3400.33 L1891.66,3400.64 L1902.99,3400.94 L1914.39,3401.23 L1925.86,3401.52 L1937.42,3401.81 L1949.05,3402.09 L1960.76,3402.36 L1972.55,3402.63 L1984.42,3402.90 L1996.37,3403.16 L2008.40,3403.41 L2020.51,3403.66 L2032.70,3403.90 L2044.98,3404.14 L2057.34,3404.38 L2069.78,3404.61 L2082.31,3404.83 L2094.92,3405.05 L2107.61,3405.27 L2120.40,3405.48 L2133.26,3405.68 L2146.22,3405.88 L2159.26,3406.07 L2172.39,3406.26 L2185.61,3406.45 L2198.92,3406.62 L2212.32,3406.80 L2225.81,3406.97 L2239.39,3407.13 L2253.06,3407.29 L2266.82,3407.44 L2280.68,3407.59 L2294.63,3407.73 L2308.67,3407.87 L2322.81,3408.00 L2337.05,3408.13 L2351.38,3408.25 L2365.81,3408.37 L2380.33,3408.48 L2394.96,3408.58 L2409.68,3408.68 L2424.50,3408.78" stroke="#000000"/>
<path d="M235.30,2918.83 L235.44,2916.83 L235.57,2914.83 L235.71,2912.84 L235.85,2910.85 L235.99,2908.86 L236.13,2906.88 L236.28,2904.89 L236.42,2902.92 L236.56,2900.94 L236.71,2898.97 L236.85,2897.00 L237.00,2895.04 L237.15,2893.08 L237.30,2891.12 L237.45,2889.17 L237.60,2887.22 L237.75,2885.27 L237.91,2883.33 L238.06,2881.39 L238.22,2879.45 L238.37,2877.52 L238.53,2875.59 L238.69,2873.67 L238.85,2871.74 L239.01,2869.82 L239.17,2867.91 L239.33,2866.00 L239.50,2864.09 L239.66,2862.18 L239.83,2860.28 L239.99,2858.39 L240.16,2856.49 L240.33,2854.60 L240.50,2852.71 L240.67,2850.83 L240.85,2848.95 L241.02,2847.07 L241.20,2845.20 L241.37,2843.33 L241.55,2841.47 L241.73,2839.60 L241.91,2837.74 L242.09,2835.89 L242.27,2834.04 L242.45,2832.19 L242.64,2830.34 L242.83,2828.50 L243.01,2826.67 L243.20,2824.83 L243.39,2823.00 L243.58,2821.17 L243.78,2819.35 L243.97,2817.53 L244.16,2815.72 L244.36,2813.90 L244.56,2812.09 L244.76,2810.29 L244.96,2808.49 L245.16,2806.69 L245.36,2804.90 L245.57,2803.10 L245.77,2801.32 L245.98,2799.53 L246.19,2797.75 L246.40,2795.98 L246.61,2794.20 L246.82,2792.44 L247.04,2790.67 L247.25,2788.91 L247.47,2787.15 L247.69,2785.39 L247.91,2783.64 L248.13,2781.90 L248.35,2780.15 L248.58,2778.41 L248.80,2776.68 L249.03,2774.94 L249.26,2773.21 L249.49,2771.49 L249.72,2769.77 L249.96,2768.05 L250.19,2766.34 L250.43,2764.62 L250.67,2762.92 L250.91,2761.21 L251.15,2759.51 L251.39,2757.82 L251.64,2756.13 L251.88,2754.44 L252.13,2752.75 L252.38,2751.07 L252.63,2749.39 L252.89,2747.72 L253.14,2746.05 L253.40,2744.38 L253.66,2742.72 L253.92,2741.06 L254.18,2739.41 L254.44,2737.75 L254.71,2736.11 L254.98,2734.46 L255.24,2732.82 L255.52,2731.19 L255.79,2729.55 L256.06,2727.92 L256.34,2726.30 L256.62,2724.68 L256.90,2723.06 L257.18,2721.44 L257.46,2719.83 L257.75,2718.23 L258.04,2716.63 L258.33,2715.03 L258.62,2713.43 L258.91,2711.84 L259.21,2710.25 L259.51,2708.67 L259.81,2707.09 L260.11,2705.51 L260.41,2703.94 L260.72,2702.37 L261.02,2700.80 L261.33,2699.24 L261.65,2697.69 L261.96,2696.13 L262.28,2694.58 L262.59,2693.04 L262.92,2691.49 L263.24,2689.96 L263.56,2688.42 L263.89,2686.89 L264.22,2685.36 L264.55,2683.84 L264.88,2682.32 L265.22,2680.80 L265.56,2679.29 L265.90,2677.79 L266.24,2676.28 L266.59,2674.78 L266.93,2673.29 L267.28,2671.79 L267.63,2670.30 L267.99,2668.82 L268.35,2667.34 L268.70,2665.86 L269.07,2664.39 L269.43,2662.92 L269.80,2661.45 L270.16,2659.99 L270.54,2658.53 L270.91,2657.08 L271.29,2655.63 L271.67,2654.19 L272.05,2652.74 L272.43,2651.31 L272.82,2649.87 L273.21,2648.44 L273.60,2647.01 L273.99,2645.59 L274.39,2644.17 L274.79,2642.76 L275.19,2641.35 L275.60,2639.94 L276.01,2638.54 L276.42,2637.14 L276.83,2635.74 L277.25,2634.35 L277.67,2632.96 L278.09,2631.58 L278.51,2630.20 L278.94,2628.83 L279.37,2627.46 L279.80,2626.09 L280.24,2624.72 L280.68,2623.37 L281.12,2622.01 L281.57,2620.67 L282.01,2619.33 L282.47,2618.00 L282.92,2616.68 L283.38,2615.37 L283.84,2614.06 L284.30,2612.77 L284.77,2611.49 L285.24,2610.22 L285.71,2608.97 L286.19,2607.73 L286.66,2606.50 L287.15,2605.29 L287.63,2604.09 L288.12,2602.91 L288.61,2601.75 L289.11,2600.60 L289.61,2599.48 L290.11,2598.37 L290.62,2597.28 L291.13,2596.21 L291.64,2595.17 L292.15,2594.15 L292.67,2593.14 L293.20,2592.17 L293.72,2591.21 L294.25,2590.28 L294.79,2589.38 L295.32,2588.50 L295.86,2587.65 L296.41,2586.83 L296.96,2586.04 L297.51,2585.27 L298.06,2584.54 L298.62,2583.83 L299.19,2583.16 L299.75,2582.52 L300.32,2581.91 L300.90,2581.33 L301.48,2580.79 L302.06,2580.28 L302.64,2579.81 L303.23,2579.37 L303.83,2578.97 L304.43,2578.61 L305.03,2578.28 L305.63,2578.00 L306.24,2577.75 L306.86,2577.55 L307.48,2577.38 L308.10,2577.26 L308.73,2577.18 L309.36,2577.14 L309.99,2577.15 L310.63,2577.20 L311.28,2577.30 L311.92,2577.44 L312.58,2577.63 L313.23,2577.86 L313.89,2578.15 L314.56,2578.48 L315.23,2578.86 L315.90,2579.29 L316.58,2579.78 L317.27,2580.31 L317.96,2580.90 L318.65,2581.54 L319.35,2582.23 L320.05,2582.98 L320.76,2583.78 L321.47,2584.64 L322.19,2585.55 L322.91,2586.52 L323.63,2587.55 L324.37,2588.64 L325.10,2589.79 L325.84,2591.00 L326.59,2592.26 L327.34,2593.59 L328.10,2594.98 L328.86,2596.44 L329.62,2597.95 L330.40,2599.53 L331.17,2601.18 L331.95,2602.89 L332.74,2604.67 L333.53,2606.52 L334.33,2608.43 L335.14,2610.41 L335.94,2612.46 L336.76,2614.58 L337.58,2616.77 L338.40,2619.03 L339.23,2621.36 L340.07,2623.77 L340.91,2626.24 L341.76,2628.79 L342.61,2631.41 L343.47,2634.10 L344.34,2636.86 L345.21,2639.70 L346.09,2642.60 L346.97,2645.57 L347.86,2648.61 L348.75,2651.72 L349.65,2654.90 L350.56,2658.15 L351.47,2661.47 L352.39,2664.86 L353.31,2668.31 L354.24,2671.83 L355.18,2675.42 L356.13,2679.08 L357.08,2682.80 L358.03,2686.59 L358.99,2690.45 L359.96,2694.37 L360.94,2698.36 L361.92,2702.41 L362.91,2706.53 L363.91,2710.72 L364.91,2714.97 L365.92,2719.28 L366.94,2723.66 L367.96,2728.10 L368.99,2732.61 L370.02,2737.18 L371.07,2741.81 L372.12,2746.50 L373.18,2751.26 L374.24,2756.08 L375.31,2760.97 L376.39,2765.91 L377.48,2770.92 L378.57,2775.99 L379.67,2781.12 L380.78,2786.31 L381.90,2791.56 L383.02,2796.87 L384.15,2802.24 L385.29,2807.66 L386.44,2813.14 L387.59,2818.66 L388.75,2824.23 L389.92,2829.84 L391.10,2835.49 L392.29,2841.17 L393.48,2846.88 L394.68,2852.61 L395.89,2858.37 L397.11,2864.14 L398.34,2869.93 L399.57,2875.72 L400.81,2881.53 L402.06,2887.34 L403.32,2893.14 L404.59,2898.94 L405.87,2904.73 L407.15,2910.51 L408.45,2916.28 L409.75,2922.02 L411.06,2927.74 L412.38,2933.44 L413.71,2939.10 L415.04,2944.73 L416.39,2950.31 L417.75,2955.86 L419.11,2961.36 L420.49,2966.81 L421.87,2972.21 L423.26,2977.55 L424.66,2982.84 L426.08,2988.09 L427.50,2993.28 L428.93,2998.42 L430.37,3003.50 L431.82,3008.54 L433.28,3013.53 L434.75,3018.47 L436.23,3023.35 L437.71,3028.19 L439.21,3032.98 L440.72,3037.72 L442.24,3042.41 L443.77,3047.05 L445.31,3051.65 L446.86,3056.19 L448.42,3060.69 L450.00,3065.14 L451.58,3069.55 L453.17,3073.90 L454.77,3078.21 L456.39,3082.48 L458.01,3086.69 L459.65,3090.86 L461.30,3094.99 L462.95,3099.07 L464.62,3103.10 L466.30,3107.09 L468.00,3111.04 L469.70,3114.94 L471.41,3118.80 L473.14,3122.61 L474.88,3126.38 L476.63,3130.10 L478.39,3133.79 L480.16,3137.43 L481.95,3141.02 L483.74,3144.58 L485.55,3148.09 L487.37,3151.56 L489.21,3154.99 L491.05,3158.38 L492.91,3161.72 L494.78,3165.03 L496.67,3168.30 L498.56,3171.52 L500.47,3174.71 L502.39,3177.85 L504.33,3180.96 L506.28,3184.02 L508.24,3187.05 L510.21,3190.04 L512.20,3192.99 L514.20,3195.90 L516.21,3198.78 L518.24,3201.61 L520.28,3204.41 L522.34,3207.17 L524.41,3209.90 L526.49,3212.59 L528.59,3215.24 L530.70,3217.85 L532.82,3220.43 L534.96,3222.98 L537.12,3225.48 L539.28,3227.96 L541.47,3230.40 L543.67,3232.80 L545.88,3235.17 L548.11,3237.50 L550.35,3239.81 L552.61,3242.07 L554.88,3244.31 L557.17,3246.51 L559.47,3248.68 L561.79,3250.81 L564.12,3252.92 L566.47,3254.99 L568.84,3257.03 L571.22,3259.04 L573.62,3261.01 L576.03,3262.96 L578.46,3264.88 L580.91,3266.76 L583.37,3268.61 L585.85,3270.44 L588.35,3272.23 L590.86,3274.00 L593.39,3275.73 L595.94,3277.44 L598.51,3279.12 L601.09,3280.77 L603.69,3282.39 L606.30,3283.99 L608.94,3285.55 L611.59,3287.09 L614.26,3288.60 L616.95,3290.09 L619.65,3291.54 L622.38,3292.98 L625.12,3294.38 L627.88,3295.76 L630.66,3297.12 L633.46,3298.45 L636.28,3299.75 L639.11,3301.04 L641.97,3302.30 L644.84,3303.54 L647.74,3304.75 L650.65,3305.95 L653.58,3307.12 L656.53,3308.28 L659.51,3309.41 L662.50,3310.52 L665.51,3311.62 L668.54,3312.70 L671.60,3313.76 L674.67,3314.80 L677.77,3315.83 L680.88,3316.84 L684.02,3317.83 L687.17,3318.81 L690.35,3319.77 L693.55,3320.72 L696.78,3321.65 L700.02,3322.58 L703.28,3323.49 L706.57,3324.38 L709.88,3325.27 L713.21,3326.14 L716.57,3327.01 L719.94,3327.86 L723.34,3328.70 L726.76,3329.54 L730.21,3330.36 L733.68,3331.18 L737.17,3331.99 L740.68,3332.79 L744.22,3333.59 L747.79,3334.38 L751.37,3335.16 L754.98,3335.94 L758.62,3336.71 L762.28,3337.48 L765.96,3338.25 L769.67,3339.01 L773.41,3339.77 L777.16,3340.53 L780.95,3341.29 L784.76,3342.04 L788.59,3342.80 L792.46,3343.55 L796.34,3344.31 L800.26,3345.07 L804.20,3345.82 L808.16,3346.58 L812.16,3347.34 L816.18,3348.11 L820.22,3348.87 L824.30,3349.63 L828.40,3350.40 L832.53,3351.17 L836.69,3351.93 L840.87,3352.70 L845.09,3353.47 L849.33,3354.24 L853.60,3355.01 L857.90,3355.78 L862.22,3356.55 L866.58,3357.32 L870.97,3358.08 L875.38,3358.85 L879.83,3359.62 L884.31,3360.39 L888.81,3361.15 L893.35,3361.92 L897.91,3362.68 L902.51,3363.44 L907.14,3364.20 L911.80,3364.96 L916.49,3365.71 L921.21,3366.47 L925.97,3367.22 L930.75,3367.97 L935.57,3368.72 L940.42,3369.46 L945.31,3370.21 L950.22,3370.95 L955.17,3371.68 L960.15,3372.42 L965.17,3373.15 L970.22,3373.87 L975.31,3374.60 L980.42,3375.32 L985.58,3376.03 L990.76,3376.74 L995.99,3377.45 L1001.24,3378.16 L1006.54,3378.85 L1011.87,3379.55 L1017.23,3380.24 L1022.63,3380.92 L1028.07,3381.60 L1033.54,3382.28 L1039.05,3382.95 L1044.60,3383.61 L1050.18,3384.27 L1055.81,3384.92 L1061.47,3385.57 L1067.17,3386.21 L1072.90,3386.85 L1078.68,3387.48 L1084.49,3388.10 L1090.35,3388.72 L1096.24,3389.33 L1102.17,3389.93 L1108.14,3390.52 L1114.16,3391.11 L1120.21,3391.69 L1126.30,3392.27 L1132.44,3392.83 L1138.61,3393.39 L1144.83,3393.95 L1151.09,3394.50 L1157.39,3395.03 L1163.74,3395.57 L1170.12,3396.09 L1176.55,3396.61 L1183.03,3397.13 L1189.54,3397.63 L1196.10,3398.13 L1202.71,3398.63 L1209.36,3399.12 L1216.05,3399.60 L1222.79,3400.07 L1229.58,3400.54 L1236.41,3401.00 L1243.28,3401.46 L1250.20,3401.91 L1257.17,3402.35 L1264.19,3402.79 L1271.25,3403.22 L1278.36,3403.65 L1285.52,3404.07 L1292.73,3404.48 L1299.98,3404.89 L1307.29,3405.30 L1314.64,3405.69 L1322.04,3406.09 L1329.50,3406.47 L1337.00,3406.85 L1344.55,3407.23 L1352.16,3407.60 L1359.81,3407.96 L1367.52,3408.32 L1375.28,3408.68 L1383.09,3409.03 L1390.95,3409.37 L1398.87,3409.71 L1406.84,3410.05 L1414.86,3410.38 L1422.94,3410.70 L1431.07,3411.02 L1439.26,3411.33 L1447.50,3411.64 L1455.80,3411.95 L1464.15,3412.25 L1472.56,3412.55 L1481.03,3412.84 L1489.55,3413.12 L1498.13,3413.41 L1506.77,3413.69 L1515.46,3413.96 L1524.22,3414.23 L1533.03,3414.49 L1541.90,3414.75 L1550.84,3415.01 L1559.83,3415.26 L1568.88,3415.51 L1578.00,3415.76 L1587.17,3416.00 L1596.41,3416.24 L1605.71,3416.47 L1615.07,3416.70 L1624.50,3416.92 L1633.99,3417.15 L1643.54,3417.36 L1653.16,3417.58 L1662.84,3417.79 L1672.58,3418.00 L1682.40,3418.20 L1692.28,3418.40 L1702.22,3418.60 L1712.23,3418.80 L1722.31,3418.99 L1732.46,3419.17 L1742.67,3419.36 L1752.96,3419.54 L1763.31,3419.72 L1773.74,3419.89 L1784.23,3420.07 L1794.79,3420.24 L1805.43,3420.40 L1816.14,3420.57 L1826.91,3420.73 L1837.77,3420.89 L1848.69,3421.05 L1859.69,3421.20 L1870.76,3421.35 L1881.91,3421.50 L1893.13,3421.65 L1904.43,3421.79 L1915.80,3421.93 L1927.25,3422.07 L1938.78,3422.21 L1950.38,3422.34 L1962.06,3422.48 L1973.82,3422.61 L1985.66,3422.74 L1997.58,3422.86 L2009.58,3422.99 L2021.67,3423.11 L2033.83,3423.23 L2046.07,3423.35 L2058.40,3423.47 L2070.81,3423.59 L2083.30,3423.70 L2095.88,3423.82 L2108.54,3423.93 L2121.29,3424.04 L2134.12,3424.15 L2147.04,3424.25 L2160.05,3424.36 L2173.14,3424.47 L2186.32,3424.57 L2199.60,3424.67 L2212.96,3424.77 L2226.41,3424.87 L2239.95,3424.97 L2253.58,3425.07 L2267.30,3425.17 L2281.12,3425.27 L2295.03,3425.36 L2309.03,3425.46 L2323.13,3425.55 L2337.32,3425.65 L2351.61,3425.74 L2365.99,3425.83 L2380.47,3425.93 L2395.05,3426.02 L2409.73,3426.11 L2424.50,3426.20" stroke="#0000ff"/>
<path d="M235.70,2918.42 L235.84,2916.74 L235.98,2915.06 L236.12,2913.37 L236.26,2911.69 L236.40,2910.00 L236.55,2908.31 L236.69,2906.62 L236.84,2904.92 L236.98,2903.22 L237.13,2901.52 L237.28,2899.82 L237.43,2898.12 L237.58,2896.41 L237.73,2894.70 L237.88,2892.99 L238.04,2891.28 L238.19,2889.56 L238.35,2887.85 L238.50,2886.13 L238.66,2884.41 L238.82,2882.68 L238.98,2880.96 L239.14,2879.23 L239.30,2877.51 L239.46,2875.78 L239.63,2874.05 L239.79,2872.31 L239.96,2870.58 L240.13,2868.84 L240.29,2867.11 L240.46,2865.37 L240.63,2863.63 L240.81,2861.88 L240.98,2860.14 L241.15,2858.40 L241.33,2856.65 L241.51,2854.90 L241.68,2853.15 L241.86,2851.41 L242.04,2849.65 L242.22,2847.90 L242.41,2846.15 L242.59,2844.39 L242.77,2842.64 L242.96,2840.88 L243.15,2839.12 L243.34,2837.37 L243.53,2835.61 L243.72,2833.85 L243.91,2832.09 L244.10,2830.32 L244.30,2828.56 L244.50,2826.80 L244.69,2825.03 L244.89,2823.27 L245.09,2821.50 L245.29,2819.74 L245.50,2817.97 L245.70,2816.20 L245.91,2814.43 L246.12,2812.67 L246.32,2810.90 L246.53,2809.13 L246.75,2807.36 L246.96,2805.59 L247.17,2803.82 L247.39,2802.05 L247.61,2800.28 L247.82,2798.51 L248.04,2796.74 L248.27,2794.97 L248.49,2793.20 L248.71,2791.42 L248.94,2789.65 L249.17,2787.88 L249.40,2786.11 L249.63,2784.34 L249.86,2782.57 L250.09,2780.80 L250.33,2779.03 L250.56,2777.26 L250.80,2775.49 L251.04,2773.72 L251.28,2771.95 L251.53,2770.18 L251.77,2768.41 L252.02,2766.64 L252.27,2764.87 L252.52,2763.11 L252.77,2761.34 L253.02,2759.57 L253.28,2757.81 L253.53,2756.04 L253.79,2754.28 L254.05,2752.51 L254.31,2750.75 L254.58,2748.99 L254.84,2747.23 L255.11,2745.47 L255.38,2743.71 L255.65,2741.95 L255.92,2740.19 L256.20,2738.43 L256.47,2736.68 L256.75,2734.92 L257.03,2733.17 L257.31,2731.42 L257.60,2729.67 L257.88,2727.92 L258.17,2726.17 L258.46,2724.42 L258.75,2722.67 L259.04,2720.93 L259.34,2719.18 L259.63,2717.44 L259.93,2715.70 L260.24,2713.96 L260.54,2712.22 L260.84,2710.49 L261.15,2708.75 L261.46,2707.02 L261.77,2705.29 L262.09,2703.56 L262.40,2701.83 L262.72,2700.10 L263.04,2698.38 L263.36,2696.66 L263.68,2694.94 L264.01,2693.22 L264.34,2691.50 L264.67,2689.78 L265.00,2688.07 L265.34,2686.36 L265.68,2684.65 L266.02,2682.94 L266.36,2681.24 L266.70,2679.54 L267.05,2677.84 L267.40,2676.14 L267.75,2674.44 L268.10,2672.75 L268.46,2671.06 L268.82,2669.37 L269.18,2667.68 L269.54,2666.00 L269.91,2664.31 L270.27,2662.64 L270.65,2660.96 L271.02,2659.28 L271.39,2657.61 L271.77,2655.94 L272.15,2654.28 L272.54,2652.61 L272.92,2650.95 L273.31,2649.30 L273.70,2647.64 L274.09,2645.99 L274.49,2644.34 L274.89,2642.69 L275.29,2641.05 L275.69,2639.41 L276.10,2637.77 L276.51,2636.14 L276.92,2634.51 L277.34,2632.88 L277.76,2631.25 L278.18,2629.63 L278.60,2628.01 L279.03,2626.40 L279.46,2624.79 L279.89,2623.18 L280.32,2621.57 L280.76,2619.97 L281.20,2618.38 L281.65,2616.79 L282.09,2615.20 L282.54,2613.63 L283.00,2612.06 L283.45,2610.51 L283.91,2608.96 L284.37,2607.42 L284.84,2605.90 L285.31,2604.38 L285.78,2602.88 L286.25,2601.40 L286.73,2599.92 L287.21,2598.47 L287.69,2597.03 L288.18,2595.60 L288.67,2594.20 L289.17,2592.81 L289.66,2591.44 L290.16,2590.09 L290.67,2588.77 L291.17,2587.46 L291.69,2586.18 L292.20,2584.92 L292.72,2583.68 L293.24,2582.47 L293.76,2581.28 L294.29,2580.12 L294.82,2578.98 L295.36,2577.88 L295.90,2576.80 L296.44,2575.75 L296.98,2574.73 L297.53,2573.75 L298.09,2572.79 L298.64,2571.87 L299.21,2570.98 L299.77,2570.12 L300.34,2569.30 L300.91,2568.51 L301.49,2567.76 L302.07,2567.05 L302.65,2566.37 L303.24,2565.74 L303.83,2565.14 L304.42,2564.58 L305.02,2564.06 L305.63,2563.59 L306.23,2563.16 L306.85,2562.77 L307.46,2562.42 L308.08,2562.12 L308.71,2561.87 L309.33,2561.66 L309.97,2561.50 L310.60,2561.38 L311.24,2561.32 L311.89,2561.30 L312.54,2561.34 L313.19,2561.42 L313.85,2561.56 L314.51,2561.75 L315.18,2561.99 L315.85,2562.29 L316.53,2562.64 L317.21,2563.05 L317.89,2563.51 L318.58,2564.03 L319.28,2564.61 L319.98,2565.25 L320.68,2565.94 L321.39,2566.70 L322.10,2567.52 L322.82,2568.40 L323.54,2569.34 L324.27,2570.35 L325.00,2571.42 L325.74,2572.55 L326.48,2573.75 L327.23,2575.02 L327.98,2576.35 L328.74,2577.76 L329.50,2579.23 L330.27,2580.77 L331.04,2582.38 L331.82,2584.06 L332.60,2585.81 L333.39,2587.64 L334.19,2589.54 L334.99,2591.51 L335.79,2593.56 L336.60,2595.69 L337.42,2597.89 L338.24,2600.16 L339.06,2602.51 L339.89,2604.94 L340.73,2607.44 L341.57,2610.02 L342.42,2612.68 L343.28,2615.40 L344.14,2618.21 L345.00,2621.09 L345.87,2624.04 L346.75,2627.07 L347.63,2630.17 L348.52,2633.35 L349.42,2636.61 L350.32,2639.93 L351.23,2643.34 L352.14,2646.81 L353.06,2650.36 L353.99,2653.99 L354.92,2657.69 L355.86,2661.46 L356.80,2665.31 L357.75,2669.24 L358.71,2673.23 L359.67,2677.30 L360.64,2681.45 L361.62,2685.66 L362.60,2689.95 L363.59,2694.32 L364.59,2698.76 L365.59,2703.27 L366.60,2707.86 L367.61,2712.51 L368.64,2717.25 L369.67,2722.05 L370.70,2726.93 L371.75,2731.88 L372.80,2736.90 L373.86,2742.00 L374.92,2747.17 L375.99,2752.41 L377.07,2757.72 L378.16,2763.09 L379.25,2768.52 L380.35,2774.02 L381.46,2779.57 L382.58,2785.18 L383.70,2790.84 L384.83,2796.55 L385.97,2802.31 L387.12,2808.11 L388.27,2813.96 L389.43,2819.84 L390.60,2825.76 L391.78,2831.72 L392.96,2837.71 L394.16,2843.73 L395.36,2849.77 L396.57,2855.84 L397.79,2861.94 L399.01,2868.05 L400.24,2874.18 L401.49,2880.32 L402.74,2886.47 L403.99,2892.64 L405.26,2898.81 L406.54,2904.99 L407.82,2911.17 L409.11,2917.35 L410.42,2923.54 L411.73,2929.72 L413.04,2935.90 L414.37,2942.07 L415.71,2948.23 L417.05,2954.39 L418.41,2960.53 L419.77,2966.67 L421.14,2972.78 L422.53,2978.88 L423.92,2984.96 L425.32,2991.02 L426.73,2997.06 L428.15,3003.07 L429.58,3009.05 L431.02,3015.01 L432.46,3020.93 L433.92,3026.83 L435.39,3032.69 L436.87,3038.51 L438.35,3044.29 L439.85,3050.04 L441.36,3055.74 L442.88,3061.40 L444.40,3067.02 L445.94,3072.58 L447.49,3078.10 L449.05,3083.56 L450.62,3088.97 L452.20,3094.33 L453.79,3099.63 L455.39,3104.87 L457.00,3110.05 L458.62,3115.16 L460.26,3120.22 L461.90,3125.20 L463.55,3130.12 L465.22,3134.96 L466.90,3139.73 L468.59,3144.43 L470.29,3149.06 L472.00,3153.60 L473.72,3158.06 L475.46,3162.44 L477.20,3166.74 L478.96,3170.95 L480.73,3175.08 L482.51,3179.11 L484.30,3183.06 L486.11,3186.92 L487.93,3190.70 L489.76,3194.40 L491.60,3198.01 L493.45,3201.54 L495.32,3204.99 L497.20,3208.37 L499.09,3211.67 L500.99,3214.90 L502.91,3218.05 L504.84,3221.13 L506.79,3224.14 L508.74,3227.09 L510.71,3229.96 L512.69,3232.77 L514.69,3235.52 L516.70,3238.21 L518.72,3240.83 L520.76,3243.39 L522.81,3245.90 L524.87,3248.35 L526.95,3250.74 L529.04,3253.08 L531.14,3255.36 L533.26,3257.60 L535.40,3259.79 L537.54,3261.93 L539.71,3264.02 L541.88,3266.07 L544.08,3268.07 L546.28,3270.03 L548.50,3271.95 L550.74,3273.83 L552.99,3275.68 L555.25,3277.49 L557.54,3279.26 L559.83,3281.00 L562.14,3282.71 L564.47,3284.39 L566.81,3286.04 L569.17,3287.66 L571.55,3289.25 L573.94,3290.83 L576.34,3292.38 L578.77,3293.90 L581.20,3295.41 L583.66,3296.90 L586.13,3298.37 L588.62,3299.82 L591.12,3301.27 L593.64,3302.69 L596.18,3304.10 L598.74,3305.50 L601.31,3306.89 L603.90,3308.26 L606.51,3309.61 L609.13,3310.95 L611.77,3312.28 L614.43,3313.59 L617.11,3314.89 L619.81,3316.18 L622.52,3317.46 L625.25,3318.72 L628.00,3319.96 L630.77,3321.20 L633.56,3322.42 L636.37,3323.63 L639.19,3324.82 L642.03,3326.01 L644.90,3327.18 L647.78,3328.34 L650.68,3329.49 L653.60,3330.62 L656.54,3331.74 L659.50,3332.85 L662.48,3333.95 L665.48,3335.04 L668.50,3336.12 L671.54,3337.18 L674.60,3338.23 L677.68,3339.28 L680.79,3340.31 L683.91,3341.33 L687.05,3342.34 L690.22,3343.34 L693.40,3344.32 L696.61,3345.30 L699.84,3346.27 L703.09,3347.23 L706.36,3348.17 L709.65,3349.11 L712.97,3350.03 L716.31,3350.95 L719.67,3351.86 L723.05,3352.76 L726.46,3353.64 L729.89,3354.52 L733.34,3355.39 L736.81,3356.25 L740.31,3357.10 L743.83,3357.94 L747.38,3358.78 L750.95,3359.60 L754.54,3360.42 L758.16,3361.23 L761.80,3362.03 L765.47,3362.82 L769.16,3363.60 L772.87,3364.37 L776.61,3365.14 L780.38,3365.90 L784.17,3366.65 L787.98,3367.39 L791.82,3368.13 L795.69,3368.86 L799.58,3369.58 L803.50,3370.30 L807.45,3371.00 L811.42,3371.70 L815.42,3372.40 L819.44,3373.08 L823.49,3373.76 L827.57,3374.44 L831.68,3375.11 L835.81,3375.77 L839.98,3376.42 L844.17,3377.07 L848.38,3377.71 L852.63,3378.35 L856.90,3378.98 L861.21,3379.61 L865.54,3380.23 L869.90,3380.85 L874.29,3381.46 L878.71,3382.06 L883.16,3382.66 L887.64,3383.26 L892.15,3383.85 L896.69,3384.43 L901.26,3385.02 L905.86,3385.59 L910.49,3386.16 L915.15,3386.73 L919.85,3387.30 L924.57,3387.86 L929.33,3388.41 L934.12,3388.97 L938.94,3389.52 L943.79,3390.06 L948.68,3390.60 L953.60,3391.14 L958.55,3391.68 L963.53,3392.21 L968.55,3392.74 L973.60,3393.26 L978.69,3393.79 L983.81,3394.31 L988.96,3394.82 L994.15,3395.34 L999.37,3395.85 L1004.63,3396.35 L1009.93,3396.86 L1015.25,3397.36 L1020.62,3397.85 L1026.02,3398.35 L1031.46,3398.84 L1036.93,3399.33 L1042.44,3399.81 L1047.99,3400.29 L1053.57,3400.77 L1059.19,3401.24 L1064.85,3401.72 L1070.55,3402.18 L1076.29,3402.65 L1082.06,3403.11 L1087.87,3403.57 L1093.72,3404.02 L1099.61,3404.47 L1105.55,3404.92 L1111.52,3405.37 L1117.53,3405.81 L1123.58,3406.25 L1129.67,3406.68 L1135.80,3407.11 L1141.97,3407.54 L1148.19,3407.97 L1154.44,3408.39 L1160.74,3408.81 L1167.08,3409.22 L1173.46,3409.63 L1179.89,3410.04 L1186.36,3410.45 L1192.87,3410.85 L1199.42,3411.25 L1206.02,3411.64 L1212.67,3412.03 L1219.36,3412.42 L1226.09,3412.80 L1232.87,3413.19 L1239.69,3413.56 L1246.56,3413.94 L1253.48,3414.31 L1260.44,3414.67 L1267.45,3415.04 L1274.50,3415.40 L1281.60,3415.75 L1288.75,3416.11 L1295.95,3416.46 L1303.20,3416.80 L1310.49,3417.15 L1317.84,3417.49 L1325.23,3417.82 L1332.67,3418.15 L1340.17,3418.48 L1347.71,3418.81 L1355.30,3419.13 L1362.95,3419.45 L1370.64,3419.76 L1378.39,3420.07 L1386.19,3420.38 L1394.04,3420.68 L1401.95,3420.98 L1409.90,3421.28 L1417.91,3421.57 L1425.98,3421.86 L1434.10,3422.15 L1442.27,3422.43 L1450.50,3422.71 L1458.78,3422.99 L1467.12,3423.26 L1475.51,3423.53 L1483.96,3423.79 L1492.47,3424.05 L1501.03,3424.31 L1509.65,3424.56 L1518.33,3424.81 L1527.07,3425.06 L1535.87,3425.30 L1544.72,3425.54 L1553.64,3425.77 L1562.61,3426.01 L1571.64,3426.23 L1580.74,3426.46 L1589.90,3426.68 L1599.11,3426.89 L1608.39,3427.11 L1617.73,3427.32 L1627.14,3427.52 L1636.60,3427.72 L1646.13,3427.92 L1655.73,3428.12 L1665.39,3428.31 L1675.11,3428.49 L1684.90,3428.68 L1694.75,3428.85 L1704.67,3429.03 L1714.66,3429.20 L1724.71,3429.37 L1734.83,3429.53 L1745.02,3429.69 L1755.28,3429.85 L1765.61,3430.00 L1776.00,3430.15 L1786.47,3430.30 L1797.00,3430.44 L1807.61,3430.58 L1818.28,3430.71 L1829.03,3430.84 L1839.85,3430.96 L1850.74,3431.09 L1861.71,3431.20 L1872.75,3431.32 L1883.86,3431.43 L1895.05,3431.53 L1906.31,3431.64 L1917.65,3431.74 L1929.07,3431.83 L1940.56,3431.92 L1952.12,3432.01 L1963.77,3432.09 L1975.49,3432.17 L1987.30,3432.25 L1999.18,3432.32 L2011.14,3432.38 L2023.18,3432.45 L2035.30,3432.51 L2047.50,3432.56 L2059.79,3432.61 L2072.16,3432.66 L2084.61,3432.70 L2097.14,3432.74 L2109.76,3432.78 L2122.46,3432.81 L2135.25,3432.84 L2148.12,3432.86 L2161.08,3432.88 L2174.13,3432.90 L2187.26,3432.91 L2200.48,3432.91 L2213.79,3432.92 L2227.19,3432.92 L2240.68,3432.91 L2254.26,3432.90 L2267.93,3432.89 L2281.70,3432.87 L2295.55,3432.85 L2309.50,3432.83 L2323.54,3432.80 L2337.67,3432.76 L2351.91,3432.73 L2366.23,3432.69 L2380.65,3432.64 L2395.17,3432.59 L2409.79,3432.54 L2424.50,3432.48" stroke="#00ff00"/>
</g>
<rect x="230.0" y="2544.4" width="2194.5" height="991.5999999999999" fill="none" stroke="#262626" stroke-width="1.5"/>
<path d="M230.00,3536.0V3514.10M230.00,2544.4V2566.30M449.45,3536.0V3514.10M449.45,2544.4V2566.30M668.90,3536.0V3514.10M668.90,2544.4V2566.30M888.35,3536.0V3514.10M888.35,2544.4V2566.30M1107.80,3536.0V3514.10M1107.80,2544.4V2566.30M1327.25,3536.0V3514.10M1327.25,2544.4V2566.30M1546.70,3536.0V3514.10M1546.70,2544.4V2566.30M1766.15,3536.0V3514.10M1766.15,2544.4V2566.30M1985.60,3536.0V3514.10M1985.60,2544.4V2566.30M2205.05,3536.0V3514.10M2205.05,2544.4V2566.30M2424.50,3536.0V3514.10M2424.50,2544.4V2566.30M230.0,3536.00H251.90M2424.5,3536.00H2402.60M230.0,3412.05H251.90M2424.5,3412.05H2402.60M230.0,3288.10H251.90M2424.5,3288.10H2402.60M230.0,3164.15H251.90M2424.5,3164.15H2402.60M230.0,3040.20H251.90M2424.5,3040.20H2402.60M230.0,2916.25H251.90M2424.5,2916.25H2402.60M230.0,2792.30H251.90M2424.5,2792.30H2402.60M230.0,2668.35H251.90M2424.5,2668.35H2402.60M230.0,2544.40H251.90M2424.5,2544.40H2402.60" stroke="#262626" stroke-width="1.5" fill="none"/>
<text transform="translate(228.40,3605.70) scale(1.0300,1.0000)" text-anchor="middle" font-size="53.50" fill="#262626">0</text>
<text transform="translate(447.85,3605.70) scale(1.0300,1.0000)" text-anchor="middle" font-size="53.50" fill="#262626">5</text>
<text transform="translate(667.30,3605.70) scale(1.0300,1.0000)" text-anchor="middle" font-size="53.50" fill="#262626">10</text>
<text transform="translate(886.75,3605.70) scale(1.0300,1.0000)" text-anchor="middle" font-size="53.50" fill="#262626">15</text>
<text transform="translate(1106.20,3605.70) scale(1.0300,1.0000)" text-anchor="middle" font-size="53.50" fill="#262626">20</text>
<text transform="translate(1325.65,3605.70) scale(1.0300,1.0000)" text-anchor="middle" font-size="53.50" fill="#262626">25</text>
<text transform="translate(1545.10,3605.70) scale(1.0300,1.0000)" text-anchor="middle" font-size="53.50" fill="#262626">30</text>
<text transform="translate(1764.55,3605.70) scale(1.0300,1.0000)" text-anchor="middle" font-size="53.50" fill="#262626">35</text>
<text transform="translate(1984.00,3605.70) scale(1.0300,1.0000)" text-anchor="middle" font-size="53.50" fill="#262626">40</text>
<text transform="translate(2203.45,3605.70) scale(1.0300,1.0000)" text-anchor="middle" font-size="53.50" fill="#262626">45</text>
<text transform="translate(2422.90,3605.70) scale(1.0300,1.0000)" text-anchor="middle" font-size="53.50" fill="#262626">50</text>
<text transform="translate(210.70,3557.65) scale(1.0300,1.0000)" text-anchor="end" font-size="53.50" fill="#262626">0.05</text>
<text transform="translate(210.70,3433.70) scale(1.0300,1.0000)" text-anchor="end" font-size="53.50" fill="#262626">0.1</text>
<text transform="translate(210.70,3309.75) scale(1.0300,1.0000)" text-anchor="end" font-size="53.50" fill="#262626">0.15</text>
<text transform="translate(210.70,3185.80) scale(1.0300,1.0000)" text-anchor="end" font-size="53.50" fill="#262626">0.2</text>
<text transform="translate(210.70,3061.85) scale(1.0300,1.0000)" text-anchor="end" font-size="53.50" fill="#262626">0.25</text>
<text transform="translate(210.70,2937.90) scale(1.0300,1.0000)" text-anchor="end" font-size="53.50" fill="#262626">0.3</text>
<text transform="translate(210.70,2813.95) scale(1.0300,1.0000)" text-anchor="end" font-size="53.50" fill="#262626">0.35</text>
<text transform="translate(210.70,2690.00) scale(1.0300,1.0000)" text-anchor="end" font-size="53.50" fill="#262626">0.4</text>
<text transform="translate(210.70,2566.05) scale(1.0300,1.0000)" text-anchor="end" font-size="53.50" fill="#262626">0.45</text>
<text transform="translate(1319.03,3671.59) scale(0.9627,1.0000)" text-anchor="start" font-size="52.88" fill="#262626">t</text>
<text transform="translate(82.70,3296.77) rotate(-90) scale(0.8944,1)" text-anchor="start" font-size="56.0" fill="#262626">Solube micropollutants</text>
<rect x="2213.0" y="2568.70" width="184.6" height="268.2" fill="#ffffff" stroke="#262626" stroke-width="1.5"/>
<path d="M2221,2604.90H2304" stroke="#ff0000" stroke-width="6"/>
<text transform="translate(2310.50,2625.70) scale(1.0700,1.0000)" text-anchor="start" font-size="51.90" fill="#000000">0.7</text>
<path d="M2221,2670.25H2304" stroke="#000000" stroke-width="6"/>
<text transform="translate(2310.50,2691.05) scale(1.0700,1.0000)" text-anchor="start" font-size="51.90" fill="#000000">0.8</text>
<path d="M2221,2735.60H2304" stroke="#0000ff" stroke-width="6"/>
<text transform="translate(2310.50,2756.40) scale(1.0700,1.0000)" text-anchor="start" font-size="51.90" fill="#000000">0.9</text>
<path d="M2221,2800.95H2304" stroke="#00ff00" stroke-width="6"/>
<text transform="translate(2310.50,2821.75) scale(1.0700,1.0000)" text-anchor="start" font-size="51.90" fill="#000000">1.0</text>
</svg>
</body></html>
